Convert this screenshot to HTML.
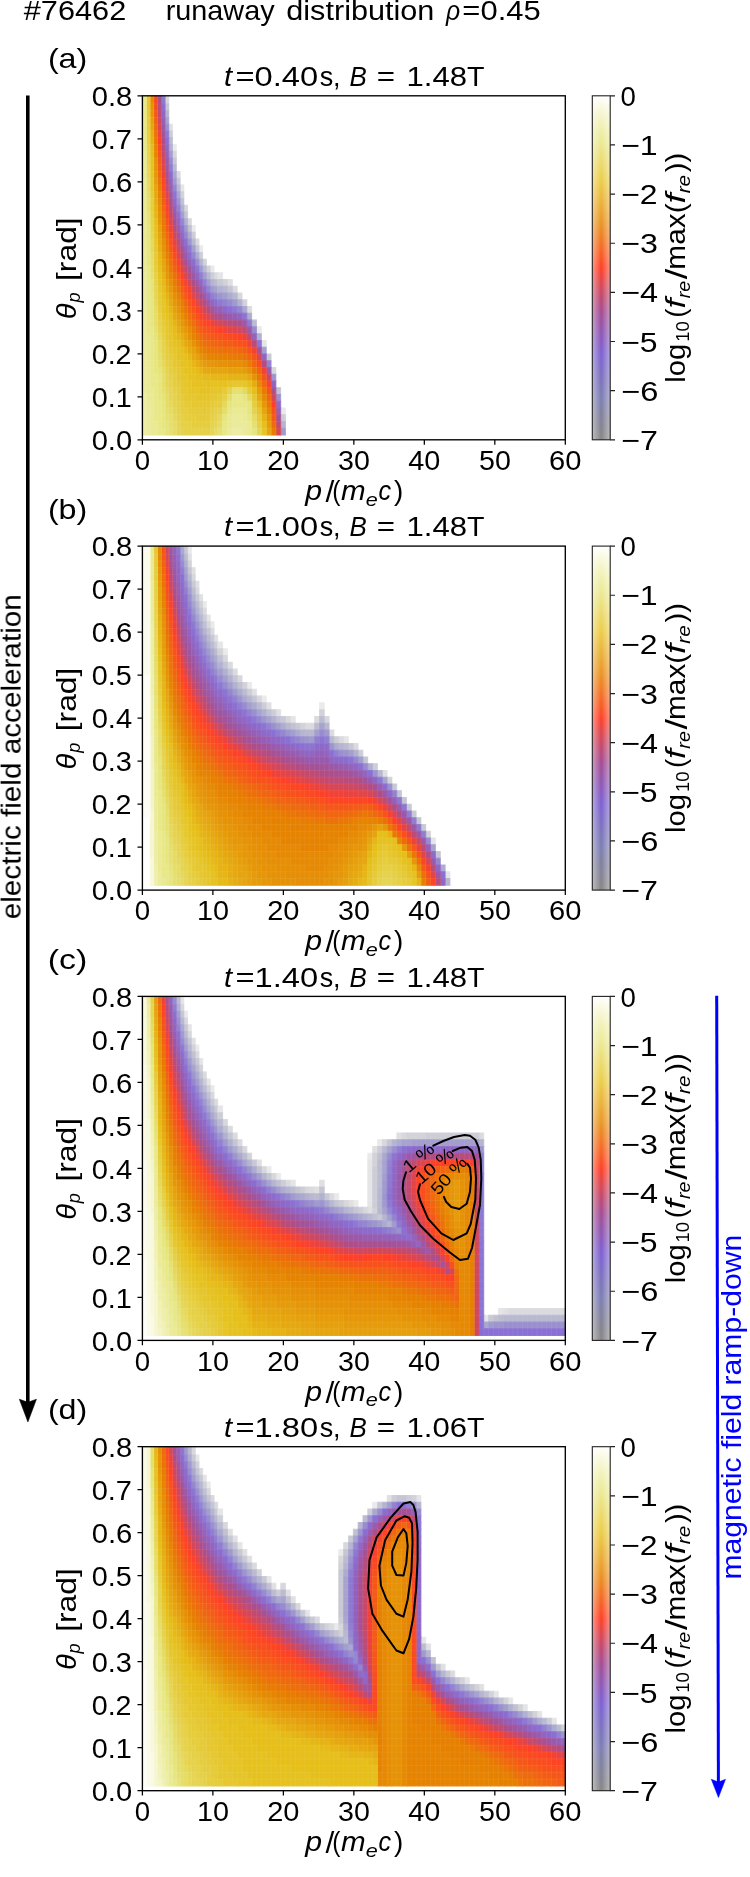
<!DOCTYPE html>
<html><head><meta charset="utf-8"><title>#76462 runaway distribution</title>
<style>html,body{margin:0;padding:0;background:#fff}svg{display:block}text{font-family:"Liberation Sans",sans-serif;font-kerning:none;white-space:pre}</style></head>
<body>
<svg width="750" height="1877" viewBox="0 0 750 1877">
<defs><linearGradient id="cbv" x1="0" y1="0" x2="0" y2="1"><stop offset="0.0000" stop-color="#ffffff"/><stop offset="0.0179" stop-color="#fcfced"/><stop offset="0.0357" stop-color="#f8f8dd"/><stop offset="0.0536" stop-color="#f5f5cd"/><stop offset="0.0714" stop-color="#f2f2bf"/><stop offset="0.0893" stop-color="#f0f0b1"/><stop offset="0.1071" stop-color="#ededa5"/><stop offset="0.1250" stop-color="#ebeb99"/><stop offset="0.1429" stop-color="#ebe78e"/><stop offset="0.1607" stop-color="#ebe282"/><stop offset="0.1786" stop-color="#ebde76"/><stop offset="0.1964" stop-color="#ebd96b"/><stop offset="0.2143" stop-color="#ebd55f"/><stop offset="0.2321" stop-color="#ebd053"/><stop offset="0.2500" stop-color="#ebcc48"/><stop offset="0.2679" stop-color="#ebc443"/><stop offset="0.2857" stop-color="#ebbc3e"/><stop offset="0.3036" stop-color="#eab439"/><stop offset="0.3214" stop-color="#eaac34"/><stop offset="0.3393" stop-color="#eaa32e"/><stop offset="0.3571" stop-color="#ea9b29"/><stop offset="0.3750" stop-color="#ea9224"/><stop offset="0.3929" stop-color="#ec8723"/><stop offset="0.4107" stop-color="#ef7c23"/><stop offset="0.4286" stop-color="#f27123"/><stop offset="0.4464" stop-color="#f56524"/><stop offset="0.4643" stop-color="#f85924"/><stop offset="0.4821" stop-color="#fb4d25"/><stop offset="0.5000" stop-color="#ff4026"/><stop offset="0.5179" stop-color="#f14136"/><stop offset="0.5357" stop-color="#e34346"/><stop offset="0.5536" stop-color="#d64556"/><stop offset="0.5714" stop-color="#c94665"/><stop offset="0.5893" stop-color="#bc4873"/><stop offset="0.6071" stop-color="#b14a82"/><stop offset="0.6250" stop-color="#a54b8f"/><stop offset="0.6429" stop-color="#9e4e9a"/><stop offset="0.6607" stop-color="#9751a4"/><stop offset="0.6786" stop-color="#9154ad"/><stop offset="0.6964" stop-color="#8b57b7"/><stop offset="0.7143" stop-color="#865ac0"/><stop offset="0.7321" stop-color="#815dc8"/><stop offset="0.7500" stop-color="#7d61d0"/><stop offset="0.7679" stop-color="#7c65cb"/><stop offset="0.7857" stop-color="#7c69c6"/><stop offset="0.8036" stop-color="#7c6dc2"/><stop offset="0.8214" stop-color="#7c71bd"/><stop offset="0.8393" stop-color="#7c75ba"/><stop offset="0.8571" stop-color="#7c79b6"/><stop offset="0.8750" stop-color="#7d7db3"/><stop offset="0.8929" stop-color="#7e7eab"/><stop offset="0.9107" stop-color="#7f7fa3"/><stop offset="0.9286" stop-color="#80809c"/><stop offset="0.9464" stop-color="#828296"/><stop offset="0.9643" stop-color="#838390"/><stop offset="0.9821" stop-color="#85858b"/><stop offset="1.0000" stop-color="#878787"/></linearGradient>
<linearGradient id="cbh" x1="0" y1="0" x2="1" y2="0"><stop offset="0" stop-color="#fff" stop-opacity=".45"/><stop offset=".5" stop-color="#fff" stop-opacity="0"/><stop offset="1" stop-color="#fff" stop-opacity=".45"/></linearGradient>
<clipPath id="clip0"><rect x="142.40" y="95.80" width="422.90" height="344.00"/></clipPath>
<clipPath id="clip1"><rect x="142.40" y="546.10" width="422.90" height="344.00"/></clipPath>
<clipPath id="clip2"><rect x="142.40" y="996.40" width="422.90" height="344.00"/></clipPath>
<clipPath id="clip3"><rect x="142.40" y="1446.70" width="422.90" height="344.00"/></clipPath>
</defs>
<rect width="750" height="1877" fill="#fff"/><g style="will-change:transform">
<text x="23.77" y="20.00" font-size="27.51" textLength="102.48" lengthAdjust="spacingAndGlyphs">#76462</text>
<text x="165.69" y="20.00" font-size="27.51" textLength="108.87" lengthAdjust="spacingAndGlyphs">runaway</text>
<text x="286.31" y="20.00" font-size="27.51" textLength="148.07" lengthAdjust="spacingAndGlyphs">distribution</text>
<text x="445.90" y="20.00" font-size="27.51" textLength="14.16" lengthAdjust="spacingAndGlyphs" font-style="italic">ρ</text>
<text x="462.39" y="20.00" font-size="27.51" textLength="78.31" lengthAdjust="spacingAndGlyphs">=0.45</text>
<g clip-path="url(#clip0)"><g stroke-width=".16" transform="matrix(3.7673 0 0 -6.7544 142.541 434.984)"><path fill="#eaeaeb" stroke="#eaeaeb" d="M18 24h1v1h-1zM15 27h1v1h-1zM13 30h1v1h-1zM8 42h1v1h-1zM6 50h1v1h-1z"/><path fill="#e5e5e7" stroke="#e5e5e7" d="M10 36h1v1h-1z"/><path fill="#e0e0e3" stroke="#e0e0e3" d="M7 45h1v1h-1z"/><path fill="#dbdbdf" stroke="#dbdbdf" d="M19 23h1v1h-1zM14 28h1v1h-1zM9 38h1v1h-1z"/><path fill="#d7d7dc" stroke="#d7d7dc" d="M12 31h1v1h-1zM11 33h1v1h-1zM8 41h1v1h-1zM6 49h1v1h-1z"/><path fill="#d2d2d9" stroke="#d2d2d9" d="M17 24h1v1h-1zM16 25h1v1h-1zM10 35h1v1h-1z"/><path fill="#cdcdd7" stroke="#cdcdd7" d="M18 23h1v1h-1zM15 26h1v1h-1zM13 29h1v1h-1zM7 44h1v1h-1z"/><path fill="#c9c9d5" stroke="#c9c9d5" d="M9 37h1v1h-1zM8 40h1v1h-1z"/><path fill="#c5c5d3" stroke="#c5c5d3" d="M14 27h1v1h-1zM11 32h1v1h-1zM6 48h1v1h-1z"/><path fill="#c1c1d2" stroke="#c1c1d2" d="M12 30h1v1h-1zM10 34h1v1h-1z"/><path fill="#bcbcd1" stroke="#bcbcd1" d="M19 22h1v1h-1zM7 43h1v1h-1z"/><path fill="#b8b8d1" stroke="#b8b8d1" d="M17 23h1v1h-1zM16 24h1v1h-1zM13 28h1v1h-1zM9 36h1v1h-1zM8 39h1v1h-1z"/><path fill="#b5b5d1" stroke="#b5b5d1" d="M18 22h1v1h-1zM15 25h1v1h-1zM6 47h1v1h-1z"/><path fill="#b1b1d1" stroke="#b1b1d1" d="M11 31h1v1h-1zM10 33h1v1h-1zM7 42h1v1h-1z"/><path fill="#adacd0" stroke="#adacd0" d="M14 26h1v1h-1zM12 29h1v1h-1z"/><path fill="#aaa8cf" stroke="#aaa8cf" d="M9 35h1v1h-1zM8 38h1v1h-1z"/><path fill="#a6a3cf" stroke="#a6a3cf" d="M19 21h1v1h-1zM6 46h1v1h-1z"/><path fill="#a39ece" stroke="#a39ece" d="M17 22h1v1h-1zM16 23h1v1h-1zM13 27h1v1h-1zM10 32h1v1h-1zM7 41h1v1h-1z"/><path fill="#a09ace" stroke="#a09ace" d="M18 21h1v1h-1zM15 24h1v1h-1zM11 30h1v1h-1zM8 37h1v1h-1z"/><path fill="#9d95ce" stroke="#9d95ce" d="M12 28h1v1h-1zM9 34h1v1h-1z"/><path fill="#9a90ce" stroke="#9a90ce" d="M14 25h1v1h-1zM6 45h1v1h-1z"/><path fill="#988ccf" stroke="#988ccf" d="M7 40h1v1h-1zM5 50h1v1h-1z"/><path fill="#9587cf" stroke="#9587cf" d="M19 20h1v1h-1zM13 26h1v1h-1zM11 29h1v1h-1zM10 31h1v1h-1zM8 36h1v1h-1z"/><path fill="#9282d0" stroke="#9282d0" d="M17 21h1v1h-1zM16 22h1v1h-1zM9 33h1v1h-1z"/><path fill="#907ed1" stroke="#907ed1" d="M18 20h1v1h-1zM15 23h1v1h-1zM7 39h1v1h-1z"/><path fill="#8e79d2" stroke="#8e79d2" d="M12 27h1v1h-1zM6 44h1v1h-1zM5 49h1v1h-1z"/><path fill="#8c74d3" stroke="#8c74d3" d="M14 24h1v1h-1zM10 30h1v1h-1zM8 35h1v1h-1z"/><path fill="#8a70d5" stroke="#8a70d5" d="M11 28h1v1h-1zM9 32h1v1h-1z"/><path fill="#8b6dd1" stroke="#8b6dd1" d="M19 19h1v1h-1zM13 25h1v1h-1zM7 38h1v1h-1zM6 43h1v1h-1zM5 48h1v1h-1z"/><path fill="#8c6bcd" stroke="#8c6bcd" d="M16 21h1v1h-1zM12 26h1v1h-1zM8 34h1v1h-1z"/><path fill="#8d68c9" stroke="#8d68c9" d="M17 20h1v1h-1zM15 22h1v1h-1zM10 29h1v1h-1z"/><path fill="#8f66c4" stroke="#8f66c4" d="M18 19h1v1h-1zM14 23h1v1h-1zM9 31h1v1h-1zM7 37h1v1h-1zM6 42h1v1h-1zM5 47h1v1h-1z"/><path fill="#9164c0" stroke="#9164c0" d="M11 27h1v1h-1z"/><path fill="#9361bb" stroke="#9361bb" d="M13 24h1v1h-1zM8 33h1v1h-1zM6 41h1v1h-1z"/><path fill="#955fb6" stroke="#955fb6" d="M12 25h1v1h-1zM7 36h1v1h-1zM5 46h1v1h-1z"/><path fill="#975db2" stroke="#975db2" d="M19 18h1v1h-1zM10 28h1v1h-1zM9 30h1v1h-1z"/><path fill="#995aad" stroke="#995aad" d="M17 19h1v1h-1zM16 20h1v1h-1zM15 21h1v1h-1zM11 26h1v1h-1zM6 40h1v1h-1zM5 45h1v1h-1z"/><path fill="#9c58a7" stroke="#9c58a7" d="M14 22h1v1h-1zM13 23h1v1h-1zM8 32h1v1h-1zM7 35h1v1h-1z"/><path fill="#9e56a2" stroke="#9e56a2" d="M18 18h1v1h-1zM6 39h1v1h-1z"/><path fill="#a1549d" stroke="#a1549d" d="M12 24h1v1h-1zM10 27h1v1h-1zM9 29h1v1h-1zM5 44h1v1h-1zM4 50h1v1h-1z"/><path fill="#a45297" stroke="#a45297" d="M8 31h1v1h-1z"/><path fill="#a75092" stroke="#a75092" d="M11 25h1v1h-1zM7 34h1v1h-1zM6 38h1v1h-1z"/><path fill="#ad4e8b" stroke="#ad4e8b" d="M16 19h1v1h-1zM15 20h1v1h-1zM14 21h1v1h-1zM13 22h1v1h-1zM5 43h1v1h-1zM4 49h1v1h-1z"/><path fill="#b24d84" stroke="#b24d84" d="M19 17h1v1h-1zM17 18h1v1h-1zM12 23h1v1h-1zM10 26h1v1h-1zM9 28h1v1h-1zM6 37h1v1h-1z"/><path fill="#b84c7d" stroke="#b84c7d" d="M8 30h1v1h-1zM7 33h1v1h-1zM5 42h1v1h-1zM4 48h1v1h-1z"/><path fill="#bd4b76" stroke="#bd4b76" d="M18 17h1v1h-1zM11 24h1v1h-1z"/><path fill="#c34a6e" stroke="#c34a6e" d="M15 19h1v1h-1zM14 20h1v1h-1zM9 27h1v1h-1zM6 36h1v1h-1zM5 41h1v1h-1zM4 47h1v1h-1z"/><path fill="#c94867" stroke="#c94867" d="M16 18h1v1h-1zM13 21h1v1h-1zM10 25h1v1h-1zM8 29h1v1h-1zM7 32h1v1h-1z"/><path fill="#d0475f" stroke="#d0475f" d="M12 22h1v1h-1zM4 46h1v1h-1z"/><path fill="#d64657" stroke="#d64657" d="M17 17h1v1h-1zM11 23h1v1h-1zM6 35h1v1h-1zM5 40h1v1h-1z"/><path fill="#dc454f" stroke="#dc454f" d="M19 16h1v1h-1zM9 26h1v1h-1zM7 31h1v1h-1z"/><path fill="#e34447" stroke="#e34447" d="M15 18h1v1h-1zM14 19h1v1h-1zM13 20h1v1h-1zM10 24h1v1h-1zM8 28h1v1h-1zM5 39h1v1h-1zM4 45h1v1h-1z"/><path fill="#ea433f" stroke="#ea433f" d="M18 16h1v1h-1zM16 17h1v1h-1zM6 34h1v1h-1z"/><path fill="#f14237" stroke="#f14237" d="M12 21h1v1h-1zM7 30h1v1h-1zM5 38h1v1h-1zM4 44h1v1h-1z"/><path fill="#f8412f" stroke="#f8412f" d="M11 22h1v1h-1zM9 25h1v1h-1zM8 27h1v1h-1zM6 33h1v1h-1z"/><path fill="#ff4026" stroke="#ff4026" d="M17 16h1v1h-1zM15 17h1v1h-1zM14 18h1v1h-1zM10 23h1v1h-1zM4 43h1v1h-1zM3 50h1v1h-1z"/><path fill="#fd4523" stroke="#fd4523" d="M19 15h1v1h-1zM16 16h1v1h-1zM13 19h1v1h-1zM12 20h1v1h-1zM7 29h1v1h-1zM6 32h1v1h-1zM5 37h1v1h-1z"/><path fill="#fb4921" stroke="#fb4921" d="M18 15h1v1h-1zM11 21h1v1h-1zM9 24h1v1h-1zM8 26h1v1h-1zM5 36h1v1h-1zM4 42h1v1h-1zM3 49h1v1h-1z"/><path fill="#fa4e1e" stroke="#fa4e1e" d="M17 15h1v1h-1zM15 16h1v1h-1zM14 17h1v1h-1zM10 22h1v1h-1zM7 28h1v1h-1zM3 48h1v1h-1z"/><path fill="#f8521b" stroke="#f8521b" d="M19 14h1v1h-1zM16 15h1v1h-1zM13 18h1v1h-1zM12 19h1v1h-1zM6 31h1v1h-1zM5 35h1v1h-1zM4 41h1v1h-1z"/><path fill="#f65718" stroke="#f65718" d="M18 14h1v1h-1zM11 20h1v1h-1zM9 23h1v1h-1zM8 25h1v1h-1zM7 27h1v1h-1zM3 47h1v1h-1z"/><path fill="#f45b16" stroke="#f45b16" d="M17 14h1v1h-1zM15 15h1v1h-1zM14 16h1v1h-1zM10 21h1v1h-1zM6 30h1v1h-1zM5 34h1v1h-1zM4 40h1v1h-1z"/><path fill="#f26013" stroke="#f26013" d="M16 14h1v1h-1zM13 17h1v1h-1zM12 18h1v1h-1zM8 24h1v1h-1zM4 39h1v1h-1zM3 46h1v1h-1z"/><path fill="#f16510" stroke="#f16510" d="M18 13h1v1h-1zM19 13h1v1h-1zM11 19h1v1h-1zM9 22h1v1h-1zM7 26h1v1h-1zM6 29h1v1h-1zM5 33h1v1h-1z"/><path fill="#ef690e" stroke="#ef690e" d="M17 13h1v1h-1zM15 14h1v1h-1zM14 15h1v1h-1zM10 20h1v1h-1zM4 38h1v1h-1zM3 45h1v1h-1z"/><path fill="#ed6e0b" stroke="#ed6e0b" d="M16 13h1v1h-1zM13 16h1v1h-1zM12 17h1v1h-1zM8 23h1v1h-1zM7 25h1v1h-1zM6 28h1v1h-1zM5 32h1v1h-1z"/><path fill="#eb7208" stroke="#eb7208" d="M19 12h1v1h-1zM11 18h1v1h-1zM9 21h1v1h-1zM4 37h1v1h-1zM3 44h1v1h-1z"/><path fill="#ea7705" stroke="#ea7705" d="M17 12h1v1h-1zM18 12h1v1h-1zM15 13h1v1h-1zM14 14h1v1h-1zM7 24h1v1h-1zM6 27h1v1h-1zM5 31h1v1h-1zM3 43h1v1h-1z"/><path fill="#e87b03" stroke="#e87b03" d="M16 12h1v1h-1zM13 15h1v1h-1zM12 16h1v1h-1zM10 19h1v1h-1zM8 22h1v1h-1zM5 30h1v1h-1zM4 36h1v1h-1z"/><path fill="#e68000" stroke="#e68000" d="M19 11h1v1h-1zM11 17h1v1h-1zM9 20h1v1h-1zM6 26h1v1h-1zM3 42h1v1h-1z"/><path fill="#e68402" stroke="#e68402" d="M17 11h1v1h-1zM18 11h1v1h-1zM15 12h1v1h-1zM14 13h1v1h-1zM13 14h1v1h-1zM10 18h1v1h-1zM8 21h1v1h-1zM7 23h1v1h-1zM5 29h1v1h-1zM4 35h1v1h-1zM3 41h1v1h-1zM2 50h1v1h-1z"/><path fill="#e68904" stroke="#e68904" d="M16 11h1v1h-1zM12 15h1v1h-1zM11 16h1v1h-1zM9 19h1v1h-1zM6 25h1v1h-1zM4 34h1v1h-1zM2 49h1v1h-1z"/><path fill="#e68e06" stroke="#e68e06" d="M10 17h1v1h-1zM8 20h1v1h-1zM7 22h1v1h-1zM5 28h1v1h-1zM4 33h1v1h-1zM3 40h1v1h-1z"/><path fill="#e69207" stroke="#e69207" d="M19 10h1v1h-1zM15 11h1v1h-1zM14 12h1v1h-1zM13 13h1v1h-1zM12 14h1v1h-1zM9 18h1v1h-1zM6 24h1v1h-1zM5 27h1v1h-1zM4 32h1v1h-1zM3 39h1v1h-1zM2 48h1v1h-1z"/><path fill="#e69609" stroke="#e69609" d="M17 10h1v1h-1zM18 10h1v1h-1zM11 15h1v1h-1zM10 16h1v1h-1zM8 19h1v1h-1zM7 21h1v1h-1zM6 23h1v1h-1zM4 31h1v1h-1zM3 38h1v1h-1zM2 47h1v1h-1z"/><path fill="#e69b0b" stroke="#e69b0b" d="M16 10h1v1h-1zM9 17h1v1h-1zM5 26h1v1h-1zM3 37h1v1h-1z"/><path fill="#e6a00d" stroke="#e6a00d" d="M14 11h1v1h-1zM13 12h1v1h-1zM12 13h1v1h-1zM11 14h1v1h-1zM10 15h1v1h-1zM8 18h1v1h-1zM7 20h1v1h-1zM6 22h1v1h-1zM4 30h1v1h-1zM2 46h1v1h-1z"/><path fill="#e6a40f" stroke="#e6a40f" d="M18 9h1v1h-1zM19 9h1v1h-1zM15 10h1v1h-1zM9 16h1v1h-1zM5 25h1v1h-1zM4 29h1v1h-1zM3 36h1v1h-1zM2 45h1v1h-1z"/><path fill="#e6a811" stroke="#e6a811" d="M16 9h1v1h-1zM17 9h1v1h-1zM13 11h1v1h-1zM12 12h1v1h-1zM11 13h1v1h-1zM8 17h1v1h-1zM7 19h1v1h-1zM6 21h1v1h-1zM5 24h1v1h-1zM4 28h1v1h-1zM3 35h1v1h-1z"/><path fill="#e6ad13" stroke="#e6ad13" d="M14 10h1v1h-1zM10 14h1v1h-1zM9 15h1v1h-1zM4 27h1v1h-1zM3 34h1v1h-1zM2 44h1v1h-1z"/><path fill="#e6b214" stroke="#e6b214" d="M15 9h1v1h-1zM8 16h1v1h-1zM7 18h1v1h-1zM6 20h1v1h-1zM5 23h1v1h-1zM3 33h1v1h-1zM2 43h1v1h-1z"/><path fill="#e6b616" stroke="#e6b616" d="M18 8h1v1h-1zM19 8h1v1h-1zM13 10h1v1h-1zM12 11h1v1h-1zM11 12h1v1h-1zM10 13h1v1h-1zM9 14h1v1h-1zM4 26h1v1h-1zM3 32h1v1h-1z"/><path fill="#e6ba18" stroke="#e6ba18" d="M16 8h1v1h-1zM17 8h1v1h-1zM14 9h1v1h-1zM8 15h1v1h-1zM7 17h1v1h-1zM6 19h1v1h-1zM5 22h1v1h-1zM4 25h1v1h-1zM2 42h1v1h-1z"/><path fill="#e6bf1a" stroke="#e6bf1a" d="M17 7h1v1h-1zM14 8h1v1h-1zM15 8h1v1h-1zM13 9h1v1h-1zM12 10h1v1h-1zM11 11h1v1h-1zM10 12h1v1h-1zM9 13h1v1h-1zM8 14h1v1h-1zM7 16h1v1h-1zM6 18h1v1h-1zM5 21h1v1h-1zM4 24h1v1h-1zM3 31h1v1h-1zM2 41h1v1h-1z"/><path fill="#e6c221" stroke="#e6c221" d="M15 6h1v1h-1zM16 6h1v1h-1zM17 6h1v1h-1zM13 7h1v1h-1zM14 7h1v1h-1zM15 7h1v1h-1zM16 7h1v1h-1zM18 7h1v1h-1zM19 7h1v1h-1zM12 8h1v1h-1zM13 8h1v1h-1zM11 9h1v1h-1zM12 9h1v1h-1zM10 10h1v1h-1zM11 10h1v1h-1zM9 11h1v1h-1zM10 11h1v1h-1zM9 12h1v1h-1zM8 13h1v1h-1zM7 15h1v1h-1zM6 17h1v1h-1zM5 20h1v1h-1zM4 23h1v1h-1zM3 29h1v1h-1zM3 30h1v1h-1zM2 39h1v1h-1zM2 40h1v1h-1z"/><path fill="#e6c529" stroke="#e6c529" d="M14 5h1v1h-1zM15 5h1v1h-1zM16 5h1v1h-1zM17 5h1v1h-1zM12 6h1v1h-1zM13 6h1v1h-1zM14 6h1v1h-1zM18 6h1v1h-1zM19 6h1v1h-1zM11 7h1v1h-1zM12 7h1v1h-1zM10 8h1v1h-1zM11 8h1v1h-1zM10 9h1v1h-1zM9 10h1v1h-1zM8 12h1v1h-1zM7 13h1v1h-1zM7 14h1v1h-1zM6 16h1v1h-1zM5 18h1v1h-1zM5 19h1v1h-1zM4 22h1v1h-1zM3 28h1v1h-1zM2 38h1v1h-1zM1 50h1v1h-1z"/><path fill="#e6c730" stroke="#e6c730" d="M16 3h1v1h-1zM13 4h1v1h-1zM14 4h1v1h-1zM15 4h1v1h-1zM16 4h1v1h-1zM17 4h1v1h-1zM11 5h1v1h-1zM12 5h1v1h-1zM13 5h1v1h-1zM18 5h1v1h-1zM19 5h1v1h-1zM10 6h1v1h-1zM11 6h1v1h-1zM10 7h1v1h-1zM9 8h1v1h-1zM9 9h1v1h-1zM8 10h1v1h-1zM8 11h1v1h-1zM7 12h1v1h-1zM6 14h1v1h-1zM6 15h1v1h-1zM5 17h1v1h-1zM4 21h1v1h-1zM3 27h1v1h-1zM2 36h1v1h-1zM2 37h1v1h-1zM1 48h1v1h-1zM1 49h1v1h-1z"/><path fill="#e6ca37" stroke="#e6ca37" d="M14 2h1v1h-1zM15 2h1v1h-1zM16 2h1v1h-1zM17 2h1v1h-1zM12 3h1v1h-1zM13 3h1v1h-1zM14 3h1v1h-1zM15 3h1v1h-1zM17 3h1v1h-1zM11 4h1v1h-1zM12 4h1v1h-1zM18 4h1v1h-1zM10 5h1v1h-1zM9 7h1v1h-1zM8 9h1v1h-1zM7 11h1v1h-1zM6 13h1v1h-1zM5 16h1v1h-1zM4 19h1v1h-1zM4 20h1v1h-1zM3 25h1v1h-1zM3 26h1v1h-1zM2 35h1v1h-1zM1 47h1v1h-1z"/><path fill="#e6cd3e" stroke="#e6cd3e" d="M13 1h1v1h-1zM14 1h1v1h-1zM15 1h1v1h-1zM16 1h1v1h-1zM17 1h1v1h-1zM11 2h1v1h-1zM12 2h1v1h-1zM13 2h1v1h-1zM10 3h1v1h-1zM11 3h1v1h-1zM18 3h1v1h-1zM10 4h1v1h-1zM19 4h1v1h-1zM9 5h1v1h-1zM9 6h1v1h-1zM8 7h1v1h-1zM8 8h1v1h-1zM7 9h1v1h-1zM7 10h1v1h-1zM6 11h1v1h-1zM6 12h1v1h-1zM5 15h1v1h-1zM4 18h1v1h-1zM3 24h1v1h-1zM2 33h1v1h-1zM2 34h1v1h-1zM1 45h1v1h-1zM1 46h1v1h-1z"/><path fill="#e6d046" stroke="#e6d046" d="M11 0h1v1h-1zM12 0h1v1h-1zM13 0h1v1h-1zM14 0h1v1h-1zM15 0h1v1h-1zM16 0h1v1h-1zM17 0h1v1h-1zM10 1h1v1h-1zM11 1h1v1h-1zM12 1h1v1h-1zM10 2h1v1h-1zM18 2h1v1h-1zM9 3h1v1h-1zM19 3h1v1h-1zM9 4h1v1h-1zM8 6h1v1h-1zM7 8h1v1h-1zM6 10h1v1h-1zM5 14h1v1h-1zM4 17h1v1h-1zM3 23h1v1h-1zM2 32h1v1h-1zM1 43h1v1h-1zM1 44h1v1h-1z"/><path fill="#e6d24d" stroke="#e6d24d" d="M10 0h1v1h-1zM18 1h1v1h-1zM9 2h1v1h-1zM19 2h1v1h-1zM8 4h1v1h-1zM8 5h1v1h-1zM7 7h1v1h-1zM6 9h1v1h-1zM5 12h1v1h-1zM5 13h1v1h-1zM4 16h1v1h-1zM3 22h1v1h-1zM2 30h1v1h-1zM2 31h1v1h-1zM1 42h1v1h-1z"/><path fill="#e6d554" stroke="#e6d554" d="M9 0h1v1h-1zM18 0h1v1h-1zM9 1h1v1h-1zM19 1h1v1h-1zM8 3h1v1h-1zM7 5h1v1h-1zM7 6h1v1h-1zM6 7h1v1h-1zM6 8h1v1h-1zM5 11h1v1h-1zM4 15h1v1h-1zM3 20h1v1h-1zM3 21h1v1h-1zM2 29h1v1h-1zM1 40h1v1h-1zM1 41h1v1h-1z"/><path fill="#e6d85c" stroke="#e6d85c" d="M8 2h1v1h-1zM7 4h1v1h-1zM6 6h1v1h-1zM5 10h1v1h-1zM4 14h1v1h-1zM3 19h1v1h-1zM2 27h1v1h-1zM2 28h1v1h-1zM1 38h1v1h-1zM1 39h1v1h-1z"/><path fill="#e6db63" stroke="#e6db63" d="M8 0h1v1h-1zM19 0h1v1h-1zM8 1h1v1h-1zM7 3h1v1h-1zM6 4h1v1h-1zM6 5h1v1h-1zM5 9h1v1h-1zM4 12h1v1h-1zM4 13h1v1h-1zM3 18h1v1h-1zM2 26h1v1h-1zM1 36h1v1h-1zM1 37h1v1h-1z"/><path fill="#e6de6a" stroke="#e6de6a" d="M7 1h1v1h-1zM7 2h1v1h-1zM6 3h1v1h-1zM5 7h1v1h-1zM5 8h1v1h-1zM4 11h1v1h-1zM3 16h1v1h-1zM3 17h1v1h-1zM2 24h1v1h-1zM2 25h1v1h-1zM1 35h1v1h-1z"/><path fill="#e6e071" stroke="#e6e071" d="M7 0h1v1h-1zM6 2h1v1h-1zM5 6h1v1h-1zM4 10h1v1h-1zM3 15h1v1h-1zM2 23h1v1h-1zM1 33h1v1h-1zM1 34h1v1h-1z"/><path fill="#e6e379" stroke="#e6e379" d="M6 0h1v1h-1zM6 1h1v1h-1zM5 5h1v1h-1zM4 9h1v1h-1zM3 14h1v1h-1zM2 21h1v1h-1zM2 22h1v1h-1zM1 31h1v1h-1zM1 32h1v1h-1z"/><path fill="#e6e680" stroke="#e6e680" d="M5 1h1v1h-1zM5 2h1v1h-1zM5 3h1v1h-1zM5 4h1v1h-1zM4 5h1v1h-1zM4 6h1v1h-1zM4 7h1v1h-1zM4 8h1v1h-1zM3 9h1v1h-1zM3 10h1v1h-1zM3 11h1v1h-1zM3 12h1v1h-1zM3 13h1v1h-1zM2 16h1v1h-1zM2 17h1v1h-1zM2 18h1v1h-1zM2 19h1v1h-1zM2 20h1v1h-1zM1 25h1v1h-1zM1 26h1v1h-1zM1 27h1v1h-1zM1 28h1v1h-1zM1 29h1v1h-1zM1 30h1v1h-1z"/><path fill="#e8e889" stroke="#e8e889" d="M4 0h1v1h-1zM5 0h1v1h-1zM4 1h1v1h-1zM3 2h1v1h-1zM4 2h1v1h-1zM3 3h1v1h-1zM4 3h1v1h-1zM3 4h1v1h-1zM4 4h1v1h-1zM3 5h1v1h-1zM3 6h1v1h-1zM2 7h1v1h-1zM3 7h1v1h-1zM2 8h1v1h-1zM3 8h1v1h-1zM2 9h1v1h-1zM2 10h1v1h-1zM2 11h1v1h-1zM2 12h1v1h-1zM2 13h1v1h-1zM2 14h1v1h-1zM1 15h1v1h-1zM2 15h1v1h-1zM1 16h1v1h-1zM1 17h1v1h-1zM1 18h1v1h-1zM1 19h1v1h-1zM1 20h1v1h-1zM1 21h1v1h-1zM1 22h1v1h-1zM1 23h1v1h-1zM1 24h1v1h-1zM0 42h1v1h-1zM0 43h1v1h-1zM0 44h1v1h-1zM0 45h1v1h-1zM0 46h1v1h-1zM0 47h1v1h-1zM0 48h1v1h-1zM0 49h1v1h-1zM0 50h1v1h-1z"/><path fill="#eaea92" stroke="#eaea92" d="M2 0h1v1h-1zM3 0h1v1h-1zM2 1h1v1h-1zM3 1h1v1h-1zM2 2h1v1h-1zM2 3h1v1h-1zM2 4h1v1h-1zM1 5h1v1h-1zM2 5h1v1h-1zM1 6h1v1h-1zM2 6h1v1h-1zM1 7h1v1h-1zM1 8h1v1h-1zM1 9h1v1h-1zM1 10h1v1h-1zM1 11h1v1h-1zM1 12h1v1h-1zM1 13h1v1h-1zM1 14h1v1h-1zM0 24h1v1h-1zM0 25h1v1h-1zM0 26h1v1h-1zM0 27h1v1h-1zM0 28h1v1h-1zM0 29h1v1h-1zM0 30h1v1h-1zM0 31h1v1h-1zM0 32h1v1h-1zM0 33h1v1h-1zM0 34h1v1h-1zM0 35h1v1h-1zM0 36h1v1h-1zM0 37h1v1h-1zM0 38h1v1h-1zM0 39h1v1h-1zM0 40h1v1h-1zM0 41h1v1h-1z"/><path fill="#ebeb9b" stroke="#ebeb9b" d="M1 0h1v1h-1zM1 1h1v1h-1zM1 2h1v1h-1zM1 3h1v1h-1zM1 4h1v1h-1zM0 6h1v1h-1zM0 7h1v1h-1zM0 8h1v1h-1zM0 9h1v1h-1zM0 10h1v1h-1zM0 11h1v1h-1zM0 12h1v1h-1zM0 13h1v1h-1zM0 14h1v1h-1zM0 15h1v1h-1zM0 16h1v1h-1zM0 17h1v1h-1zM0 18h1v1h-1zM0 19h1v1h-1zM0 20h1v1h-1zM0 21h1v1h-1zM0 22h1v1h-1zM0 23h1v1h-1z"/><path fill="#ededa4" stroke="#ededa4" d="M0 0h1v1h-1zM0 1h1v1h-1zM0 2h1v1h-1zM0 3h1v1h-1zM0 4h1v1h-1zM0 5h1v1h-1z"/></g><g stroke-width=".16" transform="matrix(4.8352 0 0 -6.7544 217.888 434.984)"><path fill="#eaeaeb" stroke="#eaeaeb" d="M13 3h1v1h-1zM8 15h1v1h-1z"/><path fill="#e5e5e7" stroke="#e5e5e7" d="M9 13h1v1h-1zM0 23h1v1h-1z"/><path fill="#e0e0e3" stroke="#e0e0e3" d="M2 22h1v1h-1z"/><path fill="#dbdbdf" stroke="#dbdbdf" d="M6 18h1v1h-1zM3 21h1v1h-1z"/><path fill="#d7d7dc" stroke="#d7d7dc" d="M11 9h1v1h-1zM4 20h1v1h-1z"/><path fill="#d2d2d9" stroke="#d2d2d9" d="M5 19h1v1h-1zM1 22h1v1h-1z"/><path fill="#cdcdd7" stroke="#cdcdd7" d="M13 2h1v1h-1z"/><path fill="#c9c9d5" stroke="#c9c9d5" d="M10 11h1v1h-1zM0 22h1v1h-1z"/><path fill="#c5c5d3" stroke="#c5c5d3" d="M2 21h1v1h-1z"/><path fill="#c1c1d2" stroke="#c1c1d2" d="M12 6h1v1h-1z"/><path fill="#bcbcd1" stroke="#bcbcd1" d="M7 16h1v1h-1z"/><path fill="#b8b8d1" stroke="#b8b8d1" d="M3 20h1v1h-1zM1 21h1v1h-1z"/><path fill="#b5b5d1" stroke="#b5b5d1" d="M13 1h1v1h-1z"/><path fill="#b1b1d1" stroke="#b1b1d1" d="M8 14h1v1h-1zM4 19h1v1h-1zM0 21h1v1h-1z"/><path fill="#adacd0" stroke="#adacd0" d="M6 17h1v1h-1zM2 20h1v1h-1z"/><path fill="#aaa8cf" stroke="#aaa8cf" d="M5 18h1v1h-1z"/><path fill="#a39ece" stroke="#a39ece" d="M9 12h1v1h-1zM1 20h1v1h-1z"/><path fill="#a09ace" stroke="#a09ace" d="M13 0h1v1h-1zM3 19h1v1h-1z"/><path fill="#9d95ce" stroke="#9d95ce" d="M11 8h1v1h-1zM0 20h1v1h-1z"/><path fill="#9a90ce" stroke="#9a90ce" d="M12 5h1v1h-1z"/><path fill="#988ccf" stroke="#988ccf" d="M7 15h1v1h-1zM2 19h1v1h-1z"/><path fill="#9587cf" stroke="#9587cf" d="M4 18h1v1h-1z"/><path fill="#9282d0" stroke="#9282d0" d="M10 10h1v1h-1zM1 19h1v1h-1z"/><path fill="#8e79d2" stroke="#8e79d2" d="M6 16h1v1h-1zM3 18h1v1h-1zM0 19h1v1h-1z"/><path fill="#8c74d3" stroke="#8c74d3" d="M8 13h1v1h-1zM5 17h1v1h-1z"/><path fill="#8a70d5" stroke="#8a70d5" d="M2 18h1v1h-1z"/><path fill="#8c6bcd" stroke="#8c6bcd" d="M12 4h1v1h-1z"/><path fill="#8d68c9" stroke="#8d68c9" d="M1 18h1v1h-1z"/><path fill="#8f66c4" stroke="#8f66c4" d="M9 11h1v1h-1z"/><path fill="#9164c0" stroke="#9164c0" d="M11 7h1v1h-1zM7 14h1v1h-1zM4 17h1v1h-1z"/><path fill="#9361bb" stroke="#9361bb" d="M0 18h1v1h-1z"/><path fill="#955fb6" stroke="#955fb6" d="M12 3h1v1h-1zM3 17h1v1h-1z"/><path fill="#995aad" stroke="#995aad" d="M10 9h1v1h-1zM6 15h1v1h-1zM5 16h1v1h-1zM2 17h1v1h-1z"/><path fill="#9e56a2" stroke="#9e56a2" d="M1 17h1v1h-1z"/><path fill="#a1549d" stroke="#a1549d" d="M8 12h1v1h-1z"/><path fill="#a45297" stroke="#a45297" d="M12 2h1v1h-1z"/><path fill="#a75092" stroke="#a75092" d="M11 6h1v1h-1zM4 16h1v1h-1zM0 17h1v1h-1z"/><path fill="#b24d84" stroke="#b24d84" d="M9 10h1v1h-1zM7 13h1v1h-1zM3 16h1v1h-1z"/><path fill="#b84c7d" stroke="#b84c7d" d="M2 16h1v1h-1z"/><path fill="#bd4b76" stroke="#bd4b76" d="M12 1h1v1h-1zM6 14h1v1h-1zM5 15h1v1h-1z"/><path fill="#c34a6e" stroke="#c34a6e" d="M10 8h1v1h-1zM1 16h1v1h-1z"/><path fill="#d0475f" stroke="#d0475f" d="M11 5h1v1h-1zM4 15h1v1h-1zM0 16h1v1h-1z"/><path fill="#d64657" stroke="#d64657" d="M8 11h1v1h-1z"/><path fill="#dc454f" stroke="#dc454f" d="M12 0h1v1h-1zM3 15h1v1h-1z"/><path fill="#e34447" stroke="#e34447" d="M2 15h1v1h-1z"/><path fill="#ea433f" stroke="#ea433f" d="M5 14h1v1h-1z"/><path fill="#f14237" stroke="#f14237" d="M9 9h1v1h-1zM7 12h1v1h-1zM6 13h1v1h-1zM1 15h1v1h-1z"/><path fill="#f8412f" stroke="#f8412f" d="M10 7h1v1h-1z"/><path fill="#ff4026" stroke="#ff4026" d="M11 4h1v1h-1zM4 14h1v1h-1zM0 15h1v1h-1z"/><path fill="#fd4523" stroke="#fd4523" d="M3 14h1v1h-1z"/><path fill="#fb4921" stroke="#fb4921" d="M8 10h1v1h-1zM2 14h1v1h-1z"/><path fill="#fa4e1e" stroke="#fa4e1e" d="M11 3h1v1h-1zM5 13h1v1h-1zM1 14h1v1h-1z"/><path fill="#f8521b" stroke="#f8521b" d="M10 6h1v1h-1zM9 8h1v1h-1zM7 11h1v1h-1zM6 12h1v1h-1zM4 13h1v1h-1zM0 14h1v1h-1z"/><path fill="#f65718" stroke="#f65718" d="M3 13h1v1h-1z"/><path fill="#f45b16" stroke="#f45b16" d="M11 2h1v1h-1zM1 13h1v1h-1zM2 13h1v1h-1z"/><path fill="#f26013" stroke="#f26013" d="M8 9h1v1h-1zM5 12h1v1h-1zM0 13h1v1h-1z"/><path fill="#f16510" stroke="#f16510" d="M10 5h1v1h-1zM9 7h1v1h-1zM7 10h1v1h-1zM6 11h1v1h-1zM4 12h1v1h-1z"/><path fill="#ef690e" stroke="#ef690e" d="M11 1h1v1h-1zM3 12h1v1h-1z"/><path fill="#ed6e0b" stroke="#ed6e0b" d="M1 12h1v1h-1zM2 12h1v1h-1z"/><path fill="#eb7208" stroke="#eb7208" d="M5 11h1v1h-1zM0 12h1v1h-1z"/><path fill="#ea7705" stroke="#ea7705" d="M10 4h1v1h-1zM8 8h1v1h-1zM4 11h1v1h-1z"/><path fill="#e87b03" stroke="#e87b03" d="M11 0h1v1h-1zM9 6h1v1h-1zM7 9h1v1h-1zM6 10h1v1h-1zM2 11h1v1h-1zM3 11h1v1h-1z"/><path fill="#e68000" stroke="#e68000" d="M0 11h1v1h-1zM1 11h1v1h-1z"/><path fill="#e68402" stroke="#e68402" d="M10 3h1v1h-1z"/><path fill="#e68904" stroke="#e68904" d="M9 5h1v1h-1zM8 7h1v1h-1zM5 10h1v1h-1z"/><path fill="#e68e06" stroke="#e68e06" d="M2 10h1v1h-1zM3 10h1v1h-1zM4 10h1v1h-1z"/><path fill="#e69207" stroke="#e69207" d="M10 2h1v1h-1zM7 8h1v1h-1zM6 9h1v1h-1zM0 10h1v1h-1zM1 10h1v1h-1z"/><path fill="#e69609" stroke="#e69609" d="M9 4h1v1h-1z"/><path fill="#e69b0b" stroke="#e69b0b" d="M10 1h1v1h-1zM8 6h1v1h-1zM5 9h1v1h-1z"/><path fill="#e6a00d" stroke="#e6a00d" d="M2 9h1v1h-1zM3 9h1v1h-1zM4 9h1v1h-1z"/><path fill="#e6a40f" stroke="#e6a40f" d="M10 0h1v1h-1zM9 3h1v1h-1zM0 9h1v1h-1zM1 9h1v1h-1z"/><path fill="#e6a811" stroke="#e6a811" d="M8 5h1v1h-1zM6 8h1v1h-1z"/><path fill="#e6ad13" stroke="#e6ad13" d="M7 7h1v1h-1z"/><path fill="#e6b214" stroke="#e6b214" d="M9 2h1v1h-1zM2 8h1v1h-1zM3 8h1v1h-1zM4 8h1v1h-1zM5 8h1v1h-1z"/><path fill="#e6b616" stroke="#e6b616" d="M0 8h1v1h-1zM1 8h1v1h-1z"/><path fill="#e6ba18" stroke="#e6ba18" d="M8 4h1v1h-1z"/><path fill="#e6bf1a" stroke="#e6bf1a" d="M9 1h1v1h-1zM7 6h1v1h-1zM6 7h1v1h-1z"/><path fill="#e6c221" stroke="#e6c221" d="M0 7h1v1h-1zM1 7h1v1h-1z"/><path fill="#e6c529" stroke="#e6c529" d="M9 0h1v1h-1zM8 3h1v1h-1zM0 6h1v1h-1zM2 7h1v1h-1zM5 7h1v1h-1z"/><path fill="#e6c730" stroke="#e6c730" d="M7 5h1v1h-1zM3 7h1v1h-1zM4 7h1v1h-1z"/><path fill="#e6ca37" stroke="#e6ca37" d="M8 2h1v1h-1zM0 5h1v1h-1zM1 6h1v1h-1zM6 6h1v1h-1z"/><path fill="#e6cd3e" stroke="#e6cd3e" d="M0 4h1v1h-1zM7 4h1v1h-1z"/><path fill="#e6d046" stroke="#e6d046" d="M8 1h1v1h-1zM1 5h1v1h-1z"/><path fill="#e6d24d" stroke="#e6d24d" d="M0 3h1v1h-1zM7 3h1v1h-1zM2 6h1v1h-1z"/><path fill="#e6d554" stroke="#e6d554" d="M8 0h1v1h-1z"/><path fill="#e6d85c" stroke="#e6d85c" d="M0 2h1v1h-1zM1 4h1v1h-1zM6 5h1v1h-1zM5 6h1v1h-1z"/><path fill="#e6db63" stroke="#e6db63" d="M0 1h1v1h-1zM7 2h1v1h-1z"/><path fill="#e6de6a" stroke="#e6de6a" d="M1 3h1v1h-1zM2 5h1v1h-1z"/><path fill="#e6e071" stroke="#e6e071" d="M0 0h1v1h-1zM7 1h1v1h-1zM3 6h1v1h-1zM4 6h1v1h-1z"/><path fill="#e6e680" stroke="#e6e680" d="M7 0h1v1h-1zM1 2h1v1h-1zM6 3h1v1h-1zM2 4h1v1h-1zM6 4h1v1h-1zM5 5h1v1h-1z"/><path fill="#e8e889" stroke="#e8e889" d="M1 0h1v1h-1zM1 1h1v1h-1zM6 2h1v1h-1zM2 3h1v1h-1zM3 4h1v1h-1zM4 4h1v1h-1zM5 4h1v1h-1zM3 5h1v1h-1zM4 5h1v1h-1z"/><path fill="#eaea92" stroke="#eaea92" d="M6 0h1v1h-1zM2 1h1v1h-1zM6 1h1v1h-1zM2 2h1v1h-1zM5 2h1v1h-1zM3 3h1v1h-1zM4 3h1v1h-1zM5 3h1v1h-1z"/><path fill="#ebeb9b" stroke="#ebeb9b" d="M2 0h1v1h-1zM5 0h1v1h-1zM3 1h1v1h-1zM4 1h1v1h-1zM5 1h1v1h-1zM3 2h1v1h-1zM4 2h1v1h-1z"/><path fill="#ededa4" stroke="#ededa4" d="M3 0h1v1h-1zM4 0h1v1h-1z"/></g><path d="M146.31 95.8V439.8M150.08 95.8V439.8M153.84 95.8V439.8M157.61 95.8V439.8M161.38 95.8V439.8M165.14 95.8V439.8M168.91 95.8V439.8M172.68 95.8V439.8M176.45 95.8V439.8M180.21 95.8V439.8M183.98 95.8V439.8M187.75 95.8V439.8M191.52 95.8V439.8M195.28 95.8V439.8M199.05 95.8V439.8M202.82 95.8V439.8M206.59 95.8V439.8M210.35 95.8V439.8M214.12 95.8V439.8M217.89 95.8V439.8M222.72 95.8V439.8M227.56 95.8V439.8M232.39 95.8V439.8M237.23 95.8V439.8M242.06 95.8V439.8M246.90 95.8V439.8M251.73 95.8V439.8M256.57 95.8V439.8M261.40 95.8V439.8M266.24 95.8V439.8M271.07 95.8V439.8M275.91 95.8V439.8M280.74 95.8V439.8M285.58 95.8V439.8M290.41 95.8V439.8M295.25 95.8V439.8M300.09 95.8V439.8M304.92 95.8V439.8M309.76 95.8V439.8M314.59 95.8V439.8M319.43 95.8V439.8M324.26 95.8V439.8M329.10 95.8V439.8M333.93 95.8V439.8M338.77 95.8V439.8M343.60 95.8V439.8M348.44 95.8V439.8M353.27 95.8V439.8M358.11 95.8V439.8M362.94 95.8V439.8M367.78 95.8V439.8M372.61 95.8V439.8M377.45 95.8V439.8M382.28 95.8V439.8M387.12 95.8V439.8M391.95 95.8V439.8M396.79 95.8V439.8M401.62 95.8V439.8M406.46 95.8V439.8M411.29 95.8V439.8M416.13 95.8V439.8M420.96 95.8V439.8M425.80 95.8V439.8M430.63 95.8V439.8M435.47 95.8V439.8M440.30 95.8V439.8M445.14 95.8V439.8M449.98 95.8V439.8M454.81 95.8V439.8M459.65 95.8V439.8M464.48 95.8V439.8M469.32 95.8V439.8M474.15 95.8V439.8M478.99 95.8V439.8M483.82 95.8V439.8M488.66 95.8V439.8M493.49 95.8V439.8M498.33 95.8V439.8M503.16 95.8V439.8M508.00 95.8V439.8M512.83 95.8V439.8M517.67 95.8V439.8M522.50 95.8V439.8M527.34 95.8V439.8M532.17 95.8V439.8M537.01 95.8V439.8M541.84 95.8V439.8M546.68 95.8V439.8M551.51 95.8V439.8M556.35 95.8V439.8M561.18 95.8V439.8M142.4 434.98H565.3M142.4 428.23H565.3M142.4 421.48H565.3M142.4 414.72H565.3M142.4 407.97H565.3M142.4 401.21H565.3M142.4 394.46H565.3M142.4 387.70H565.3M142.4 380.95H565.3M142.4 374.19H565.3M142.4 367.44H565.3M142.4 360.69H565.3M142.4 353.93H565.3M142.4 347.18H565.3M142.4 340.42H565.3M142.4 333.67H565.3M142.4 326.91H565.3M142.4 320.16H565.3M142.4 313.40H565.3M142.4 306.65H565.3M142.4 299.90H565.3M142.4 293.14H565.3M142.4 286.39H565.3M142.4 279.63H565.3M142.4 272.88H565.3M142.4 266.12H565.3M142.4 259.37H565.3M142.4 252.61H565.3M142.4 245.86H565.3M142.4 239.11H565.3M142.4 232.35H565.3M142.4 225.60H565.3M142.4 218.84H565.3M142.4 212.09H565.3M142.4 205.33H565.3M142.4 198.58H565.3M142.4 191.82H565.3M142.4 185.07H565.3M142.4 178.32H565.3M142.4 171.56H565.3M142.4 164.81H565.3M142.4 158.05H565.3M142.4 151.30H565.3M142.4 144.54H565.3M142.4 137.79H565.3M142.4 131.03H565.3M142.4 124.28H565.3M142.4 117.53H565.3M142.4 110.77H565.3M142.4 104.02H565.3M142.4 97.26H565.3" stroke="#fff" stroke-opacity=".07" stroke-width=".9" fill="none"/></g>
<rect x="142.40" y="95.80" width="422.90" height="344.00" fill="none" stroke="#000" stroke-width="1.35"/>
<path d="M142.40 439.80v4.9M212.88 439.80v4.9M283.37 439.80v4.9M353.85 439.80v4.9M424.33 439.80v4.9M494.82 439.80v4.9M565.30 439.80v4.9M142.40 439.80h-4.9M142.40 396.80h-4.9M142.40 353.80h-4.9M142.40 310.80h-4.9M142.40 267.80h-4.9M142.40 224.80h-4.9M142.40 181.80h-4.9M142.40 138.80h-4.9M142.40 95.80h-4.9" stroke="#000" stroke-width="1.25" fill="none"/>
<text x="134.71" y="470.10" font-size="27.51" textLength="15.36" lengthAdjust="spacingAndGlyphs">0</text>
<text x="196.90" y="470.10" font-size="27.51" textLength="32.04" lengthAdjust="spacingAndGlyphs">10</text>
<text x="267.16" y="470.10" font-size="27.51" textLength="32.27" lengthAdjust="spacingAndGlyphs">20</text>
<text x="338.09" y="470.10" font-size="27.51" textLength="31.81" lengthAdjust="spacingAndGlyphs">30</text>
<text x="408.28" y="470.10" font-size="27.51" textLength="32.11" lengthAdjust="spacingAndGlyphs">40</text>
<text x="479.02" y="470.10" font-size="27.51" textLength="31.84" lengthAdjust="spacingAndGlyphs">50</text>
<text x="548.98" y="470.10" font-size="27.51" textLength="32.39" lengthAdjust="spacingAndGlyphs">60</text>
<text x="91.67" y="449.90" font-size="27.51" textLength="40.47" lengthAdjust="spacingAndGlyphs">0.0</text>
<text x="91.68" y="406.90" font-size="27.51" textLength="40.05" lengthAdjust="spacingAndGlyphs">0.1</text>
<text x="91.69" y="363.90" font-size="27.51" textLength="39.88" lengthAdjust="spacingAndGlyphs">0.2</text>
<text x="91.68" y="320.90" font-size="27.51" textLength="40.24" lengthAdjust="spacingAndGlyphs">0.3</text>
<text x="91.67" y="277.90" font-size="27.51" textLength="40.46" lengthAdjust="spacingAndGlyphs">0.4</text>
<text x="91.69" y="234.90" font-size="27.51" textLength="39.98" lengthAdjust="spacingAndGlyphs">0.5</text>
<text x="91.67" y="191.90" font-size="27.51" textLength="40.72" lengthAdjust="spacingAndGlyphs">0.6</text>
<text x="91.68" y="148.90" font-size="27.51" textLength="40.29" lengthAdjust="spacingAndGlyphs">0.7</text>
<text x="91.67" y="105.90" font-size="27.51" textLength="40.56" lengthAdjust="spacingAndGlyphs">0.8</text>
<text x="305.35" y="500.00" font-size="27.51" textLength="16.82" lengthAdjust="spacingAndGlyphs" font-style="italic">p</text>
<text x="325.40" y="502.00" font-size="30.26" textLength="8.80" lengthAdjust="spacingAndGlyphs">/</text>
<text x="332.28" y="500.00" font-size="27.51" textLength="8.16" lengthAdjust="spacingAndGlyphs">(</text>
<text x="341.11" y="500.00" font-size="27.51" textLength="24.67" lengthAdjust="spacingAndGlyphs" font-style="italic">m</text>
<text x="365.77" y="505.60" font-size="19.26" textLength="12.03" lengthAdjust="spacingAndGlyphs" font-style="italic">e</text>
<text x="378.48" y="500.00" font-size="27.51" textLength="12.61" lengthAdjust="spacingAndGlyphs" font-style="italic">c</text>
<text x="394.04" y="500.00" font-size="27.51" textLength="9.29" lengthAdjust="spacingAndGlyphs">)</text>
<text x="224.07" y="86.00" font-size="27.51" textLength="8.11" lengthAdjust="spacingAndGlyphs" font-style="italic">t</text>
<text x="235.40" y="86.00" font-size="27.51" textLength="82.67" lengthAdjust="spacingAndGlyphs">=0.40</text>
<text x="319.65" y="86.00" font-size="27.51" textLength="20.97" lengthAdjust="spacingAndGlyphs">s,</text>
<text x="349.40" y="86.00" font-size="27.51" textLength="17.28" lengthAdjust="spacingAndGlyphs" font-style="italic">B</text>
<text x="376.67" y="86.00" font-size="27.51" textLength="18.27" lengthAdjust="spacingAndGlyphs">=</text>
<text x="406.53" y="86.00" font-size="27.51" textLength="60.52" lengthAdjust="spacingAndGlyphs">1.48</text>
<text x="466.96" y="86.00" font-size="27.51" textLength="17.50" lengthAdjust="spacingAndGlyphs">T</text>
<text x="47.90" y="68.30" font-size="27.20" textLength="39.40" lengthAdjust="spacingAndGlyphs">(a)</text>
<g transform="translate(75.80 317.70) rotate(-90)"><text x="-1.44" y="0.00" font-size="27.51" textLength="15.79" lengthAdjust="spacingAndGlyphs" font-style="italic">θ</text></g>
<g transform="translate(80.00 303.00) rotate(-90)"><text x="0.45" y="0.00" font-size="19.26" textLength="10.13" lengthAdjust="spacingAndGlyphs" font-style="italic">p</text></g>
<g transform="translate(75.80 278.70) rotate(-90)"><text x="-2.27" y="0.00" font-size="27.51" textLength="63.63" lengthAdjust="spacingAndGlyphs">[rad]</text></g>
<rect x="592.30" y="95.80" width="17.90" height="344.00" fill="url(#cbv)"/>
<rect x="592.30" y="95.80" width="17.90" height="344.00" fill="url(#cbh)" stroke="#222" stroke-width="1.1"/>
<text x="620.55" y="105.90" font-size="27.51" textLength="15.36" lengthAdjust="spacingAndGlyphs">0</text>
<text x="621.09" y="155.04" font-size="27.51" textLength="36.58" lengthAdjust="spacingAndGlyphs">−1</text>
<text x="621.10" y="204.19" font-size="27.51" textLength="36.40" lengthAdjust="spacingAndGlyphs">−2</text>
<text x="621.09" y="253.33" font-size="27.51" textLength="36.75" lengthAdjust="spacingAndGlyphs">−3</text>
<text x="621.08" y="302.47" font-size="27.51" textLength="36.92" lengthAdjust="spacingAndGlyphs">−4</text>
<text x="621.10" y="351.61" font-size="27.51" textLength="36.48" lengthAdjust="spacingAndGlyphs">−5</text>
<text x="621.07" y="400.76" font-size="27.51" textLength="37.24" lengthAdjust="spacingAndGlyphs">−6</text>
<text x="621.08" y="449.90" font-size="27.51" textLength="36.82" lengthAdjust="spacingAndGlyphs">−7</text>
<path d="M610.20 95.80h4.8M610.20 144.94h4.8M610.20 194.09h4.8M610.20 243.23h4.8M610.20 292.37h4.8M610.20 341.51h4.8M610.20 390.66h4.8M610.20 439.80h4.8" stroke="#222" stroke-width="1.2" fill="none"/>
<g transform="translate(684.80 380.70) rotate(-90)"><text x="-1.97" y="0.00" font-size="27.51" textLength="38.95" lengthAdjust="spacingAndGlyphs">log</text></g>
<g transform="translate(689.30 340.40) rotate(-90)"><text x="-1.41" y="0.00" font-size="19.26" textLength="20.53" lengthAdjust="spacingAndGlyphs">10</text></g>
<g transform="translate(684.80 316.00) rotate(-90)"><text x="-1.73" y="0.00" font-size="27.51" textLength="9.29" lengthAdjust="spacingAndGlyphs">(</text></g>
<g transform="translate(684.80 307.40) rotate(-90)"><text x="-1.20" y="0.00" font-size="27.51" textLength="9.92" lengthAdjust="spacingAndGlyphs" font-style="italic">f</text></g>
<g transform="translate(689.60 298.00) rotate(-90)"><text x="-0.33" y="0.00" font-size="19.26" textLength="17.45" lengthAdjust="spacingAndGlyphs" font-style="italic">re</text></g>
<g transform="translate(686.80 279.20) rotate(-90)"><text x="0.00" y="0.00" font-size="30.26" textLength="10.40" lengthAdjust="spacingAndGlyphs">/</text></g>
<g transform="translate(684.80 267.70) rotate(-90)"><text x="-1.98" y="0.00" font-size="27.51" textLength="66.25" lengthAdjust="spacingAndGlyphs">max(</text></g>
<g transform="translate(684.80 202.40) rotate(-90)"><text x="-1.23" y="0.00" font-size="27.51" textLength="10.17" lengthAdjust="spacingAndGlyphs" font-style="italic">f</text></g>
<g transform="translate(689.60 193.00) rotate(-90)"><text x="-0.35" y="0.00" font-size="19.26" textLength="18.52" lengthAdjust="spacingAndGlyphs" font-style="italic">re</text></g>
<g transform="translate(684.80 172.00) rotate(-90)"><text x="-0.17" y="0.00" font-size="27.51" textLength="19.37" lengthAdjust="spacingAndGlyphs">))</text></g>
<g clip-path="url(#clip1)"><g stroke-width=".16" transform="matrix(3.7673 0 0 -6.7544 142.541 885.284)"><path fill="#eaeaeb" stroke="#eaeaeb" d="M18 38h1v1h-1zM16 41h1v1h-1zM12 49h1v1h-1z"/><path fill="#e5e5e7" stroke="#e5e5e7" d="M17 39h1v1h-1z"/><path fill="#e0e0e3" stroke="#e0e0e3" d="M19 36h1v1h-1zM15 42h1v1h-1zM14 44h1v1h-1zM13 46h1v1h-1zM12 48h1v1h-1z"/><path fill="#dbdbdf" stroke="#dbdbdf" d="M18 37h1v1h-1zM16 40h1v1h-1z"/><path fill="#d7d7dc" stroke="#d7d7dc" d="M17 38h1v1h-1zM14 43h1v1h-1zM13 45h1v1h-1zM11 50h1v1h-1z"/><path fill="#d2d2d9" stroke="#d2d2d9" d="M15 41h1v1h-1zM12 47h1v1h-1z"/><path fill="#cdcdd7" stroke="#cdcdd7" d="M19 35h1v1h-1zM16 39h1v1h-1z"/><path fill="#c9c9d5" stroke="#c9c9d5" d="M18 36h1v1h-1zM14 42h1v1h-1zM13 44h1v1h-1zM11 49h1v1h-1z"/><path fill="#c5c5d3" stroke="#c5c5d3" d="M17 37h1v1h-1zM15 40h1v1h-1zM12 46h1v1h-1z"/><path fill="#c1c1d2" stroke="#c1c1d2" d="M16 38h1v1h-1z"/><path fill="#bcbcd1" stroke="#bcbcd1" d="M19 34h1v1h-1zM18 35h1v1h-1zM14 41h1v1h-1zM13 43h1v1h-1zM11 48h1v1h-1z"/><path fill="#b8b8d1" stroke="#b8b8d1" d="M17 36h1v1h-1zM15 39h1v1h-1zM12 45h1v1h-1z"/><path fill="#b5b5d1" stroke="#b5b5d1" d="M16 37h1v1h-1z"/><path fill="#b1b1d1" stroke="#b1b1d1" d="M14 40h1v1h-1zM13 42h1v1h-1zM11 47h1v1h-1zM10 50h1v1h-1z"/><path fill="#adacd0" stroke="#adacd0" d="M19 33h1v1h-1zM18 34h1v1h-1zM17 35h1v1h-1zM15 38h1v1h-1zM12 44h1v1h-1z"/><path fill="#aaa8cf" stroke="#aaa8cf" d="M10 49h1v1h-1z"/><path fill="#a6a3cf" stroke="#a6a3cf" d="M16 36h1v1h-1zM14 39h1v1h-1zM13 41h1v1h-1zM11 46h1v1h-1z"/><path fill="#a39ece" stroke="#a39ece" d="M19 32h1v1h-1zM18 33h1v1h-1zM15 37h1v1h-1zM12 43h1v1h-1z"/><path fill="#a09ace" stroke="#a09ace" d="M17 34h1v1h-1zM11 45h1v1h-1zM10 48h1v1h-1z"/><path fill="#9d95ce" stroke="#9d95ce" d="M16 35h1v1h-1zM14 38h1v1h-1zM13 40h1v1h-1z"/><path fill="#9a90ce" stroke="#9a90ce" d="M15 36h1v1h-1zM12 42h1v1h-1z"/><path fill="#988ccf" stroke="#988ccf" d="M19 31h1v1h-1zM18 32h1v1h-1zM17 33h1v1h-1zM11 44h1v1h-1zM10 47h1v1h-1z"/><path fill="#9587cf" stroke="#9587cf" d="M16 34h1v1h-1zM14 37h1v1h-1zM13 39h1v1h-1zM12 41h1v1h-1zM9 50h1v1h-1z"/><path fill="#9282d0" stroke="#9282d0" d="M15 35h1v1h-1z"/><path fill="#907ed1" stroke="#907ed1" d="M18 31h1v1h-1zM17 32h1v1h-1zM11 43h1v1h-1zM10 46h1v1h-1z"/><path fill="#8e79d2" stroke="#8e79d2" d="M19 30h1v1h-1zM16 33h1v1h-1zM14 36h1v1h-1zM13 38h1v1h-1zM12 40h1v1h-1zM9 49h1v1h-1z"/><path fill="#8c74d3" stroke="#8c74d3" d="M15 34h1v1h-1z"/><path fill="#8a70d5" stroke="#8a70d5" d="M13 37h1v1h-1zM11 42h1v1h-1zM10 45h1v1h-1zM9 48h1v1h-1z"/><path fill="#8b6dd1" stroke="#8b6dd1" d="M19 29h1v1h-1zM18 30h1v1h-1zM17 31h1v1h-1zM16 32h1v1h-1zM14 35h1v1h-1zM12 39h1v1h-1zM10 44h1v1h-1z"/><path fill="#8c6bcd" stroke="#8c6bcd" d="M15 33h1v1h-1zM11 41h1v1h-1zM9 47h1v1h-1z"/><path fill="#8d68c9" stroke="#8d68c9" d="M13 36h1v1h-1zM12 38h1v1h-1zM10 43h1v1h-1zM8 50h1v1h-1z"/><path fill="#8f66c4" stroke="#8f66c4" d="M19 28h1v1h-1zM18 29h1v1h-1zM17 30h1v1h-1zM16 31h1v1h-1zM14 34h1v1h-1zM11 40h1v1h-1zM9 46h1v1h-1z"/><path fill="#9164c0" stroke="#9164c0" d="M15 32h1v1h-1zM13 35h1v1h-1zM12 37h1v1h-1zM11 39h1v1h-1zM10 42h1v1h-1zM9 45h1v1h-1zM8 49h1v1h-1z"/><path fill="#9361bb" stroke="#9361bb" d="M14 33h1v1h-1zM10 41h1v1h-1zM8 48h1v1h-1z"/><path fill="#955fb6" stroke="#955fb6" d="M19 27h1v1h-1zM18 28h1v1h-1zM17 29h1v1h-1zM16 30h1v1h-1zM13 34h1v1h-1zM12 36h1v1h-1zM11 38h1v1h-1zM9 44h1v1h-1z"/><path fill="#975db2" stroke="#975db2" d="M15 31h1v1h-1zM14 32h1v1h-1zM10 40h1v1h-1zM9 43h1v1h-1zM8 47h1v1h-1z"/><path fill="#995aad" stroke="#995aad" d="M12 35h1v1h-1zM11 37h1v1h-1zM8 46h1v1h-1zM7 50h1v1h-1z"/><path fill="#9c58a7" stroke="#9c58a7" d="M19 26h1v1h-1zM18 27h1v1h-1zM17 28h1v1h-1zM16 29h1v1h-1zM15 30h1v1h-1zM13 33h1v1h-1zM10 39h1v1h-1zM9 42h1v1h-1z"/><path fill="#9e56a2" stroke="#9e56a2" d="M14 31h1v1h-1zM12 34h1v1h-1zM11 36h1v1h-1zM10 38h1v1h-1zM9 41h1v1h-1zM8 45h1v1h-1zM7 49h1v1h-1z"/><path fill="#a1549d" stroke="#a1549d" d="M17 27h1v1h-1zM16 28h1v1h-1zM13 32h1v1h-1zM8 44h1v1h-1zM7 48h1v1h-1z"/><path fill="#a45297" stroke="#a45297" d="M19 25h1v1h-1zM18 26h1v1h-1zM15 29h1v1h-1zM14 30h1v1h-1zM12 33h1v1h-1zM11 35h1v1h-1zM10 37h1v1h-1zM9 40h1v1h-1z"/><path fill="#a75092" stroke="#a75092" d="M13 31h1v1h-1zM8 43h1v1h-1zM7 47h1v1h-1z"/><path fill="#ad4e8b" stroke="#ad4e8b" d="M12 32h1v1h-1zM11 34h1v1h-1zM10 36h1v1h-1zM9 39h1v1h-1z"/><path fill="#b24d84" stroke="#b24d84" d="M18 25h1v1h-1zM17 26h1v1h-1zM16 27h1v1h-1zM15 28h1v1h-1zM14 29h1v1h-1zM8 42h1v1h-1zM7 46h1v1h-1z"/><path fill="#b84c7d" stroke="#b84c7d" d="M19 24h1v1h-1zM13 30h1v1h-1zM11 33h1v1h-1zM9 38h1v1h-1z"/><path fill="#bd4b76" stroke="#bd4b76" d="M12 31h1v1h-1zM10 35h1v1h-1zM8 41h1v1h-1zM7 45h1v1h-1zM6 50h1v1h-1z"/><path fill="#c34a6e" stroke="#c34a6e" d="M17 25h1v1h-1zM16 26h1v1h-1zM15 27h1v1h-1zM14 28h1v1h-1zM9 37h1v1h-1z"/><path fill="#c94867" stroke="#c94867" d="M18 24h1v1h-1zM13 29h1v1h-1zM11 32h1v1h-1zM10 34h1v1h-1zM8 40h1v1h-1zM7 44h1v1h-1zM6 49h1v1h-1z"/><path fill="#d0475f" stroke="#d0475f" d="M12 30h1v1h-1z"/><path fill="#d64657" stroke="#d64657" d="M19 23h1v1h-1zM15 26h1v1h-1zM14 27h1v1h-1zM9 36h1v1h-1zM7 43h1v1h-1zM6 48h1v1h-1z"/><path fill="#dc454f" stroke="#dc454f" d="M17 24h1v1h-1zM16 25h1v1h-1zM13 28h1v1h-1zM11 31h1v1h-1zM10 33h1v1h-1zM8 39h1v1h-1z"/><path fill="#e34447" stroke="#e34447" d="M18 23h1v1h-1zM12 29h1v1h-1zM9 35h1v1h-1zM6 47h1v1h-1z"/><path fill="#ea433f" stroke="#ea433f" d="M10 32h1v1h-1zM8 38h1v1h-1zM7 42h1v1h-1z"/><path fill="#f14237" stroke="#f14237" d="M19 22h1v1h-1zM16 24h1v1h-1zM15 25h1v1h-1zM14 26h1v1h-1zM13 27h1v1h-1zM11 30h1v1h-1zM9 34h1v1h-1z"/><path fill="#f8412f" stroke="#f8412f" d="M17 23h1v1h-1zM12 28h1v1h-1zM8 37h1v1h-1zM7 41h1v1h-1zM6 46h1v1h-1z"/><path fill="#ff4026" stroke="#ff4026" d="M18 22h1v1h-1zM15 24h1v1h-1zM14 25h1v1h-1zM11 29h1v1h-1zM10 31h1v1h-1zM6 45h1v1h-1z"/><path fill="#fd4523" stroke="#fd4523" d="M19 21h1v1h-1zM17 22h1v1h-1zM16 23h1v1h-1zM13 26h1v1h-1zM12 27h1v1h-1zM10 30h1v1h-1zM9 33h1v1h-1zM8 36h1v1h-1zM7 40h1v1h-1z"/><path fill="#fb4921" stroke="#fb4921" d="M18 21h1v1h-1zM15 23h1v1h-1zM14 24h1v1h-1zM13 25h1v1h-1zM11 28h1v1h-1zM9 32h1v1h-1zM8 35h1v1h-1zM7 39h1v1h-1zM6 44h1v1h-1zM5 50h1v1h-1z"/><path fill="#fa4e1e" stroke="#fa4e1e" d="M19 20h1v1h-1zM17 21h1v1h-1zM16 22h1v1h-1zM12 26h1v1h-1zM10 29h1v1h-1zM7 38h1v1h-1zM6 43h1v1h-1z"/><path fill="#f8521b" stroke="#f8521b" d="M18 20h1v1h-1zM15 22h1v1h-1zM14 23h1v1h-1zM13 24h1v1h-1zM11 27h1v1h-1zM9 31h1v1h-1zM8 34h1v1h-1zM6 42h1v1h-1zM5 49h1v1h-1z"/><path fill="#f65718" stroke="#f65718" d="M19 19h1v1h-1zM16 21h1v1h-1zM12 25h1v1h-1zM10 28h1v1h-1zM9 30h1v1h-1zM8 33h1v1h-1zM7 37h1v1h-1zM5 48h1v1h-1z"/><path fill="#f45b16" stroke="#f45b16" d="M18 19h1v1h-1zM17 20h1v1h-1zM15 21h1v1h-1zM14 22h1v1h-1zM13 23h1v1h-1zM11 26h1v1h-1zM8 32h1v1h-1zM7 36h1v1h-1zM6 41h1v1h-1z"/><path fill="#f26013" stroke="#f26013" d="M19 18h1v1h-1zM16 20h1v1h-1zM12 24h1v1h-1zM11 25h1v1h-1zM10 27h1v1h-1zM9 29h1v1h-1zM7 35h1v1h-1zM6 40h1v1h-1zM5 47h1v1h-1z"/><path fill="#f16510" stroke="#f16510" d="M17 19h1v1h-1zM15 20h1v1h-1zM14 21h1v1h-1zM13 22h1v1h-1zM10 26h1v1h-1zM9 28h1v1h-1zM8 31h1v1h-1zM7 34h1v1h-1zM6 39h1v1h-1zM5 46h1v1h-1z"/><path fill="#ef690e" stroke="#ef690e" d="M18 18h1v1h-1zM16 19h1v1h-1zM12 23h1v1h-1zM11 24h1v1h-1zM8 30h1v1h-1z"/><path fill="#ed6e0b" stroke="#ed6e0b" d="M19 17h1v1h-1zM17 18h1v1h-1zM15 19h1v1h-1zM14 20h1v1h-1zM13 21h1v1h-1zM12 22h1v1h-1zM10 25h1v1h-1zM9 27h1v1h-1zM7 33h1v1h-1zM6 38h1v1h-1zM5 45h1v1h-1z"/><path fill="#eb7208" stroke="#eb7208" d="M18 17h1v1h-1zM16 18h1v1h-1zM11 23h1v1h-1zM9 26h1v1h-1zM8 29h1v1h-1zM7 32h1v1h-1zM6 37h1v1h-1zM5 44h1v1h-1z"/><path fill="#ea7705" stroke="#ea7705" d="M19 16h1v1h-1zM17 17h1v1h-1zM15 18h1v1h-1zM14 19h1v1h-1zM13 20h1v1h-1zM12 21h1v1h-1zM10 24h1v1h-1zM8 28h1v1h-1zM7 31h1v1h-1zM6 36h1v1h-1z"/><path fill="#e87b03" stroke="#e87b03" d="M18 16h1v1h-1zM16 17h1v1h-1zM11 22h1v1h-1zM10 23h1v1h-1zM9 25h1v1h-1zM8 27h1v1h-1zM6 35h1v1h-1zM5 43h1v1h-1z"/><path fill="#e68000" stroke="#e68000" d="M18 15h1v1h-1zM19 15h1v1h-1zM17 16h1v1h-1zM15 17h1v1h-1zM14 18h1v1h-1zM13 19h1v1h-1zM12 20h1v1h-1zM9 24h1v1h-1zM7 30h1v1h-1zM5 42h1v1h-1z"/><path fill="#e68402" stroke="#e68402" d="M19 14h1v1h-1zM17 15h1v1h-1zM15 16h1v1h-1zM16 16h1v1h-1zM14 17h1v1h-1zM13 18h1v1h-1zM11 21h1v1h-1zM10 22h1v1h-1zM8 26h1v1h-1zM7 29h1v1h-1zM6 34h1v1h-1zM5 41h1v1h-1zM4 50h1v1h-1z"/><path fill="#e68904" stroke="#e68904" d="M19 13h1v1h-1zM17 14h1v1h-1zM18 14h1v1h-1zM16 15h1v1h-1zM14 16h1v1h-1zM12 19h1v1h-1zM11 20h1v1h-1zM9 23h1v1h-1zM8 25h1v1h-1zM7 28h1v1h-1zM6 33h1v1h-1zM5 40h1v1h-1zM4 48h1v1h-1zM4 49h1v1h-1z"/><path fill="#e68e06" stroke="#e68e06" d="M19 12h1v1h-1zM17 13h1v1h-1zM18 13h1v1h-1zM16 14h1v1h-1zM15 15h1v1h-1zM13 17h1v1h-1zM12 18h1v1h-1zM11 19h1v1h-1zM10 21h1v1h-1zM6 32h1v1h-1zM5 39h1v1h-1zM4 47h1v1h-1z"/><path fill="#e69207" stroke="#e69207" d="M19 11h1v1h-1zM17 12h1v1h-1zM18 12h1v1h-1zM16 13h1v1h-1zM15 14h1v1h-1zM14 15h1v1h-1zM13 16h1v1h-1zM12 17h1v1h-1zM10 20h1v1h-1zM9 22h1v1h-1zM8 24h1v1h-1zM7 27h1v1h-1zM6 31h1v1h-1zM5 38h1v1h-1zM4 46h1v1h-1z"/><path fill="#e69609" stroke="#e69609" d="M19 10h1v1h-1zM17 11h1v1h-1zM18 11h1v1h-1zM16 12h1v1h-1zM15 13h1v1h-1zM14 14h1v1h-1zM13 15h1v1h-1zM11 18h1v1h-1zM9 21h1v1h-1zM8 23h1v1h-1zM7 26h1v1h-1zM6 30h1v1h-1zM5 37h1v1h-1zM4 45h1v1h-1z"/><path fill="#e69b0b" stroke="#e69b0b" d="M19 9h1v1h-1zM18 10h1v1h-1zM16 11h1v1h-1zM15 12h1v1h-1zM14 13h1v1h-1zM12 16h1v1h-1zM11 17h1v1h-1zM10 19h1v1h-1zM6 29h1v1h-1zM5 35h1v1h-1zM5 36h1v1h-1zM4 44h1v1h-1z"/><path fill="#e6a00d" stroke="#e6a00d" d="M19 8h1v1h-1zM18 9h1v1h-1zM17 10h1v1h-1zM13 14h1v1h-1zM12 15h1v1h-1zM10 18h1v1h-1zM9 20h1v1h-1zM8 22h1v1h-1zM7 25h1v1h-1zM5 34h1v1h-1zM4 42h1v1h-1zM4 43h1v1h-1z"/><path fill="#e6a40f" stroke="#e6a40f" d="M19 7h1v1h-1zM18 8h1v1h-1zM17 9h1v1h-1zM16 10h1v1h-1zM15 11h1v1h-1zM14 12h1v1h-1zM13 13h1v1h-1zM12 14h1v1h-1zM11 16h1v1h-1zM8 21h1v1h-1zM7 24h1v1h-1zM6 28h1v1h-1zM5 33h1v1h-1zM4 41h1v1h-1z"/><path fill="#e6a811" stroke="#e6a811" d="M19 6h1v1h-1zM18 7h1v1h-1zM17 8h1v1h-1zM16 9h1v1h-1zM15 10h1v1h-1zM14 11h1v1h-1zM13 12h1v1h-1zM11 15h1v1h-1zM10 17h1v1h-1zM9 19h1v1h-1zM7 23h1v1h-1zM6 27h1v1h-1zM5 32h1v1h-1zM4 40h1v1h-1z"/><path fill="#e6ad13" stroke="#e6ad13" d="M19 5h1v1h-1zM18 6h1v1h-1zM17 7h1v1h-1zM16 8h1v1h-1zM15 9h1v1h-1zM14 10h1v1h-1zM12 13h1v1h-1zM10 16h1v1h-1zM9 18h1v1h-1zM8 20h1v1h-1zM6 26h1v1h-1zM5 31h1v1h-1zM4 39h1v1h-1z"/><path fill="#e6b214" stroke="#e6b214" d="M19 4h1v1h-1zM18 5h1v1h-1zM17 6h1v1h-1zM16 7h1v1h-1zM15 8h1v1h-1zM14 9h1v1h-1zM13 11h1v1h-1zM12 12h1v1h-1zM11 14h1v1h-1zM8 19h1v1h-1zM7 22h1v1h-1zM6 25h1v1h-1zM5 30h1v1h-1zM4 37h1v1h-1zM4 38h1v1h-1z"/><path fill="#e6b616" stroke="#e6b616" d="M19 3h1v1h-1zM18 4h1v1h-1zM17 5h1v1h-1zM16 6h1v1h-1zM15 7h1v1h-1zM13 10h1v1h-1zM11 13h1v1h-1zM10 15h1v1h-1zM9 17h1v1h-1zM7 21h1v1h-1zM6 24h1v1h-1zM5 28h1v1h-1zM5 29h1v1h-1zM4 36h1v1h-1z"/><path fill="#e6ba18" stroke="#e6ba18" d="M19 2h1v1h-1zM18 3h1v1h-1zM17 4h1v1h-1zM16 5h1v1h-1zM14 8h1v1h-1zM13 9h1v1h-1zM12 11h1v1h-1zM11 12h1v1h-1zM9 16h1v1h-1zM8 18h1v1h-1zM6 23h1v1h-1zM5 27h1v1h-1zM4 35h1v1h-1z"/><path fill="#e6bf1a" stroke="#e6bf1a" d="M19 1h1v1h-1zM18 2h1v1h-1zM17 3h1v1h-1zM16 4h1v1h-1zM15 5h1v1h-1zM15 6h1v1h-1zM14 7h1v1h-1zM13 8h1v1h-1zM12 10h1v1h-1zM11 11h1v1h-1zM10 13h1v1h-1zM10 14h1v1h-1zM9 15h1v1h-1zM8 17h1v1h-1zM7 20h1v1h-1zM6 22h1v1h-1zM5 26h1v1h-1zM4 34h1v1h-1z"/><path fill="#e6c221" stroke="#e6c221" d="M18 0h1v1h-1zM19 0h1v1h-1zM18 1h1v1h-1zM17 2h1v1h-1zM16 3h1v1h-1zM15 4h1v1h-1zM14 5h1v1h-1zM14 6h1v1h-1zM13 7h1v1h-1zM12 8h1v1h-1zM12 9h1v1h-1zM11 10h1v1h-1zM10 12h1v1h-1zM9 14h1v1h-1zM8 16h1v1h-1zM7 18h1v1h-1zM7 19h1v1h-1zM6 21h1v1h-1zM5 25h1v1h-1zM4 33h1v1h-1z"/><path fill="#e6c529" stroke="#e6c529" d="M17 0h1v1h-1zM16 1h1v1h-1zM17 1h1v1h-1zM16 2h1v1h-1zM15 3h1v1h-1zM14 4h1v1h-1zM13 5h1v1h-1zM13 6h1v1h-1zM12 7h1v1h-1zM11 9h1v1h-1zM10 11h1v1h-1zM9 13h1v1h-1zM8 14h1v1h-1zM8 15h1v1h-1zM7 17h1v1h-1zM6 20h1v1h-1zM5 24h1v1h-1zM4 31h1v1h-1zM4 32h1v1h-1z"/><path fill="#e6c730" stroke="#e6c730" d="M16 0h1v1h-1zM15 1h1v1h-1zM14 2h1v1h-1zM15 2h1v1h-1zM14 3h1v1h-1zM13 4h1v1h-1zM12 5h1v1h-1zM12 6h1v1h-1zM11 7h1v1h-1zM11 8h1v1h-1zM10 9h1v1h-1zM10 10h1v1h-1zM9 11h1v1h-1zM9 12h1v1h-1zM8 13h1v1h-1zM7 16h1v1h-1zM6 19h1v1h-1zM5 23h1v1h-1zM4 30h1v1h-1zM3 49h1v1h-1zM3 50h1v1h-1z"/><path fill="#e6ca37" stroke="#e6ca37" d="M15 0h1v1h-1zM14 1h1v1h-1zM13 2h1v1h-1zM13 3h1v1h-1zM12 4h1v1h-1zM11 6h1v1h-1zM10 8h1v1h-1zM9 10h1v1h-1zM8 11h1v1h-1zM8 12h1v1h-1zM7 14h1v1h-1zM7 15h1v1h-1zM6 18h1v1h-1zM5 22h1v1h-1zM4 29h1v1h-1zM3 47h1v1h-1zM3 48h1v1h-1z"/><path fill="#e6cd3e" stroke="#e6cd3e" d="M14 0h1v1h-1zM13 1h1v1h-1zM12 3h1v1h-1zM11 4h1v1h-1zM11 5h1v1h-1zM10 6h1v1h-1zM10 7h1v1h-1zM9 8h1v1h-1zM9 9h1v1h-1zM8 10h1v1h-1zM7 13h1v1h-1zM6 17h1v1h-1zM5 21h1v1h-1zM4 28h1v1h-1zM3 45h1v1h-1zM3 46h1v1h-1z"/><path fill="#e6d046" stroke="#e6d046" d="M13 0h1v1h-1zM12 1h1v1h-1zM12 2h1v1h-1zM11 3h1v1h-1zM10 5h1v1h-1zM9 7h1v1h-1zM8 9h1v1h-1zM7 11h1v1h-1zM7 12h1v1h-1zM6 15h1v1h-1zM6 16h1v1h-1zM5 20h1v1h-1zM4 26h1v1h-1zM4 27h1v1h-1zM3 42h1v1h-1zM3 43h1v1h-1zM3 44h1v1h-1z"/><path fill="#e6d24d" stroke="#e6d24d" d="M12 0h1v1h-1zM11 2h1v1h-1zM10 4h1v1h-1zM9 6h1v1h-1zM8 7h1v1h-1zM8 8h1v1h-1zM7 10h1v1h-1zM6 14h1v1h-1zM5 19h1v1h-1zM4 25h1v1h-1zM3 40h1v1h-1zM3 41h1v1h-1z"/><path fill="#e6d554" stroke="#e6d554" d="M11 0h1v1h-1zM11 1h1v1h-1zM10 2h1v1h-1zM10 3h1v1h-1zM9 4h1v1h-1zM9 5h1v1h-1zM8 6h1v1h-1zM7 9h1v1h-1zM6 13h1v1h-1zM5 17h1v1h-1zM5 18h1v1h-1zM4 24h1v1h-1zM3 38h1v1h-1zM3 39h1v1h-1z"/><path fill="#e6d85c" stroke="#e6d85c" d="M10 1h1v1h-1zM9 3h1v1h-1zM8 5h1v1h-1zM7 7h1v1h-1zM7 8h1v1h-1zM6 12h1v1h-1zM5 16h1v1h-1zM4 23h1v1h-1zM3 35h1v1h-1zM3 36h1v1h-1zM3 37h1v1h-1z"/><path fill="#e6db63" stroke="#e6db63" d="M10 0h1v1h-1zM9 1h1v1h-1zM9 2h1v1h-1zM8 3h1v1h-1zM8 4h1v1h-1zM7 6h1v1h-1zM6 11h1v1h-1zM5 15h1v1h-1zM4 21h1v1h-1zM4 22h1v1h-1zM3 33h1v1h-1zM3 34h1v1h-1z"/><path fill="#e6de6a" stroke="#e6de6a" d="M9 0h1v1h-1zM8 2h1v1h-1zM7 5h1v1h-1zM6 10h1v1h-1zM5 14h1v1h-1zM4 20h1v1h-1zM3 31h1v1h-1zM3 32h1v1h-1z"/><path fill="#e6e071" stroke="#e6e071" d="M8 0h1v1h-1zM8 1h1v1h-1zM7 3h1v1h-1zM7 4h1v1h-1zM6 8h1v1h-1zM6 9h1v1h-1zM5 13h1v1h-1zM4 19h1v1h-1zM3 28h1v1h-1zM3 29h1v1h-1zM3 30h1v1h-1z"/><path fill="#e6e379" stroke="#e6e379" d="M7 2h1v1h-1zM6 7h1v1h-1zM5 12h1v1h-1zM4 17h1v1h-1zM4 18h1v1h-1zM3 26h1v1h-1zM3 27h1v1h-1z"/><path fill="#e6e680" stroke="#e6e680" d="M7 0h1v1h-1zM7 1h1v1h-1zM6 3h1v1h-1zM6 4h1v1h-1zM6 5h1v1h-1zM6 6h1v1h-1zM5 8h1v1h-1zM5 9h1v1h-1zM5 10h1v1h-1zM5 11h1v1h-1zM4 14h1v1h-1zM4 15h1v1h-1zM4 16h1v1h-1zM3 23h1v1h-1zM3 24h1v1h-1zM3 25h1v1h-1z"/><path fill="#e8e889" stroke="#e8e889" d="M6 0h1v1h-1zM5 1h1v1h-1zM6 1h1v1h-1zM5 2h1v1h-1zM6 2h1v1h-1zM5 3h1v1h-1zM5 4h1v1h-1zM5 5h1v1h-1zM5 6h1v1h-1zM5 7h1v1h-1zM4 8h1v1h-1zM4 9h1v1h-1zM4 10h1v1h-1zM4 11h1v1h-1zM4 12h1v1h-1zM4 13h1v1h-1zM3 18h1v1h-1zM3 19h1v1h-1zM3 20h1v1h-1zM3 21h1v1h-1zM3 22h1v1h-1z"/><path fill="#eaea92" stroke="#eaea92" d="M5 0h1v1h-1zM4 2h1v1h-1zM4 3h1v1h-1zM4 4h1v1h-1zM4 5h1v1h-1zM4 6h1v1h-1zM4 7h1v1h-1zM3 13h1v1h-1zM3 14h1v1h-1zM3 15h1v1h-1zM3 16h1v1h-1zM3 17h1v1h-1zM2 45h1v1h-1zM2 46h1v1h-1zM2 47h1v1h-1zM2 48h1v1h-1zM2 49h1v1h-1zM2 50h1v1h-1z"/><path fill="#ebeb9b" stroke="#ebeb9b" d="M4 0h1v1h-1zM4 1h1v1h-1zM3 8h1v1h-1zM3 9h1v1h-1zM3 10h1v1h-1zM3 11h1v1h-1zM3 12h1v1h-1zM2 39h1v1h-1zM2 40h1v1h-1zM2 41h1v1h-1zM2 42h1v1h-1zM2 43h1v1h-1zM2 44h1v1h-1z"/><path fill="#ededa4" stroke="#ededa4" d="M3 3h1v1h-1zM3 4h1v1h-1zM3 5h1v1h-1zM3 6h1v1h-1zM3 7h1v1h-1zM2 34h1v1h-1zM2 35h1v1h-1zM2 36h1v1h-1zM2 37h1v1h-1zM2 38h1v1h-1z"/><path fill="#efefad" stroke="#efefad" d="M3 0h1v1h-1zM3 1h1v1h-1zM3 2h1v1h-1zM2 28h1v1h-1zM2 29h1v1h-1zM2 30h1v1h-1zM2 31h1v1h-1zM2 32h1v1h-1zM2 33h1v1h-1z"/><path fill="#f1f1b6" stroke="#f1f1b6" d="M2 22h1v1h-1zM2 23h1v1h-1zM2 24h1v1h-1zM2 25h1v1h-1zM2 26h1v1h-1zM2 27h1v1h-1z"/><path fill="#f2f2c0" stroke="#f2f2c0" d="M2 17h1v1h-1zM2 18h1v1h-1zM2 19h1v1h-1zM2 20h1v1h-1zM2 21h1v1h-1z"/><path fill="#f4f4c9" stroke="#f4f4c9" d="M2 11h1v1h-1zM2 12h1v1h-1zM2 13h1v1h-1zM2 14h1v1h-1zM2 15h1v1h-1zM2 16h1v1h-1z"/><path fill="#f6f6d2" stroke="#f6f6d2" d="M2 4h1v1h-1zM2 5h1v1h-1zM2 6h1v1h-1zM2 7h1v1h-1zM2 8h1v1h-1zM2 9h1v1h-1zM2 10h1v1h-1z"/><path fill="#f8f8db" stroke="#f8f8db" d="M2 0h1v1h-1zM2 1h1v1h-1zM2 2h1v1h-1zM2 3h1v1h-1z"/><path fill="#fbfbed" stroke="#fbfbed" d="M0 31h1v1h-1zM1 31h1v1h-1zM0 32h1v1h-1zM1 32h1v1h-1zM0 33h1v1h-1zM1 33h1v1h-1zM0 34h1v1h-1zM1 34h1v1h-1zM0 35h1v1h-1zM1 35h1v1h-1zM0 36h1v1h-1zM1 36h1v1h-1zM0 37h1v1h-1zM1 37h1v1h-1zM0 38h1v1h-1zM1 38h1v1h-1zM0 39h1v1h-1zM1 39h1v1h-1zM0 40h1v1h-1zM1 40h1v1h-1zM0 41h1v1h-1zM1 41h1v1h-1zM0 42h1v1h-1zM1 42h1v1h-1zM0 43h1v1h-1zM1 43h1v1h-1zM0 44h1v1h-1zM1 44h1v1h-1zM0 45h1v1h-1zM1 45h1v1h-1zM0 46h1v1h-1zM1 46h1v1h-1zM0 47h1v1h-1zM1 47h1v1h-1zM0 48h1v1h-1zM1 48h1v1h-1zM0 49h1v1h-1zM1 49h1v1h-1zM0 50h1v1h-1zM1 50h1v1h-1z"/><path fill="#fdfdf6" stroke="#fdfdf6" d="M0 10h1v1h-1zM1 10h1v1h-1zM0 11h1v1h-1zM1 11h1v1h-1zM0 12h1v1h-1zM1 12h1v1h-1zM0 13h1v1h-1zM1 13h1v1h-1zM0 14h1v1h-1zM1 14h1v1h-1zM0 15h1v1h-1zM1 15h1v1h-1zM0 16h1v1h-1zM1 16h1v1h-1zM0 17h1v1h-1zM1 17h1v1h-1zM0 18h1v1h-1zM1 18h1v1h-1zM0 19h1v1h-1zM1 19h1v1h-1zM0 20h1v1h-1zM1 20h1v1h-1zM0 21h1v1h-1zM1 21h1v1h-1zM0 22h1v1h-1zM1 22h1v1h-1zM0 23h1v1h-1zM1 23h1v1h-1zM0 24h1v1h-1zM1 24h1v1h-1zM0 25h1v1h-1zM1 25h1v1h-1zM0 26h1v1h-1zM1 26h1v1h-1zM0 27h1v1h-1zM1 27h1v1h-1zM0 28h1v1h-1zM1 28h1v1h-1zM0 29h1v1h-1zM1 29h1v1h-1zM0 30h1v1h-1zM1 30h1v1h-1z"/></g><g stroke-width=".16" transform="matrix(4.8352 0 0 -6.7544 217.888 885.284)"><path fill="#eaeaeb" stroke="#eaeaeb" d="M21 26h1v1h-1zM9 27h1v1h-1zM6 29h1v1h-1zM1 34h1v1h-1z"/><path fill="#e5e5e7" stroke="#e5e5e7" d="M47 1h1v1h-1zM44 6h1v1h-1zM26 21h1v1h-1zM15 24h1v1h-1zM0 35h1v1h-1z"/><path fill="#e0e0e3" stroke="#e0e0e3" d="M34 16h1v1h-1zM12 25h1v1h-1zM10 26h1v1h-1zM7 28h1v1h-1z"/><path fill="#dbdbdf" stroke="#dbdbdf" d="M28 20h1v1h-1zM25 21h1v1h-1zM23 22h1v1h-1zM18 23h1v1h-1zM19 23h1v1h-1zM20 24h1v1h-1zM3 31h1v1h-1zM2 32h1v1h-1z"/><path fill="#d7d7dc" stroke="#d7d7dc" d="M14 24h1v1h-1zM22 24h1v1h-1zM8 27h1v1h-1zM4 30h1v1h-1zM1 33h1v1h-1z"/><path fill="#d2d2d9" stroke="#d2d2d9" d="M43 7h1v1h-1zM35 15h1v1h-1zM17 23h1v1h-1zM21 25h1v1h-1zM5 29h1v1h-1zM0 34h1v1h-1z"/><path fill="#cdcdd7" stroke="#cdcdd7" d="M32 17h1v1h-1zM29 19h1v1h-1zM24 21h1v1h-1zM11 25h1v1h-1zM9 26h1v1h-1zM6 28h1v1h-1z"/><path fill="#c9c9d5" stroke="#c9c9d5" d="M42 8h1v1h-1zM40 10h1v1h-1zM39 11h1v1h-1zM36 14h1v1h-1zM27 20h1v1h-1zM16 23h1v1h-1zM13 24h1v1h-1z"/><path fill="#c5c5d3" stroke="#c5c5d3" d="M45 4h1v1h-1zM41 9h1v1h-1zM38 12h1v1h-1zM37 13h1v1h-1zM30 18h1v1h-1zM7 27h1v1h-1zM3 30h1v1h-1zM2 31h1v1h-1zM1 32h1v1h-1z"/><path fill="#c1c1d2" stroke="#c1c1d2" d="M15 23h1v1h-1zM12 24h1v1h-1zM10 25h1v1h-1zM4 29h1v1h-1zM0 33h1v1h-1z"/><path fill="#bcbcd1" stroke="#bcbcd1" d="M26 20h1v1h-1zM20 23h1v1h-1zM21 24h1v1h-1zM8 26h1v1h-1zM5 28h1v1h-1z"/><path fill="#b8b8d1" stroke="#b8b8d1" d="M33 16h1v1h-1zM23 21h1v1h-1zM18 22h1v1h-1zM19 22h1v1h-1zM14 23h1v1h-1zM22 23h1v1h-1z"/><path fill="#b5b5d1" stroke="#b5b5d1" d="M47 0h1v1h-1zM25 20h1v1h-1zM17 22h1v1h-1zM6 27h1v1h-1z"/><path fill="#b1b1d1" stroke="#b1b1d1" d="M31 17h1v1h-1zM28 19h1v1h-1zM11 24h1v1h-1zM9 25h1v1h-1zM3 29h1v1h-1zM2 30h1v1h-1zM1 31h1v1h-1zM0 32h1v1h-1z"/><path fill="#adacd0" stroke="#adacd0" d="M46 2h1v1h-1zM24 20h1v1h-1zM16 22h1v1h-1zM13 23h1v1h-1zM7 26h1v1h-1zM4 28h1v1h-1z"/><path fill="#aaa8cf" stroke="#aaa8cf" d="M5 27h1v1h-1z"/><path fill="#a6a3cf" stroke="#a6a3cf" d="M44 5h1v1h-1zM34 15h1v1h-1zM21 23h1v1h-1zM10 24h1v1h-1zM8 25h1v1h-1z"/><path fill="#a39ece" stroke="#a39ece" d="M29 18h1v1h-1zM27 19h1v1h-1zM15 22h1v1h-1zM20 22h1v1h-1zM12 23h1v1h-1zM6 26h1v1h-1zM2 29h1v1h-1zM1 30h1v1h-1zM0 31h1v1h-1z"/><path fill="#a09ace" stroke="#a09ace" d="M19 21h1v1h-1zM22 22h1v1h-1zM3 28h1v1h-1z"/><path fill="#9d95ce" stroke="#9d95ce" d="M32 16h1v1h-1zM26 19h1v1h-1zM23 20h1v1h-1zM18 21h1v1h-1zM14 22h1v1h-1zM9 24h1v1h-1zM4 27h1v1h-1z"/><path fill="#9a90ce" stroke="#9a90ce" d="M35 14h1v1h-1zM25 19h1v1h-1zM17 21h1v1h-1zM11 23h1v1h-1zM7 25h1v1h-1z"/><path fill="#988ccf" stroke="#988ccf" d="M43 6h1v1h-1zM30 17h1v1h-1zM21 22h1v1h-1zM5 26h1v1h-1zM1 29h1v1h-1zM0 30h1v1h-1z"/><path fill="#9587cf" stroke="#9587cf" d="M45 3h1v1h-1zM28 18h1v1h-1zM16 21h1v1h-1zM13 22h1v1h-1zM8 24h1v1h-1zM2 28h1v1h-1z"/><path fill="#9282d0" stroke="#9282d0" d="M36 13h1v1h-1zM24 19h1v1h-1zM10 23h1v1h-1zM6 25h1v1h-1zM3 27h1v1h-1z"/><path fill="#907ed1" stroke="#907ed1" d="M42 7h1v1h-1zM40 9h1v1h-1zM39 10h1v1h-1zM15 21h1v1h-1zM20 21h1v1h-1zM22 21h1v1h-1zM12 22h1v1h-1zM4 26h1v1h-1z"/><path fill="#8e79d2" stroke="#8e79d2" d="M41 8h1v1h-1zM38 11h1v1h-1zM37 12h1v1h-1zM33 15h1v1h-1zM7 24h1v1h-1zM0 29h1v1h-1z"/><path fill="#8c74d3" stroke="#8c74d3" d="M27 18h1v1h-1zM18 20h1v1h-1zM19 20h1v1h-1zM21 21h1v1h-1zM9 23h1v1h-1zM5 25h1v1h-1zM2 27h1v1h-1zM1 28h1v1h-1z"/><path fill="#8a70d5" stroke="#8a70d5" d="M46 1h1v1h-1zM31 16h1v1h-1zM29 17h1v1h-1zM23 19h1v1h-1zM17 20h1v1h-1zM14 21h1v1h-1zM11 22h1v1h-1zM3 26h1v1h-1z"/><path fill="#8b6dd1" stroke="#8b6dd1" d="M26 18h1v1h-1zM13 21h1v1h-1zM8 23h1v1h-1zM6 24h1v1h-1z"/><path fill="#8c6bcd" stroke="#8c6bcd" d="M44 4h1v1h-1zM34 14h1v1h-1zM25 18h1v1h-1zM16 20h1v1h-1zM20 20h1v1h-1zM22 20h1v1h-1zM10 22h1v1h-1zM4 25h1v1h-1zM1 27h1v1h-1zM0 28h1v1h-1z"/><path fill="#8d68c9" stroke="#8d68c9" d="M24 18h1v1h-1zM15 20h1v1h-1zM21 20h1v1h-1zM12 21h1v1h-1zM9 22h1v1h-1zM7 23h1v1h-1zM5 24h1v1h-1zM2 26h1v1h-1z"/><path fill="#8f66c4" stroke="#8f66c4" d="M46 0h1v1h-1zM45 2h1v1h-1zM35 13h1v1h-1zM32 15h1v1h-1zM30 16h1v1h-1zM28 17h1v1h-1zM18 19h1v1h-1zM19 19h1v1h-1zM11 21h1v1h-1zM3 25h1v1h-1z"/><path fill="#9164c0" stroke="#9164c0" d="M27 17h1v1h-1zM23 18h1v1h-1zM17 19h1v1h-1zM22 19h1v1h-1zM14 20h1v1h-1zM8 22h1v1h-1zM6 23h1v1h-1zM4 24h1v1h-1zM1 26h1v1h-1zM0 27h1v1h-1z"/><path fill="#9361bb" stroke="#9361bb" d="M43 5h1v1h-1zM36 12h1v1h-1zM20 19h1v1h-1zM21 19h1v1h-1zM13 20h1v1h-1zM10 21h1v1h-1zM2 25h1v1h-1z"/><path fill="#955fb6" stroke="#955fb6" d="M33 14h1v1h-1zM26 17h1v1h-1zM16 19h1v1h-1zM7 22h1v1h-1zM5 23h1v1h-1zM3 24h1v1h-1z"/><path fill="#975db2" stroke="#975db2" d="M37 11h1v1h-1zM29 16h1v1h-1zM25 17h1v1h-1zM15 19h1v1h-1zM12 20h1v1h-1zM9 21h1v1h-1zM0 26h1v1h-1z"/><path fill="#995aad" stroke="#995aad" d="M44 3h1v1h-1zM42 6h1v1h-1zM39 9h1v1h-1zM38 10h1v1h-1zM31 15h1v1h-1zM24 17h1v1h-1zM18 18h1v1h-1zM19 18h1v1h-1zM20 18h1v1h-1zM21 18h1v1h-1zM22 18h1v1h-1zM14 19h1v1h-1zM11 20h1v1h-1zM8 21h1v1h-1zM6 22h1v1h-1zM4 23h1v1h-1zM1 25h1v1h-1z"/><path fill="#9c58a7" stroke="#9c58a7" d="M41 7h1v1h-1zM40 8h1v1h-1zM34 13h1v1h-1zM28 16h1v1h-1zM23 17h1v1h-1zM2 24h1v1h-1z"/><path fill="#9e56a2" stroke="#9e56a2" d="M45 1h1v1h-1zM17 18h1v1h-1zM13 19h1v1h-1zM10 20h1v1h-1zM7 21h1v1h-1zM5 22h1v1h-1zM3 23h1v1h-1zM0 25h1v1h-1z"/><path fill="#a1549d" stroke="#a1549d" d="M30 15h1v1h-1zM27 16h1v1h-1zM21 17h1v1h-1zM22 17h1v1h-1zM16 18h1v1h-1zM12 19h1v1h-1zM9 20h1v1h-1zM1 24h1v1h-1z"/><path fill="#a45297" stroke="#a45297" d="M35 12h1v1h-1zM32 14h1v1h-1zM26 16h1v1h-1zM19 17h1v1h-1zM20 17h1v1h-1zM15 18h1v1h-1zM6 21h1v1h-1zM4 22h1v1h-1zM2 23h1v1h-1z"/><path fill="#a75092" stroke="#a75092" d="M24 16h1v1h-1zM25 16h1v1h-1zM18 17h1v1h-1zM14 18h1v1h-1zM11 19h1v1h-1zM8 20h1v1h-1zM0 24h1v1h-1z"/><path fill="#ad4e8b" stroke="#ad4e8b" d="M43 4h1v1h-1zM36 11h1v1h-1zM33 13h1v1h-1zM29 15h1v1h-1zM22 16h1v1h-1zM23 16h1v1h-1zM17 17h1v1h-1zM13 18h1v1h-1zM10 19h1v1h-1zM7 20h1v1h-1zM5 21h1v1h-1zM3 22h1v1h-1z"/><path fill="#b24d84" stroke="#b24d84" d="M37 10h1v1h-1zM31 14h1v1h-1zM28 15h1v1h-1zM21 16h1v1h-1zM16 17h1v1h-1zM1 23h1v1h-1z"/><path fill="#b84c7d" stroke="#b84c7d" d="M45 0h1v1h-1zM44 2h1v1h-1zM38 9h1v1h-1zM26 15h1v1h-1zM27 15h1v1h-1zM20 16h1v1h-1zM15 17h1v1h-1zM12 18h1v1h-1zM9 19h1v1h-1zM6 20h1v1h-1zM4 21h1v1h-1zM2 22h1v1h-1z"/><path fill="#bd4b76" stroke="#bd4b76" d="M42 5h1v1h-1zM40 7h1v1h-1zM39 8h1v1h-1zM34 12h1v1h-1zM30 14h1v1h-1zM23 15h1v1h-1zM24 15h1v1h-1zM25 15h1v1h-1zM19 16h1v1h-1zM14 17h1v1h-1zM11 18h1v1h-1zM8 19h1v1h-1z"/><path fill="#c34a6e" stroke="#c34a6e" d="M41 6h1v1h-1zM32 13h1v1h-1zM29 14h1v1h-1zM22 15h1v1h-1zM18 16h1v1h-1zM10 18h1v1h-1zM5 20h1v1h-1zM3 21h1v1h-1zM0 23h1v1h-1z"/><path fill="#c94867" stroke="#c94867" d="M35 11h1v1h-1zM28 14h1v1h-1zM21 15h1v1h-1zM17 16h1v1h-1zM13 17h1v1h-1zM7 19h1v1h-1zM1 22h1v1h-1z"/><path fill="#d0475f" stroke="#d0475f" d="M43 3h1v1h-1zM26 14h1v1h-1zM27 14h1v1h-1zM20 15h1v1h-1zM16 16h1v1h-1zM12 17h1v1h-1zM9 18h1v1h-1z"/><path fill="#d64657" stroke="#d64657" d="M36 10h1v1h-1zM33 12h1v1h-1zM31 13h1v1h-1zM23 14h1v1h-1zM24 14h1v1h-1zM25 14h1v1h-1zM19 15h1v1h-1zM15 16h1v1h-1zM11 17h1v1h-1zM6 19h1v1h-1zM4 20h1v1h-1zM2 21h1v1h-1z"/><path fill="#dc454f" stroke="#dc454f" d="M37 9h1v1h-1zM22 14h1v1h-1zM18 15h1v1h-1zM14 16h1v1h-1zM8 18h1v1h-1zM0 22h1v1h-1z"/><path fill="#e34447" stroke="#e34447" d="M44 1h1v1h-1zM42 4h1v1h-1zM38 8h1v1h-1zM29 13h1v1h-1zM30 13h1v1h-1zM21 14h1v1h-1zM17 15h1v1h-1zM13 16h1v1h-1zM10 17h1v1h-1zM5 19h1v1h-1zM3 20h1v1h-1z"/><path fill="#ea433f" stroke="#ea433f" d="M41 5h1v1h-1zM40 6h1v1h-1zM39 7h1v1h-1zM34 11h1v1h-1zM26 13h1v1h-1zM27 13h1v1h-1zM28 13h1v1h-1zM20 14h1v1h-1zM16 15h1v1h-1zM12 16h1v1h-1zM9 17h1v1h-1zM7 18h1v1h-1zM1 21h1v1h-1z"/><path fill="#f14237" stroke="#f14237" d="M32 12h1v1h-1zM23 13h1v1h-1zM24 13h1v1h-1zM25 13h1v1h-1zM19 14h1v1h-1zM15 15h1v1h-1zM11 16h1v1h-1zM2 20h1v1h-1z"/><path fill="#f8412f" stroke="#f8412f" d="M43 2h1v1h-1zM35 10h1v1h-1zM22 13h1v1h-1zM18 14h1v1h-1zM14 15h1v1h-1zM8 17h1v1h-1zM6 18h1v1h-1zM4 19h1v1h-1zM0 21h1v1h-1z"/><path fill="#ff4026" stroke="#ff4026" d="M36 9h1v1h-1zM31 12h1v1h-1zM21 13h1v1h-1zM17 14h1v1h-1zM13 15h1v1h-1zM10 16h1v1h-1zM3 19h1v1h-1zM1 20h1v1h-1z"/><path fill="#fd4523" stroke="#fd4523" d="M44 0h1v1h-1zM42 3h1v1h-1zM37 8h1v1h-1zM33 11h1v1h-1zM23 12h1v1h-1zM24 12h1v1h-1zM25 12h1v1h-1zM26 12h1v1h-1zM27 12h1v1h-1zM28 12h1v1h-1zM29 12h1v1h-1zM30 12h1v1h-1zM20 13h1v1h-1zM15 14h1v1h-1zM16 14h1v1h-1zM12 15h1v1h-1zM9 16h1v1h-1zM7 17h1v1h-1zM5 18h1v1h-1z"/><path fill="#fb4921" stroke="#fb4921" d="M22 12h1v1h-1zM18 13h1v1h-1zM19 13h1v1h-1zM14 14h1v1h-1zM11 15h1v1h-1zM8 16h1v1h-1zM6 17h1v1h-1zM4 18h1v1h-1zM2 19h1v1h-1zM0 20h1v1h-1z"/><path fill="#fa4e1e" stroke="#fa4e1e" d="M43 1h1v1h-1zM38 7h1v1h-1zM21 12h1v1h-1zM16 13h1v1h-1zM17 13h1v1h-1zM12 14h1v1h-1zM13 14h1v1h-1zM10 15h1v1h-1zM7 16h1v1h-1zM5 17h1v1h-1zM3 18h1v1h-1zM1 19h1v1h-1z"/><path fill="#f8521b" stroke="#f8521b" d="M41 4h1v1h-1zM39 6h1v1h-1zM34 10h1v1h-1zM32 11h1v1h-1zM19 12h1v1h-1zM20 12h1v1h-1zM14 13h1v1h-1zM15 13h1v1h-1zM11 14h1v1h-1zM8 15h1v1h-1zM9 15h1v1h-1zM6 16h1v1h-1zM4 17h1v1h-1zM2 18h1v1h-1zM0 19h1v1h-1z"/><path fill="#f65718" stroke="#f65718" d="M40 5h1v1h-1zM22 11h1v1h-1zM23 11h1v1h-1zM24 11h1v1h-1zM25 11h1v1h-1zM26 11h1v1h-1zM27 11h1v1h-1zM18 12h1v1h-1zM13 13h1v1h-1zM10 14h1v1h-1zM7 15h1v1h-1zM5 16h1v1h-1zM3 17h1v1h-1zM1 18h1v1h-1z"/><path fill="#f45b16" stroke="#f45b16" d="M43 0h1v1h-1zM42 2h1v1h-1zM35 9h1v1h-1zM21 11h1v1h-1zM28 11h1v1h-1zM29 11h1v1h-1zM31 11h1v1h-1zM16 12h1v1h-1zM17 12h1v1h-1zM12 13h1v1h-1zM9 14h1v1h-1zM6 15h1v1h-1zM4 16h1v1h-1zM2 17h1v1h-1zM0 18h1v1h-1z"/><path fill="#f26013" stroke="#f26013" d="M36 8h1v1h-1zM33 10h1v1h-1zM19 11h1v1h-1zM20 11h1v1h-1zM30 11h1v1h-1zM14 12h1v1h-1zM15 12h1v1h-1zM11 13h1v1h-1zM8 14h1v1h-1zM5 15h1v1h-1zM3 16h1v1h-1zM1 17h1v1h-1z"/><path fill="#f16510" stroke="#f16510" d="M37 7h1v1h-1zM22 10h1v1h-1zM23 10h1v1h-1zM24 10h1v1h-1zM25 10h1v1h-1zM17 11h1v1h-1zM18 11h1v1h-1zM12 12h1v1h-1zM13 12h1v1h-1zM9 13h1v1h-1zM10 13h1v1h-1zM7 14h1v1h-1zM4 15h1v1h-1zM2 16h1v1h-1zM0 17h1v1h-1z"/><path fill="#ef690e" stroke="#ef690e" d="M38 6h1v1h-1zM20 10h1v1h-1zM21 10h1v1h-1zM26 10h1v1h-1zM27 10h1v1h-1zM32 10h1v1h-1zM15 11h1v1h-1zM16 11h1v1h-1zM11 12h1v1h-1zM8 13h1v1h-1zM6 14h1v1h-1zM1 16h1v1h-1z"/><path fill="#ed6e0b" stroke="#ed6e0b" d="M42 1h1v1h-1zM41 3h1v1h-1zM34 9h1v1h-1zM18 10h1v1h-1zM19 10h1v1h-1zM28 10h1v1h-1zM13 11h1v1h-1zM14 11h1v1h-1zM10 12h1v1h-1zM7 13h1v1h-1zM5 14h1v1h-1zM3 15h1v1h-1z"/><path fill="#eb7208" stroke="#eb7208" d="M39 5h1v1h-1zM22 9h1v1h-1zM23 9h1v1h-1zM24 9h1v1h-1zM16 10h1v1h-1zM17 10h1v1h-1zM29 10h1v1h-1zM31 10h1v1h-1zM12 11h1v1h-1zM9 12h1v1h-1zM6 13h1v1h-1zM4 14h1v1h-1zM2 15h1v1h-1zM0 16h1v1h-1z"/><path fill="#ea7705" stroke="#ea7705" d="M40 4h1v1h-1zM35 8h1v1h-1zM20 9h1v1h-1zM21 9h1v1h-1zM25 9h1v1h-1zM26 9h1v1h-1zM14 10h1v1h-1zM15 10h1v1h-1zM30 10h1v1h-1zM11 11h1v1h-1zM8 12h1v1h-1zM5 13h1v1h-1zM3 14h1v1h-1zM1 15h1v1h-1z"/><path fill="#e87b03" stroke="#e87b03" d="M36 7h1v1h-1zM17 9h1v1h-1zM18 9h1v1h-1zM19 9h1v1h-1zM27 9h1v1h-1zM33 9h1v1h-1zM13 10h1v1h-1zM9 11h1v1h-1zM10 11h1v1h-1zM6 12h1v1h-1zM7 12h1v1h-1zM4 13h1v1h-1zM2 14h1v1h-1zM0 15h1v1h-1z"/><path fill="#e68000" stroke="#e68000" d="M42 0h1v1h-1zM21 7h1v1h-1zM15 8h1v1h-1zM16 8h1v1h-1zM17 8h1v1h-1zM18 8h1v1h-1zM19 8h1v1h-1zM20 8h1v1h-1zM21 8h1v1h-1zM22 8h1v1h-1zM23 8h1v1h-1zM24 8h1v1h-1zM25 8h1v1h-1zM11 9h1v1h-1zM12 9h1v1h-1zM13 9h1v1h-1zM14 9h1v1h-1zM15 9h1v1h-1zM16 9h1v1h-1zM28 9h1v1h-1zM9 10h1v1h-1zM10 10h1v1h-1zM11 10h1v1h-1zM12 10h1v1h-1zM6 11h1v1h-1zM7 11h1v1h-1zM8 11h1v1h-1zM4 12h1v1h-1zM5 12h1v1h-1zM2 13h1v1h-1zM3 13h1v1h-1zM0 14h1v1h-1zM1 14h1v1h-1z"/><path fill="#e68402" stroke="#e68402" d="M17 5h1v1h-1zM18 5h1v1h-1zM19 5h1v1h-1zM20 5h1v1h-1zM21 5h1v1h-1zM22 5h1v1h-1zM13 6h1v1h-1zM14 6h1v1h-1zM15 6h1v1h-1zM16 6h1v1h-1zM17 6h1v1h-1zM18 6h1v1h-1zM19 6h1v1h-1zM20 6h1v1h-1zM21 6h1v1h-1zM22 6h1v1h-1zM23 6h1v1h-1zM24 6h1v1h-1zM37 6h1v1h-1zM11 7h1v1h-1zM12 7h1v1h-1zM13 7h1v1h-1zM14 7h1v1h-1zM15 7h1v1h-1zM16 7h1v1h-1zM17 7h1v1h-1zM18 7h1v1h-1zM19 7h1v1h-1zM20 7h1v1h-1zM22 7h1v1h-1zM23 7h1v1h-1zM24 7h1v1h-1zM25 7h1v1h-1zM26 7h1v1h-1zM9 8h1v1h-1zM10 8h1v1h-1zM11 8h1v1h-1zM12 8h1v1h-1zM13 8h1v1h-1zM14 8h1v1h-1zM26 8h1v1h-1zM27 8h1v1h-1zM28 8h1v1h-1zM7 9h1v1h-1zM8 9h1v1h-1zM9 9h1v1h-1zM10 9h1v1h-1zM29 9h1v1h-1zM30 9h1v1h-1zM31 9h1v1h-1zM32 9h1v1h-1zM5 10h1v1h-1zM6 10h1v1h-1zM7 10h1v1h-1zM8 10h1v1h-1zM4 11h1v1h-1zM5 11h1v1h-1zM2 12h1v1h-1zM3 12h1v1h-1zM0 13h1v1h-1zM1 13h1v1h-1z"/><path fill="#e68904" stroke="#e68904" d="M18 2h1v1h-1zM19 2h1v1h-1zM20 2h1v1h-1zM21 2h1v1h-1zM41 2h1v1h-1zM15 3h1v1h-1zM16 3h1v1h-1zM17 3h1v1h-1zM18 3h1v1h-1zM19 3h1v1h-1zM20 3h1v1h-1zM21 3h1v1h-1zM22 3h1v1h-1zM12 4h1v1h-1zM13 4h1v1h-1zM14 4h1v1h-1zM15 4h1v1h-1zM16 4h1v1h-1zM17 4h1v1h-1zM18 4h1v1h-1zM19 4h1v1h-1zM20 4h1v1h-1zM21 4h1v1h-1zM22 4h1v1h-1zM23 4h1v1h-1zM10 5h1v1h-1zM11 5h1v1h-1zM12 5h1v1h-1zM13 5h1v1h-1zM14 5h1v1h-1zM15 5h1v1h-1zM16 5h1v1h-1zM23 5h1v1h-1zM24 5h1v1h-1zM9 6h1v1h-1zM10 6h1v1h-1zM11 6h1v1h-1zM12 6h1v1h-1zM25 6h1v1h-1zM26 6h1v1h-1zM7 7h1v1h-1zM8 7h1v1h-1zM9 7h1v1h-1zM10 7h1v1h-1zM27 7h1v1h-1zM28 7h1v1h-1zM6 8h1v1h-1zM7 8h1v1h-1zM8 8h1v1h-1zM29 8h1v1h-1zM30 8h1v1h-1zM5 9h1v1h-1zM6 9h1v1h-1zM3 10h1v1h-1zM4 10h1v1h-1zM2 11h1v1h-1zM3 11h1v1h-1zM0 12h1v1h-1zM1 12h1v1h-1z"/><path fill="#e68e06" stroke="#e68e06" d="M16 0h1v1h-1zM17 0h1v1h-1zM18 0h1v1h-1zM19 0h1v1h-1zM20 0h1v1h-1zM21 0h1v1h-1zM14 1h1v1h-1zM15 1h1v1h-1zM16 1h1v1h-1zM17 1h1v1h-1zM18 1h1v1h-1zM19 1h1v1h-1zM20 1h1v1h-1zM21 1h1v1h-1zM22 1h1v1h-1zM12 2h1v1h-1zM13 2h1v1h-1zM14 2h1v1h-1zM15 2h1v1h-1zM16 2h1v1h-1zM17 2h1v1h-1zM22 2h1v1h-1zM23 2h1v1h-1zM10 3h1v1h-1zM11 3h1v1h-1zM12 3h1v1h-1zM13 3h1v1h-1zM14 3h1v1h-1zM23 3h1v1h-1zM24 3h1v1h-1zM9 4h1v1h-1zM10 4h1v1h-1zM11 4h1v1h-1zM24 4h1v1h-1zM25 4h1v1h-1zM8 5h1v1h-1zM9 5h1v1h-1zM25 5h1v1h-1zM26 5h1v1h-1zM7 6h1v1h-1zM8 6h1v1h-1zM27 6h1v1h-1zM28 6h1v1h-1zM5 7h1v1h-1zM6 7h1v1h-1zM29 7h1v1h-1zM4 8h1v1h-1zM5 8h1v1h-1zM31 8h1v1h-1zM3 9h1v1h-1zM4 9h1v1h-1zM2 10h1v1h-1zM0 11h1v1h-1zM1 11h1v1h-1z"/><path fill="#e69207" stroke="#e69207" d="M11 0h1v1h-1zM12 0h1v1h-1zM13 0h1v1h-1zM14 0h1v1h-1zM15 0h1v1h-1zM22 0h1v1h-1zM23 0h1v1h-1zM10 1h1v1h-1zM11 1h1v1h-1zM12 1h1v1h-1zM13 1h1v1h-1zM23 1h1v1h-1zM9 2h1v1h-1zM10 2h1v1h-1zM11 2h1v1h-1zM24 2h1v1h-1zM8 3h1v1h-1zM9 3h1v1h-1zM25 3h1v1h-1zM7 4h1v1h-1zM8 4h1v1h-1zM26 4h1v1h-1zM6 5h1v1h-1zM7 5h1v1h-1zM27 5h1v1h-1zM5 6h1v1h-1zM6 6h1v1h-1zM29 6h1v1h-1zM4 7h1v1h-1zM30 7h1v1h-1zM3 8h1v1h-1zM1 9h1v1h-1zM2 9h1v1h-1zM0 10h1v1h-1zM1 10h1v1h-1z"/><path fill="#e69609" stroke="#e69609" d="M9 0h1v1h-1zM10 0h1v1h-1zM24 0h1v1h-1zM8 1h1v1h-1zM9 1h1v1h-1zM24 1h1v1h-1zM25 1h1v1h-1zM7 2h1v1h-1zM8 2h1v1h-1zM25 2h1v1h-1zM6 3h1v1h-1zM7 3h1v1h-1zM26 3h1v1h-1zM40 3h1v1h-1zM5 4h1v1h-1zM6 4h1v1h-1zM27 4h1v1h-1zM5 5h1v1h-1zM28 5h1v1h-1zM29 5h1v1h-1zM38 5h1v1h-1zM3 6h1v1h-1zM4 6h1v1h-1zM30 6h1v1h-1zM2 7h1v1h-1zM3 7h1v1h-1zM1 8h1v1h-1zM2 8h1v1h-1zM32 8h1v1h-1zM34 8h1v1h-1zM0 9h1v1h-1z"/><path fill="#e69b0b" stroke="#e69b0b" d="M7 0h1v1h-1zM8 0h1v1h-1zM25 0h1v1h-1zM7 1h1v1h-1zM26 1h1v1h-1zM41 1h1v1h-1zM6 2h1v1h-1zM26 2h1v1h-1zM5 3h1v1h-1zM27 3h1v1h-1zM4 4h1v1h-1zM28 4h1v1h-1zM39 4h1v1h-1zM3 5h1v1h-1zM4 5h1v1h-1zM30 5h1v1h-1zM2 6h1v1h-1zM1 7h1v1h-1zM31 7h1v1h-1zM0 8h1v1h-1z"/><path fill="#e6a00d" stroke="#e6a00d" d="M6 0h1v1h-1zM26 0h1v1h-1zM6 1h1v1h-1zM5 2h1v1h-1zM27 2h1v1h-1zM4 3h1v1h-1zM28 3h1v1h-1zM3 4h1v1h-1zM29 4h1v1h-1zM2 5h1v1h-1zM1 6h1v1h-1zM0 7h1v1h-1zM33 8h1v1h-1z"/><path fill="#e6a40f" stroke="#e6a40f" d="M5 0h1v1h-1zM4 1h1v1h-1zM5 1h1v1h-1zM27 1h1v1h-1zM4 2h1v1h-1zM28 2h1v1h-1zM3 3h1v1h-1zM29 3h1v1h-1zM2 4h1v1h-1zM30 4h1v1h-1zM1 5h1v1h-1zM0 6h1v1h-1zM31 6h1v1h-1zM32 7h1v1h-1z"/><path fill="#e6a811" stroke="#e6a811" d="M4 0h1v1h-1zM27 0h1v1h-1zM3 1h1v1h-1zM28 1h1v1h-1zM3 2h1v1h-1zM29 2h1v1h-1zM2 3h1v1h-1zM30 3h1v1h-1zM1 4h1v1h-1zM0 5h1v1h-1z"/><path fill="#e6ad13" stroke="#e6ad13" d="M3 0h1v1h-1zM28 0h1v1h-1zM2 1h1v1h-1zM29 1h1v1h-1zM2 2h1v1h-1zM1 3h1v1h-1zM0 4h1v1h-1zM31 5h1v1h-1z"/><path fill="#e6b214" stroke="#e6b214" d="M2 0h1v1h-1zM41 0h1v1h-1zM0 2h1v1h-1zM1 2h1v1h-1zM30 2h1v1h-1zM0 3h1v1h-1zM35 7h1v1h-1z"/><path fill="#e6b616" stroke="#e6b616" d="M29 0h1v1h-1zM0 1h1v1h-1zM1 1h1v1h-1zM30 1h1v1h-1zM40 2h1v1h-1zM31 4h1v1h-1zM32 6h1v1h-1z"/><path fill="#e6ba18" stroke="#e6ba18" d="M0 0h1v1h-1zM1 0h1v1h-1zM30 0h1v1h-1z"/><path fill="#e6bf1a" stroke="#e6bf1a" d="M31 3h1v1h-1zM39 3h1v1h-1zM38 4h1v1h-1zM32 5h1v1h-1zM37 5h1v1h-1zM36 6h1v1h-1zM33 7h1v1h-1zM34 7h1v1h-1z"/><path fill="#e6c221" stroke="#e6c221" d="M40 1h1v1h-1zM31 2h1v1h-1zM39 2h1v1h-1zM38 3h1v1h-1zM32 4h1v1h-1zM37 4h1v1h-1zM36 5h1v1h-1zM33 6h1v1h-1zM34 6h1v1h-1zM35 6h1v1h-1z"/><path fill="#e6c529" stroke="#e6c529" d="M31 0h1v1h-1zM40 0h1v1h-1zM31 1h1v1h-1zM39 1h1v1h-1zM32 3h1v1h-1zM36 4h1v1h-1zM33 5h1v1h-1zM35 5h1v1h-1z"/><path fill="#e6c730" stroke="#e6c730" d="M32 2h1v1h-1zM38 2h1v1h-1zM37 3h1v1h-1zM33 4h1v1h-1zM35 4h1v1h-1zM34 5h1v1h-1z"/><path fill="#e6ca37" stroke="#e6ca37" d="M39 0h1v1h-1zM32 1h1v1h-1zM38 1h1v1h-1zM37 2h1v1h-1zM33 3h1v1h-1zM35 3h1v1h-1zM36 3h1v1h-1zM34 4h1v1h-1z"/><path fill="#e6cd3e" stroke="#e6cd3e" d="M32 0h1v1h-1zM38 0h1v1h-1zM37 1h1v1h-1zM33 2h1v1h-1zM36 2h1v1h-1zM34 3h1v1h-1z"/><path fill="#e6d046" stroke="#e6d046" d="M37 0h1v1h-1zM33 1h1v1h-1zM36 1h1v1h-1zM34 2h1v1h-1zM35 2h1v1h-1z"/><path fill="#e6d24d" stroke="#e6d24d" d="M33 0h1v1h-1zM36 0h1v1h-1zM34 1h1v1h-1zM35 1h1v1h-1z"/><path fill="#e6d554" stroke="#e6d554" d="M34 0h1v1h-1zM35 0h1v1h-1z"/></g><path d="M146.31 546.1V890.1M150.08 546.1V890.1M153.84 546.1V890.1M157.61 546.1V890.1M161.38 546.1V890.1M165.14 546.1V890.1M168.91 546.1V890.1M172.68 546.1V890.1M176.45 546.1V890.1M180.21 546.1V890.1M183.98 546.1V890.1M187.75 546.1V890.1M191.52 546.1V890.1M195.28 546.1V890.1M199.05 546.1V890.1M202.82 546.1V890.1M206.59 546.1V890.1M210.35 546.1V890.1M214.12 546.1V890.1M217.89 546.1V890.1M222.72 546.1V890.1M227.56 546.1V890.1M232.39 546.1V890.1M237.23 546.1V890.1M242.06 546.1V890.1M246.90 546.1V890.1M251.73 546.1V890.1M256.57 546.1V890.1M261.40 546.1V890.1M266.24 546.1V890.1M271.07 546.1V890.1M275.91 546.1V890.1M280.74 546.1V890.1M285.58 546.1V890.1M290.41 546.1V890.1M295.25 546.1V890.1M300.09 546.1V890.1M304.92 546.1V890.1M309.76 546.1V890.1M314.59 546.1V890.1M319.43 546.1V890.1M324.26 546.1V890.1M329.10 546.1V890.1M333.93 546.1V890.1M338.77 546.1V890.1M343.60 546.1V890.1M348.44 546.1V890.1M353.27 546.1V890.1M358.11 546.1V890.1M362.94 546.1V890.1M367.78 546.1V890.1M372.61 546.1V890.1M377.45 546.1V890.1M382.28 546.1V890.1M387.12 546.1V890.1M391.95 546.1V890.1M396.79 546.1V890.1M401.62 546.1V890.1M406.46 546.1V890.1M411.29 546.1V890.1M416.13 546.1V890.1M420.96 546.1V890.1M425.80 546.1V890.1M430.63 546.1V890.1M435.47 546.1V890.1M440.30 546.1V890.1M445.14 546.1V890.1M449.98 546.1V890.1M454.81 546.1V890.1M459.65 546.1V890.1M464.48 546.1V890.1M469.32 546.1V890.1M474.15 546.1V890.1M478.99 546.1V890.1M483.82 546.1V890.1M488.66 546.1V890.1M493.49 546.1V890.1M498.33 546.1V890.1M503.16 546.1V890.1M508.00 546.1V890.1M512.83 546.1V890.1M517.67 546.1V890.1M522.50 546.1V890.1M527.34 546.1V890.1M532.17 546.1V890.1M537.01 546.1V890.1M541.84 546.1V890.1M546.68 546.1V890.1M551.51 546.1V890.1M556.35 546.1V890.1M561.18 546.1V890.1M142.4 885.28H565.3M142.4 878.53H565.3M142.4 871.78H565.3M142.4 865.02H565.3M142.4 858.27H565.3M142.4 851.51H565.3M142.4 844.76H565.3M142.4 838.00H565.3M142.4 831.25H565.3M142.4 824.49H565.3M142.4 817.74H565.3M142.4 810.99H565.3M142.4 804.23H565.3M142.4 797.48H565.3M142.4 790.72H565.3M142.4 783.97H565.3M142.4 777.21H565.3M142.4 770.46H565.3M142.4 763.70H565.3M142.4 756.95H565.3M142.4 750.20H565.3M142.4 743.44H565.3M142.4 736.69H565.3M142.4 729.93H565.3M142.4 723.18H565.3M142.4 716.42H565.3M142.4 709.67H565.3M142.4 702.91H565.3M142.4 696.16H565.3M142.4 689.41H565.3M142.4 682.65H565.3M142.4 675.90H565.3M142.4 669.14H565.3M142.4 662.39H565.3M142.4 655.63H565.3M142.4 648.88H565.3M142.4 642.12H565.3M142.4 635.37H565.3M142.4 628.62H565.3M142.4 621.86H565.3M142.4 615.11H565.3M142.4 608.35H565.3M142.4 601.60H565.3M142.4 594.84H565.3M142.4 588.09H565.3M142.4 581.33H565.3M142.4 574.58H565.3M142.4 567.83H565.3M142.4 561.07H565.3M142.4 554.32H565.3M142.4 547.56H565.3" stroke="#fff" stroke-opacity=".07" stroke-width=".9" fill="none"/></g>
<rect x="142.40" y="546.10" width="422.90" height="344.00" fill="none" stroke="#000" stroke-width="1.35"/>
<path d="M142.40 890.10v4.9M212.88 890.10v4.9M283.37 890.10v4.9M353.85 890.10v4.9M424.33 890.10v4.9M494.82 890.10v4.9M565.30 890.10v4.9M142.40 890.10h-4.9M142.40 847.10h-4.9M142.40 804.10h-4.9M142.40 761.10h-4.9M142.40 718.10h-4.9M142.40 675.10h-4.9M142.40 632.10h-4.9M142.40 589.10h-4.9M142.40 546.10h-4.9" stroke="#000" stroke-width="1.25" fill="none"/>
<text x="134.71" y="920.40" font-size="27.51" textLength="15.36" lengthAdjust="spacingAndGlyphs">0</text>
<text x="196.90" y="920.40" font-size="27.51" textLength="32.04" lengthAdjust="spacingAndGlyphs">10</text>
<text x="267.16" y="920.40" font-size="27.51" textLength="32.27" lengthAdjust="spacingAndGlyphs">20</text>
<text x="338.09" y="920.40" font-size="27.51" textLength="31.81" lengthAdjust="spacingAndGlyphs">30</text>
<text x="408.28" y="920.40" font-size="27.51" textLength="32.11" lengthAdjust="spacingAndGlyphs">40</text>
<text x="479.02" y="920.40" font-size="27.51" textLength="31.84" lengthAdjust="spacingAndGlyphs">50</text>
<text x="548.98" y="920.40" font-size="27.51" textLength="32.39" lengthAdjust="spacingAndGlyphs">60</text>
<text x="91.67" y="900.20" font-size="27.51" textLength="40.47" lengthAdjust="spacingAndGlyphs">0.0</text>
<text x="91.68" y="857.20" font-size="27.51" textLength="40.05" lengthAdjust="spacingAndGlyphs">0.1</text>
<text x="91.69" y="814.20" font-size="27.51" textLength="39.88" lengthAdjust="spacingAndGlyphs">0.2</text>
<text x="91.68" y="771.20" font-size="27.51" textLength="40.24" lengthAdjust="spacingAndGlyphs">0.3</text>
<text x="91.67" y="728.20" font-size="27.51" textLength="40.46" lengthAdjust="spacingAndGlyphs">0.4</text>
<text x="91.69" y="685.20" font-size="27.51" textLength="39.98" lengthAdjust="spacingAndGlyphs">0.5</text>
<text x="91.67" y="642.20" font-size="27.51" textLength="40.72" lengthAdjust="spacingAndGlyphs">0.6</text>
<text x="91.68" y="599.20" font-size="27.51" textLength="40.29" lengthAdjust="spacingAndGlyphs">0.7</text>
<text x="91.67" y="556.20" font-size="27.51" textLength="40.56" lengthAdjust="spacingAndGlyphs">0.8</text>
<text x="305.35" y="950.30" font-size="27.51" textLength="16.82" lengthAdjust="spacingAndGlyphs" font-style="italic">p</text>
<text x="325.40" y="952.30" font-size="30.26" textLength="8.80" lengthAdjust="spacingAndGlyphs">/</text>
<text x="332.28" y="950.30" font-size="27.51" textLength="8.16" lengthAdjust="spacingAndGlyphs">(</text>
<text x="341.11" y="950.30" font-size="27.51" textLength="24.67" lengthAdjust="spacingAndGlyphs" font-style="italic">m</text>
<text x="365.77" y="955.90" font-size="19.26" textLength="12.03" lengthAdjust="spacingAndGlyphs" font-style="italic">e</text>
<text x="378.48" y="950.30" font-size="27.51" textLength="12.61" lengthAdjust="spacingAndGlyphs" font-style="italic">c</text>
<text x="394.04" y="950.30" font-size="27.51" textLength="9.29" lengthAdjust="spacingAndGlyphs">)</text>
<text x="224.07" y="536.30" font-size="27.51" textLength="8.11" lengthAdjust="spacingAndGlyphs" font-style="italic">t</text>
<text x="235.40" y="536.30" font-size="27.51" textLength="82.67" lengthAdjust="spacingAndGlyphs">=1.00</text>
<text x="319.65" y="536.30" font-size="27.51" textLength="20.97" lengthAdjust="spacingAndGlyphs">s,</text>
<text x="349.40" y="536.30" font-size="27.51" textLength="17.28" lengthAdjust="spacingAndGlyphs" font-style="italic">B</text>
<text x="376.67" y="536.30" font-size="27.51" textLength="18.27" lengthAdjust="spacingAndGlyphs">=</text>
<text x="406.53" y="536.30" font-size="27.51" textLength="60.52" lengthAdjust="spacingAndGlyphs">1.48</text>
<text x="466.96" y="536.30" font-size="27.51" textLength="17.50" lengthAdjust="spacingAndGlyphs">T</text>
<text x="47.90" y="518.60" font-size="27.20" textLength="39.40" lengthAdjust="spacingAndGlyphs">(b)</text>
<g transform="translate(75.80 768.00) rotate(-90)"><text x="-1.44" y="0.00" font-size="27.51" textLength="15.79" lengthAdjust="spacingAndGlyphs" font-style="italic">θ</text></g>
<g transform="translate(80.00 753.30) rotate(-90)"><text x="0.45" y="0.00" font-size="19.26" textLength="10.13" lengthAdjust="spacingAndGlyphs" font-style="italic">p</text></g>
<g transform="translate(75.80 729.00) rotate(-90)"><text x="-2.27" y="0.00" font-size="27.51" textLength="63.63" lengthAdjust="spacingAndGlyphs">[rad]</text></g>
<rect x="592.30" y="546.10" width="17.90" height="344.00" fill="url(#cbv)"/>
<rect x="592.30" y="546.10" width="17.90" height="344.00" fill="url(#cbh)" stroke="#222" stroke-width="1.1"/>
<text x="620.55" y="556.20" font-size="27.51" textLength="15.36" lengthAdjust="spacingAndGlyphs">0</text>
<text x="621.09" y="605.34" font-size="27.51" textLength="36.58" lengthAdjust="spacingAndGlyphs">−1</text>
<text x="621.10" y="654.49" font-size="27.51" textLength="36.40" lengthAdjust="spacingAndGlyphs">−2</text>
<text x="621.09" y="703.63" font-size="27.51" textLength="36.75" lengthAdjust="spacingAndGlyphs">−3</text>
<text x="621.08" y="752.77" font-size="27.51" textLength="36.92" lengthAdjust="spacingAndGlyphs">−4</text>
<text x="621.10" y="801.91" font-size="27.51" textLength="36.48" lengthAdjust="spacingAndGlyphs">−5</text>
<text x="621.07" y="851.06" font-size="27.51" textLength="37.24" lengthAdjust="spacingAndGlyphs">−6</text>
<text x="621.08" y="900.20" font-size="27.51" textLength="36.82" lengthAdjust="spacingAndGlyphs">−7</text>
<path d="M610.20 546.10h4.8M610.20 595.24h4.8M610.20 644.39h4.8M610.20 693.53h4.8M610.20 742.67h4.8M610.20 791.81h4.8M610.20 840.96h4.8M610.20 890.10h4.8" stroke="#222" stroke-width="1.2" fill="none"/>
<g transform="translate(684.80 831.00) rotate(-90)"><text x="-1.97" y="0.00" font-size="27.51" textLength="38.95" lengthAdjust="spacingAndGlyphs">log</text></g>
<g transform="translate(689.30 790.70) rotate(-90)"><text x="-1.41" y="0.00" font-size="19.26" textLength="20.53" lengthAdjust="spacingAndGlyphs">10</text></g>
<g transform="translate(684.80 766.30) rotate(-90)"><text x="-1.73" y="0.00" font-size="27.51" textLength="9.29" lengthAdjust="spacingAndGlyphs">(</text></g>
<g transform="translate(684.80 757.70) rotate(-90)"><text x="-1.20" y="0.00" font-size="27.51" textLength="9.92" lengthAdjust="spacingAndGlyphs" font-style="italic">f</text></g>
<g transform="translate(689.60 748.30) rotate(-90)"><text x="-0.33" y="0.00" font-size="19.26" textLength="17.45" lengthAdjust="spacingAndGlyphs" font-style="italic">re</text></g>
<g transform="translate(686.80 729.50) rotate(-90)"><text x="0.00" y="0.00" font-size="30.26" textLength="10.40" lengthAdjust="spacingAndGlyphs">/</text></g>
<g transform="translate(684.80 718.00) rotate(-90)"><text x="-1.98" y="0.00" font-size="27.51" textLength="66.25" lengthAdjust="spacingAndGlyphs">max(</text></g>
<g transform="translate(684.80 652.70) rotate(-90)"><text x="-1.23" y="0.00" font-size="27.51" textLength="10.17" lengthAdjust="spacingAndGlyphs" font-style="italic">f</text></g>
<g transform="translate(689.60 643.30) rotate(-90)"><text x="-0.35" y="0.00" font-size="19.26" textLength="18.52" lengthAdjust="spacingAndGlyphs" font-style="italic">re</text></g>
<g transform="translate(684.80 622.30) rotate(-90)"><text x="-0.17" y="0.00" font-size="27.51" textLength="19.37" lengthAdjust="spacingAndGlyphs">))</text></g>
<g clip-path="url(#clip2)"><g stroke-width=".16" transform="matrix(3.7673 0 0 -6.7544 142.541 1335.584)"><path fill="#eaeaeb" stroke="#eaeaeb" d="M18 36h1v1h-1zM14 42h1v1h-1zM11 47h1v1h-1z"/><path fill="#e5e5e7" stroke="#e5e5e7" d="M17 37h1v1h-1zM15 40h1v1h-1zM12 45h1v1h-1zM10 49h1v1h-1z"/><path fill="#e0e0e3" stroke="#e0e0e3" d="M13 43h1v1h-1z"/><path fill="#dbdbdf" stroke="#dbdbdf" d="M19 34h1v1h-1zM16 38h1v1h-1zM14 41h1v1h-1z"/><path fill="#d7d7dc" stroke="#d7d7dc" d="M18 35h1v1h-1zM12 44h1v1h-1zM11 46h1v1h-1zM10 48h1v1h-1z"/><path fill="#d2d2d9" stroke="#d2d2d9" d="M17 36h1v1h-1zM15 39h1v1h-1zM13 42h1v1h-1z"/><path fill="#cdcdd7" stroke="#cdcdd7" d="M16 37h1v1h-1z"/><path fill="#c9c9d5" stroke="#c9c9d5" d="M19 33h1v1h-1zM18 34h1v1h-1zM14 40h1v1h-1zM11 45h1v1h-1zM9 50h1v1h-1z"/><path fill="#c5c5d3" stroke="#c5c5d3" d="M15 38h1v1h-1zM12 43h1v1h-1zM10 47h1v1h-1z"/><path fill="#c1c1d2" stroke="#c1c1d2" d="M17 35h1v1h-1zM13 41h1v1h-1z"/><path fill="#bcbcd1" stroke="#bcbcd1" d="M16 36h1v1h-1zM14 39h1v1h-1zM11 44h1v1h-1zM9 49h1v1h-1z"/><path fill="#b8b8d1" stroke="#b8b8d1" d="M19 32h1v1h-1zM18 33h1v1h-1zM12 42h1v1h-1zM10 46h1v1h-1z"/><path fill="#b5b5d1" stroke="#b5b5d1" d="M15 37h1v1h-1zM13 40h1v1h-1z"/><path fill="#b1b1d1" stroke="#b1b1d1" d="M17 34h1v1h-1zM9 48h1v1h-1z"/><path fill="#adacd0" stroke="#adacd0" d="M16 35h1v1h-1zM14 38h1v1h-1zM12 41h1v1h-1zM11 43h1v1h-1z"/><path fill="#aaa8cf" stroke="#aaa8cf" d="M19 31h1v1h-1zM18 32h1v1h-1zM15 36h1v1h-1zM10 45h1v1h-1z"/><path fill="#a6a3cf" stroke="#a6a3cf" d="M17 33h1v1h-1zM13 39h1v1h-1z"/><path fill="#a39ece" stroke="#a39ece" d="M14 37h1v1h-1zM11 42h1v1h-1zM9 47h1v1h-1zM8 50h1v1h-1z"/><path fill="#a09ace" stroke="#a09ace" d="M16 34h1v1h-1zM12 40h1v1h-1zM10 44h1v1h-1z"/><path fill="#9d95ce" stroke="#9d95ce" d="M19 30h1v1h-1zM18 31h1v1h-1zM15 35h1v1h-1zM13 38h1v1h-1z"/><path fill="#9a90ce" stroke="#9a90ce" d="M17 32h1v1h-1zM9 46h1v1h-1z"/><path fill="#988ccf" stroke="#988ccf" d="M16 33h1v1h-1zM14 36h1v1h-1zM12 39h1v1h-1zM11 41h1v1h-1zM10 43h1v1h-1zM8 49h1v1h-1z"/><path fill="#9587cf" stroke="#9587cf" d="M13 37h1v1h-1z"/><path fill="#9282d0" stroke="#9282d0" d="M19 29h1v1h-1zM18 30h1v1h-1zM15 34h1v1h-1zM9 45h1v1h-1z"/><path fill="#907ed1" stroke="#907ed1" d="M17 31h1v1h-1zM14 35h1v1h-1zM11 40h1v1h-1zM8 48h1v1h-1z"/><path fill="#8e79d2" stroke="#8e79d2" d="M16 32h1v1h-1zM12 38h1v1h-1zM10 42h1v1h-1z"/><path fill="#8c74d3" stroke="#8c74d3" d="M15 33h1v1h-1zM13 36h1v1h-1z"/><path fill="#8a70d5" stroke="#8a70d5" d="M19 28h1v1h-1zM18 29h1v1h-1zM14 34h1v1h-1zM11 39h1v1h-1zM9 44h1v1h-1zM8 47h1v1h-1z"/><path fill="#8b6dd1" stroke="#8b6dd1" d="M17 30h1v1h-1zM12 37h1v1h-1zM10 41h1v1h-1z"/><path fill="#8c6bcd" stroke="#8c6bcd" d="M16 31h1v1h-1zM15 32h1v1h-1zM13 35h1v1h-1zM9 43h1v1h-1zM7 50h1v1h-1z"/><path fill="#8d68c9" stroke="#8d68c9" d="M18 28h1v1h-1zM14 33h1v1h-1zM12 36h1v1h-1zM11 38h1v1h-1zM8 46h1v1h-1z"/><path fill="#8f66c4" stroke="#8f66c4" d="M19 27h1v1h-1zM17 29h1v1h-1zM10 40h1v1h-1zM7 49h1v1h-1z"/><path fill="#9164c0" stroke="#9164c0" d="M16 30h1v1h-1zM15 31h1v1h-1zM13 34h1v1h-1zM9 42h1v1h-1zM8 45h1v1h-1z"/><path fill="#9361bb" stroke="#9361bb" d="M14 32h1v1h-1zM12 35h1v1h-1zM11 37h1v1h-1zM10 39h1v1h-1z"/><path fill="#955fb6" stroke="#955fb6" d="M18 27h1v1h-1zM13 33h1v1h-1zM9 41h1v1h-1zM8 44h1v1h-1zM7 48h1v1h-1z"/><path fill="#975db2" stroke="#975db2" d="M19 26h1v1h-1zM17 28h1v1h-1zM16 29h1v1h-1zM15 30h1v1h-1zM11 36h1v1h-1z"/><path fill="#995aad" stroke="#995aad" d="M14 31h1v1h-1zM12 34h1v1h-1zM10 38h1v1h-1zM7 47h1v1h-1z"/><path fill="#9c58a7" stroke="#9c58a7" d="M13 32h1v1h-1zM9 40h1v1h-1zM8 43h1v1h-1z"/><path fill="#9e56a2" stroke="#9e56a2" d="M18 26h1v1h-1zM17 27h1v1h-1zM16 28h1v1h-1zM15 29h1v1h-1zM12 33h1v1h-1zM11 35h1v1h-1zM10 37h1v1h-1zM7 46h1v1h-1z"/><path fill="#a1549d" stroke="#a1549d" d="M19 25h1v1h-1zM14 30h1v1h-1zM9 39h1v1h-1zM8 42h1v1h-1zM6 50h1v1h-1z"/><path fill="#a45297" stroke="#a45297" d="M13 31h1v1h-1zM7 45h1v1h-1z"/><path fill="#a75092" stroke="#a75092" d="M16 27h1v1h-1zM15 28h1v1h-1zM12 32h1v1h-1zM11 34h1v1h-1zM10 36h1v1h-1zM8 41h1v1h-1zM6 49h1v1h-1z"/><path fill="#ad4e8b" stroke="#ad4e8b" d="M18 25h1v1h-1zM17 26h1v1h-1zM14 29h1v1h-1zM9 38h1v1h-1zM7 44h1v1h-1z"/><path fill="#b24d84" stroke="#b24d84" d="M13 30h1v1h-1zM6 48h1v1h-1z"/><path fill="#b84c7d" stroke="#b84c7d" d="M19 24h1v1h-1zM12 31h1v1h-1zM11 33h1v1h-1zM10 35h1v1h-1zM9 37h1v1h-1zM8 40h1v1h-1zM7 43h1v1h-1z"/><path fill="#bd4b76" stroke="#bd4b76" d="M16 26h1v1h-1zM15 27h1v1h-1zM6 47h1v1h-1z"/><path fill="#c34a6e" stroke="#c34a6e" d="M18 24h1v1h-1zM17 25h1v1h-1zM14 28h1v1h-1zM13 29h1v1h-1zM11 32h1v1h-1zM10 34h1v1h-1zM8 39h1v1h-1zM7 42h1v1h-1z"/><path fill="#c94867" stroke="#c94867" d="M9 36h1v1h-1zM6 46h1v1h-1z"/><path fill="#d0475f" stroke="#d0475f" d="M19 23h1v1h-1zM12 30h1v1h-1zM8 38h1v1h-1z"/><path fill="#d64657" stroke="#d64657" d="M16 25h1v1h-1zM15 26h1v1h-1zM11 31h1v1h-1zM10 33h1v1h-1zM9 35h1v1h-1zM7 41h1v1h-1zM6 45h1v1h-1z"/><path fill="#dc454f" stroke="#dc454f" d="M18 23h1v1h-1zM17 24h1v1h-1zM14 27h1v1h-1zM13 28h1v1h-1zM8 37h1v1h-1zM5 50h1v1h-1z"/><path fill="#e34447" stroke="#e34447" d="M12 29h1v1h-1zM10 32h1v1h-1zM9 34h1v1h-1zM7 40h1v1h-1z"/><path fill="#ea433f" stroke="#ea433f" d="M19 22h1v1h-1zM11 30h1v1h-1zM6 44h1v1h-1zM5 49h1v1h-1z"/><path fill="#f14237" stroke="#f14237" d="M16 24h1v1h-1zM15 25h1v1h-1zM14 26h1v1h-1zM8 36h1v1h-1zM7 39h1v1h-1z"/><path fill="#f8412f" stroke="#f8412f" d="M18 22h1v1h-1zM17 23h1v1h-1zM13 27h1v1h-1zM12 28h1v1h-1zM10 31h1v1h-1zM9 33h1v1h-1zM6 43h1v1h-1z"/><path fill="#ff4026" stroke="#ff4026" d="M19 21h1v1h-1zM11 29h1v1h-1zM8 35h1v1h-1zM7 38h1v1h-1zM5 48h1v1h-1z"/><path fill="#fd4523" stroke="#fd4523" d="M17 22h1v1h-1zM16 23h1v1h-1zM15 24h1v1h-1zM14 25h1v1h-1zM13 26h1v1h-1zM12 27h1v1h-1zM10 30h1v1h-1zM9 32h1v1h-1zM6 42h1v1h-1zM5 47h1v1h-1z"/><path fill="#fb4921" stroke="#fb4921" d="M19 20h1v1h-1zM18 21h1v1h-1zM11 28h1v1h-1zM9 31h1v1h-1zM8 34h1v1h-1zM7 37h1v1h-1zM6 41h1v1h-1z"/><path fill="#fa4e1e" stroke="#fa4e1e" d="M17 21h1v1h-1zM16 22h1v1h-1zM15 23h1v1h-1zM14 24h1v1h-1zM13 25h1v1h-1zM12 26h1v1h-1zM10 29h1v1h-1zM8 33h1v1h-1zM7 36h1v1h-1zM5 46h1v1h-1z"/><path fill="#f8521b" stroke="#f8521b" d="M19 19h1v1h-1zM18 20h1v1h-1zM11 27h1v1h-1zM10 28h1v1h-1zM9 30h1v1h-1zM6 40h1v1h-1zM5 45h1v1h-1z"/><path fill="#f65718" stroke="#f65718" d="M17 20h1v1h-1zM16 21h1v1h-1zM15 22h1v1h-1zM14 23h1v1h-1zM13 24h1v1h-1zM12 25h1v1h-1zM11 26h1v1h-1zM8 32h1v1h-1zM7 35h1v1h-1zM6 39h1v1h-1z"/><path fill="#f45b16" stroke="#f45b16" d="M19 18h1v1h-1zM18 19h1v1h-1zM10 27h1v1h-1zM9 29h1v1h-1zM8 31h1v1h-1zM7 34h1v1h-1zM5 44h1v1h-1z"/><path fill="#f26013" stroke="#f26013" d="M17 19h1v1h-1zM16 20h1v1h-1zM15 21h1v1h-1zM14 22h1v1h-1zM13 23h1v1h-1zM12 24h1v1h-1zM11 25h1v1h-1zM9 28h1v1h-1zM6 38h1v1h-1zM5 43h1v1h-1z"/><path fill="#f16510" stroke="#f16510" d="M19 17h1v1h-1zM18 18h1v1h-1zM14 21h1v1h-1zM13 22h1v1h-1zM10 26h1v1h-1zM8 30h1v1h-1zM7 33h1v1h-1zM6 37h1v1h-1zM4 50h1v1h-1z"/><path fill="#ef690e" stroke="#ef690e" d="M17 18h1v1h-1zM16 19h1v1h-1zM15 20h1v1h-1zM12 23h1v1h-1zM11 24h1v1h-1zM9 27h1v1h-1zM8 29h1v1h-1zM7 32h1v1h-1zM5 42h1v1h-1zM4 49h1v1h-1z"/><path fill="#ed6e0b" stroke="#ed6e0b" d="M19 16h1v1h-1zM18 17h1v1h-1zM15 19h1v1h-1zM14 20h1v1h-1zM13 21h1v1h-1zM12 22h1v1h-1zM10 25h1v1h-1zM6 36h1v1h-1zM5 41h1v1h-1z"/><path fill="#eb7208" stroke="#eb7208" d="M17 17h1v1h-1zM16 18h1v1h-1zM11 23h1v1h-1zM10 24h1v1h-1zM9 26h1v1h-1zM8 28h1v1h-1zM7 31h1v1h-1zM6 35h1v1h-1zM4 48h1v1h-1z"/><path fill="#ea7705" stroke="#ea7705" d="M18 16h1v1h-1zM16 17h1v1h-1zM15 18h1v1h-1zM14 19h1v1h-1zM13 20h1v1h-1zM12 21h1v1h-1zM11 22h1v1h-1zM9 25h1v1h-1zM5 40h1v1h-1zM4 47h1v1h-1z"/><path fill="#e87b03" stroke="#e87b03" d="M19 15h1v1h-1zM17 16h1v1h-1zM10 23h1v1h-1zM8 27h1v1h-1zM7 30h1v1h-1zM6 34h1v1h-1zM5 39h1v1h-1z"/><path fill="#e68000" stroke="#e68000" d="M19 14h1v1h-1zM18 15h1v1h-1zM16 16h1v1h-1zM15 17h1v1h-1zM14 18h1v1h-1zM13 19h1v1h-1zM12 20h1v1h-1zM11 21h1v1h-1zM9 24h1v1h-1zM8 26h1v1h-1zM7 29h1v1h-1zM6 33h1v1h-1zM4 46h1v1h-1z"/><path fill="#e68402" stroke="#e68402" d="M18 14h1v1h-1zM17 15h1v1h-1zM13 18h1v1h-1zM10 22h1v1h-1zM9 23h1v1h-1zM8 25h1v1h-1zM7 28h1v1h-1zM6 32h1v1h-1zM5 38h1v1h-1zM4 45h1v1h-1z"/><path fill="#e68904" stroke="#e68904" d="M19 13h1v1h-1zM16 15h1v1h-1zM15 16h1v1h-1zM14 17h1v1h-1zM12 19h1v1h-1zM11 20h1v1h-1zM10 21h1v1h-1zM6 31h1v1h-1zM5 37h1v1h-1zM4 44h1v1h-1z"/><path fill="#e68e06" stroke="#e68e06" d="M18 13h1v1h-1zM17 14h1v1h-1zM15 15h1v1h-1zM14 16h1v1h-1zM13 17h1v1h-1zM12 18h1v1h-1zM11 19h1v1h-1zM9 22h1v1h-1zM8 24h1v1h-1zM7 27h1v1h-1zM6 30h1v1h-1zM5 36h1v1h-1zM4 43h1v1h-1z"/><path fill="#e69207" stroke="#e69207" d="M19 12h1v1h-1zM17 13h1v1h-1zM16 14h1v1h-1zM10 20h1v1h-1zM9 21h1v1h-1zM8 23h1v1h-1zM7 26h1v1h-1zM5 35h1v1h-1zM4 41h1v1h-1zM4 42h1v1h-1z"/><path fill="#e69609" stroke="#e69609" d="M18 12h1v1h-1zM15 14h1v1h-1zM14 15h1v1h-1zM13 16h1v1h-1zM12 17h1v1h-1zM11 18h1v1h-1zM10 19h1v1h-1zM9 20h1v1h-1zM8 22h1v1h-1zM7 25h1v1h-1zM6 29h1v1h-1zM5 34h1v1h-1zM4 40h1v1h-1zM3 50h1v1h-1z"/><path fill="#e69b0b" stroke="#e69b0b" d="M19 11h1v1h-1zM17 12h1v1h-1zM16 13h1v1h-1zM14 14h1v1h-1zM13 15h1v1h-1zM12 16h1v1h-1zM11 17h1v1h-1zM10 18h1v1h-1zM7 24h1v1h-1zM6 28h1v1h-1zM5 33h1v1h-1zM4 39h1v1h-1zM3 49h1v1h-1z"/><path fill="#e6a00d" stroke="#e6a00d" d="M18 11h1v1h-1zM16 12h1v1h-1zM15 13h1v1h-1zM9 19h1v1h-1zM8 21h1v1h-1zM6 27h1v1h-1zM5 32h1v1h-1zM4 38h1v1h-1zM3 48h1v1h-1z"/><path fill="#e6a40f" stroke="#e6a40f" d="M19 10h1v1h-1zM17 11h1v1h-1zM14 13h1v1h-1zM13 14h1v1h-1zM12 15h1v1h-1zM11 16h1v1h-1zM10 17h1v1h-1zM9 18h1v1h-1zM8 20h1v1h-1zM7 23h1v1h-1zM6 26h1v1h-1zM5 31h1v1h-1zM4 37h1v1h-1zM3 47h1v1h-1z"/><path fill="#e6a811" stroke="#e6a811" d="M18 10h1v1h-1zM16 11h1v1h-1zM15 12h1v1h-1zM13 13h1v1h-1zM12 14h1v1h-1zM11 15h1v1h-1zM10 16h1v1h-1zM8 19h1v1h-1zM7 22h1v1h-1zM6 25h1v1h-1zM5 30h1v1h-1zM4 36h1v1h-1zM3 46h1v1h-1z"/><path fill="#e6ad13" stroke="#e6ad13" d="M19 9h1v1h-1zM17 10h1v1h-1zM15 11h1v1h-1zM14 12h1v1h-1zM9 17h1v1h-1zM7 21h1v1h-1zM6 24h1v1h-1zM5 29h1v1h-1zM4 35h1v1h-1zM3 45h1v1h-1z"/><path fill="#e6b214" stroke="#e6b214" d="M18 9h1v1h-1zM16 10h1v1h-1zM14 11h1v1h-1zM13 12h1v1h-1zM12 13h1v1h-1zM11 14h1v1h-1zM10 15h1v1h-1zM9 16h1v1h-1zM8 18h1v1h-1zM7 20h1v1h-1zM6 23h1v1h-1zM5 28h1v1h-1zM4 34h1v1h-1zM3 44h1v1h-1z"/><path fill="#e6b616" stroke="#e6b616" d="M18 8h1v1h-1zM19 8h1v1h-1zM17 9h1v1h-1zM15 10h1v1h-1zM12 12h1v1h-1zM11 13h1v1h-1zM10 14h1v1h-1zM8 17h1v1h-1zM7 19h1v1h-1zM6 22h1v1h-1zM5 27h1v1h-1zM4 32h1v1h-1zM4 33h1v1h-1zM3 43h1v1h-1z"/><path fill="#e6ba18" stroke="#e6ba18" d="M19 7h1v1h-1zM17 8h1v1h-1zM16 9h1v1h-1zM14 10h1v1h-1zM13 11h1v1h-1zM9 15h1v1h-1zM8 16h1v1h-1zM6 21h1v1h-1zM5 26h1v1h-1zM4 31h1v1h-1zM3 42h1v1h-1z"/><path fill="#e6bf1a" stroke="#e6bf1a" d="M19 6h1v1h-1zM17 7h1v1h-1zM18 7h1v1h-1zM16 8h1v1h-1zM14 9h1v1h-1zM15 9h1v1h-1zM13 10h1v1h-1zM12 11h1v1h-1zM11 12h1v1h-1zM10 13h1v1h-1zM9 14h1v1h-1zM7 18h1v1h-1zM5 25h1v1h-1zM4 30h1v1h-1zM3 41h1v1h-1z"/><path fill="#e6c221" stroke="#e6c221" d="M18 5h1v1h-1zM19 5h1v1h-1zM17 6h1v1h-1zM18 6h1v1h-1zM15 7h1v1h-1zM16 7h1v1h-1zM14 8h1v1h-1zM15 8h1v1h-1zM13 9h1v1h-1zM12 10h1v1h-1zM11 11h1v1h-1zM10 12h1v1h-1zM9 13h1v1h-1zM8 15h1v1h-1zM7 17h1v1h-1zM6 20h1v1h-1zM5 24h1v1h-1zM4 29h1v1h-1zM3 40h1v1h-1z"/><path fill="#e6c529" stroke="#e6c529" d="M19 3h1v1h-1zM18 4h1v1h-1zM19 4h1v1h-1zM16 5h1v1h-1zM17 5h1v1h-1zM15 6h1v1h-1zM16 6h1v1h-1zM14 7h1v1h-1zM13 8h1v1h-1zM12 9h1v1h-1zM11 10h1v1h-1zM10 11h1v1h-1zM9 12h1v1h-1zM8 14h1v1h-1zM6 19h1v1h-1zM5 23h1v1h-1zM3 39h1v1h-1z"/><path fill="#e6c730" stroke="#e6c730" d="M19 2h1v1h-1zM17 3h1v1h-1zM18 3h1v1h-1zM16 4h1v1h-1zM17 4h1v1h-1zM15 5h1v1h-1zM14 6h1v1h-1zM13 7h1v1h-1zM12 8h1v1h-1zM11 9h1v1h-1zM10 10h1v1h-1zM9 11h1v1h-1zM8 13h1v1h-1zM7 16h1v1h-1zM5 22h1v1h-1zM4 28h1v1h-1z"/><path fill="#e6ca37" stroke="#e6ca37" d="M19 0h1v1h-1zM18 1h1v1h-1zM19 1h1v1h-1zM17 2h1v1h-1zM18 2h1v1h-1zM16 3h1v1h-1zM15 4h1v1h-1zM14 5h1v1h-1zM13 6h1v1h-1zM12 7h1v1h-1zM11 8h1v1h-1zM10 9h1v1h-1zM7 15h1v1h-1zM6 18h1v1h-1zM4 27h1v1h-1zM3 38h1v1h-1z"/><path fill="#e6cd3e" stroke="#e6cd3e" d="M18 0h1v1h-1zM17 1h1v1h-1zM16 2h1v1h-1zM15 3h1v1h-1zM14 4h1v1h-1zM13 5h1v1h-1zM12 6h1v1h-1zM11 7h1v1h-1zM10 8h1v1h-1zM9 10h1v1h-1zM8 12h1v1h-1zM6 17h1v1h-1zM5 21h1v1h-1zM4 26h1v1h-1zM3 37h1v1h-1z"/><path fill="#e6d046" stroke="#e6d046" d="M16 0h1v1h-1zM17 0h1v1h-1zM15 1h1v1h-1zM16 1h1v1h-1zM14 2h1v1h-1zM15 2h1v1h-1zM13 3h1v1h-1zM14 3h1v1h-1zM13 4h1v1h-1zM12 5h1v1h-1zM11 6h1v1h-1zM10 7h1v1h-1zM9 9h1v1h-1zM8 11h1v1h-1zM7 14h1v1h-1zM5 20h1v1h-1zM4 25h1v1h-1zM3 36h1v1h-1zM2 50h1v1h-1z"/><path fill="#e6d24d" stroke="#e6d24d" d="M15 0h1v1h-1zM14 1h1v1h-1zM13 2h1v1h-1zM12 3h1v1h-1zM12 4h1v1h-1zM11 5h1v1h-1zM10 6h1v1h-1zM9 8h1v1h-1zM7 13h1v1h-1zM6 16h1v1h-1zM5 19h1v1h-1zM4 24h1v1h-1zM3 35h1v1h-1zM2 49h1v1h-1z"/><path fill="#e6d554" stroke="#e6d554" d="M14 0h1v1h-1zM13 1h1v1h-1zM12 2h1v1h-1zM11 4h1v1h-1zM10 5h1v1h-1zM9 7h1v1h-1zM8 10h1v1h-1zM4 23h1v1h-1zM3 34h1v1h-1zM2 47h1v1h-1zM2 48h1v1h-1z"/><path fill="#e6d85c" stroke="#e6d85c" d="M13 0h1v1h-1zM12 1h1v1h-1zM11 3h1v1h-1zM10 4h1v1h-1zM9 6h1v1h-1zM8 9h1v1h-1zM7 12h1v1h-1zM6 15h1v1h-1zM5 18h1v1h-1zM4 22h1v1h-1zM3 33h1v1h-1zM2 46h1v1h-1z"/><path fill="#e6db63" stroke="#e6db63" d="M12 0h1v1h-1zM11 2h1v1h-1zM10 3h1v1h-1zM8 8h1v1h-1zM7 11h1v1h-1zM6 14h1v1h-1zM5 17h1v1h-1zM4 21h1v1h-1zM3 32h1v1h-1zM2 45h1v1h-1z"/><path fill="#e6de6a" stroke="#e6de6a" d="M11 1h1v1h-1zM10 2h1v1h-1zM9 5h1v1h-1zM5 16h1v1h-1zM4 20h1v1h-1zM3 31h1v1h-1zM2 44h1v1h-1z"/><path fill="#e6e071" stroke="#e6e071" d="M11 0h1v1h-1zM10 1h1v1h-1zM9 4h1v1h-1zM8 7h1v1h-1zM7 10h1v1h-1zM6 13h1v1h-1zM4 19h1v1h-1zM3 30h1v1h-1zM2 43h1v1h-1z"/><path fill="#e6e379" stroke="#e6e379" d="M10 0h1v1h-1zM9 3h1v1h-1zM8 6h1v1h-1zM7 9h1v1h-1zM6 12h1v1h-1zM5 15h1v1h-1zM3 29h1v1h-1zM2 41h1v1h-1zM2 42h1v1h-1z"/><path fill="#e6e680" stroke="#e6e680" d="M9 1h1v1h-1zM9 2h1v1h-1zM8 5h1v1h-1zM7 8h1v1h-1zM6 11h1v1h-1zM5 13h1v1h-1zM5 14h1v1h-1zM4 17h1v1h-1zM4 18h1v1h-1zM3 28h1v1h-1zM2 40h1v1h-1z"/><path fill="#e8e889" stroke="#e8e889" d="M9 0h1v1h-1zM8 2h1v1h-1zM8 3h1v1h-1zM8 4h1v1h-1zM7 5h1v1h-1zM7 6h1v1h-1zM7 7h1v1h-1zM6 8h1v1h-1zM6 9h1v1h-1zM6 10h1v1h-1zM5 11h1v1h-1zM5 12h1v1h-1zM4 15h1v1h-1zM4 16h1v1h-1zM3 25h1v1h-1zM3 26h1v1h-1zM3 27h1v1h-1zM2 38h1v1h-1zM2 39h1v1h-1z"/><path fill="#eaea92" stroke="#eaea92" d="M8 0h1v1h-1zM8 1h1v1h-1zM7 3h1v1h-1zM7 4h1v1h-1zM6 6h1v1h-1zM6 7h1v1h-1zM5 9h1v1h-1zM5 10h1v1h-1zM4 12h1v1h-1zM4 13h1v1h-1zM4 14h1v1h-1zM3 22h1v1h-1zM3 23h1v1h-1zM3 24h1v1h-1zM2 36h1v1h-1zM2 37h1v1h-1z"/><path fill="#ebeb9b" stroke="#ebeb9b" d="M7 0h1v1h-1zM7 1h1v1h-1zM7 2h1v1h-1zM6 4h1v1h-1zM6 5h1v1h-1zM5 7h1v1h-1zM5 8h1v1h-1zM4 10h1v1h-1zM4 11h1v1h-1zM3 19h1v1h-1zM3 20h1v1h-1zM3 21h1v1h-1zM2 34h1v1h-1zM2 35h1v1h-1zM1 49h1v1h-1zM1 50h1v1h-1z"/><path fill="#ededa4" stroke="#ededa4" d="M6 1h1v1h-1zM6 2h1v1h-1zM6 3h1v1h-1zM5 4h1v1h-1zM5 5h1v1h-1zM5 6h1v1h-1zM4 8h1v1h-1zM4 9h1v1h-1zM3 17h1v1h-1zM3 18h1v1h-1zM2 32h1v1h-1zM2 33h1v1h-1zM1 47h1v1h-1zM1 48h1v1h-1z"/><path fill="#efefad" stroke="#efefad" d="M6 0h1v1h-1zM5 2h1v1h-1zM5 3h1v1h-1zM4 5h1v1h-1zM4 6h1v1h-1zM4 7h1v1h-1zM3 14h1v1h-1zM3 15h1v1h-1zM3 16h1v1h-1zM2 30h1v1h-1zM2 31h1v1h-1zM1 44h1v1h-1zM1 45h1v1h-1zM1 46h1v1h-1z"/><path fill="#f1f1b6" stroke="#f1f1b6" d="M5 0h1v1h-1zM5 1h1v1h-1zM4 3h1v1h-1zM4 4h1v1h-1zM3 11h1v1h-1zM3 12h1v1h-1zM3 13h1v1h-1zM2 28h1v1h-1zM2 29h1v1h-1zM1 42h1v1h-1zM1 43h1v1h-1z"/><path fill="#f2f2c0" stroke="#f2f2c0" d="M4 1h1v1h-1zM4 2h1v1h-1zM3 8h1v1h-1zM3 9h1v1h-1zM3 10h1v1h-1zM2 26h1v1h-1zM2 27h1v1h-1zM1 40h1v1h-1zM1 41h1v1h-1z"/><path fill="#f4f4c9" stroke="#f4f4c9" d="M4 0h1v1h-1zM3 6h1v1h-1zM3 7h1v1h-1zM2 24h1v1h-1zM2 25h1v1h-1zM1 38h1v1h-1zM1 39h1v1h-1z"/><path fill="#f6f6d2" stroke="#f6f6d2" d="M3 0h1v1h-1zM3 1h1v1h-1zM3 2h1v1h-1zM3 3h1v1h-1zM3 4h1v1h-1zM3 5h1v1h-1zM2 18h1v1h-1zM2 19h1v1h-1zM2 20h1v1h-1zM2 21h1v1h-1zM2 22h1v1h-1zM2 23h1v1h-1zM1 32h1v1h-1zM1 33h1v1h-1zM1 34h1v1h-1zM1 35h1v1h-1zM1 36h1v1h-1zM1 37h1v1h-1z"/><path fill="#f8f8db" stroke="#f8f8db" d="M2 3h1v1h-1zM2 4h1v1h-1zM2 5h1v1h-1zM2 6h1v1h-1zM2 7h1v1h-1zM2 8h1v1h-1zM2 9h1v1h-1zM2 10h1v1h-1zM2 11h1v1h-1zM2 12h1v1h-1zM2 13h1v1h-1zM2 14h1v1h-1zM2 15h1v1h-1zM2 16h1v1h-1zM2 17h1v1h-1zM1 19h1v1h-1zM1 20h1v1h-1zM1 21h1v1h-1zM1 22h1v1h-1zM1 23h1v1h-1zM1 24h1v1h-1zM1 25h1v1h-1zM1 26h1v1h-1zM1 27h1v1h-1zM1 28h1v1h-1zM1 29h1v1h-1zM1 30h1v1h-1zM1 31h1v1h-1zM0 40h1v1h-1zM0 41h1v1h-1zM0 42h1v1h-1zM0 43h1v1h-1zM0 44h1v1h-1zM0 45h1v1h-1zM0 46h1v1h-1zM0 47h1v1h-1zM0 48h1v1h-1zM0 49h1v1h-1zM0 50h1v1h-1z"/><path fill="#fafae4" stroke="#fafae4" d="M2 0h1v1h-1zM2 1h1v1h-1zM2 2h1v1h-1zM1 6h1v1h-1zM1 7h1v1h-1zM1 8h1v1h-1zM1 9h1v1h-1zM1 10h1v1h-1zM1 11h1v1h-1zM1 12h1v1h-1zM1 13h1v1h-1zM1 14h1v1h-1zM1 15h1v1h-1zM1 16h1v1h-1zM1 17h1v1h-1zM1 18h1v1h-1zM0 26h1v1h-1zM0 27h1v1h-1zM0 28h1v1h-1zM0 29h1v1h-1zM0 30h1v1h-1zM0 31h1v1h-1zM0 32h1v1h-1zM0 33h1v1h-1zM0 34h1v1h-1zM0 35h1v1h-1zM0 36h1v1h-1zM0 37h1v1h-1zM0 38h1v1h-1zM0 39h1v1h-1z"/><path fill="#fbfbed" stroke="#fbfbed" d="M1 0h1v1h-1zM1 1h1v1h-1zM1 2h1v1h-1zM1 3h1v1h-1zM1 4h1v1h-1zM1 5h1v1h-1zM0 11h1v1h-1zM0 12h1v1h-1zM0 13h1v1h-1zM0 14h1v1h-1zM0 15h1v1h-1zM0 16h1v1h-1zM0 17h1v1h-1zM0 18h1v1h-1zM0 19h1v1h-1zM0 20h1v1h-1zM0 21h1v1h-1zM0 22h1v1h-1zM0 23h1v1h-1zM0 24h1v1h-1zM0 25h1v1h-1z"/><path fill="#fdfdf6" stroke="#fdfdf6" d="M0 0h1v1h-1zM0 1h1v1h-1zM0 2h1v1h-1zM0 3h1v1h-1zM0 4h1v1h-1zM0 5h1v1h-1zM0 6h1v1h-1zM0 7h1v1h-1zM0 8h1v1h-1zM0 9h1v1h-1zM0 10h1v1h-1z"/></g><g stroke-width=".16" transform="matrix(4.8352 0 0 -6.7544 217.888 1335.584)"><path fill="#eaeaeb" stroke="#eaeaeb" d="M28 19h1v1h-1zM24 20h1v1h-1zM12 23h1v1h-1zM10 24h1v1h-1zM31 26h1v1h-1zM33 28h1v1h-1z"/><path fill="#e5e5e7" stroke="#e5e5e7" d="M55 2h1v1h-1zM58 3h1v1h-1zM31 19h1v1h-1zM31 20h1v1h-1zM31 21h1v1h-1zM15 22h1v1h-1zM31 22h1v1h-1zM31 23h1v1h-1zM31 24h1v1h-1zM31 25h1v1h-1zM0 33h1v1h-1z"/><path fill="#e0e0e3" stroke="#e0e0e3" d="M59 3h1v1h-1zM31 18h1v1h-1zM27 19h1v1h-1zM20 21h1v1h-1zM21 22h1v1h-1zM8 25h1v1h-1zM32 27h1v1h-1zM37 29h1v1h-1z"/><path fill="#dbdbdf" stroke="#dbdbdf" d="M60 3h1v1h-1zM61 3h1v1h-1zM62 3h1v1h-1zM63 3h1v1h-1zM64 3h1v1h-1zM65 3h1v1h-1zM66 3h1v1h-1zM67 3h1v1h-1zM68 3h1v1h-1zM69 3h1v1h-1zM70 3h1v1h-1zM71 3h1v1h-1zM23 20h1v1h-1zM19 21h1v1h-1zM14 22h1v1h-1zM4 28h1v1h-1zM3 29h1v1h-1zM54 29h1v1h-1zM2 30h1v1h-1z"/><path fill="#d7d7dc" stroke="#d7d7dc" d="M30 18h1v1h-1zM26 19h1v1h-1zM18 21h1v1h-1zM11 23h1v1h-1zM9 24h1v1h-1zM5 27h1v1h-1zM34 28h1v1h-1zM38 29h1v1h-1zM1 31h1v1h-1z"/><path fill="#d2d2d9" stroke="#d2d2d9" d="M32 18h1v1h-1zM32 25h1v1h-1zM6 26h1v1h-1zM32 26h1v1h-1zM39 29h1v1h-1zM40 29h1v1h-1zM41 29h1v1h-1zM42 29h1v1h-1z"/><path fill="#cdcdd7" stroke="#cdcdd7" d="M29 18h1v1h-1zM25 19h1v1h-1zM32 19h1v1h-1zM32 20h1v1h-1zM17 21h1v1h-1zM32 21h1v1h-1zM13 22h1v1h-1zM32 22h1v1h-1zM32 23h1v1h-1zM32 24h1v1h-1zM33 27h1v1h-1zM43 29h1v1h-1zM44 29h1v1h-1zM45 29h1v1h-1zM46 29h1v1h-1zM47 29h1v1h-1zM48 29h1v1h-1zM49 29h1v1h-1zM50 29h1v1h-1zM51 29h1v1h-1zM52 29h1v1h-1zM53 29h1v1h-1zM0 32h1v1h-1z"/><path fill="#c9c9d5" stroke="#c9c9d5" d="M56 2h1v1h-1zM33 17h1v1h-1zM22 20h1v1h-1zM7 25h1v1h-1z"/><path fill="#c5c5d3" stroke="#c5c5d3" d="M28 18h1v1h-1zM24 19h1v1h-1zM16 21h1v1h-1zM21 21h1v1h-1zM10 23h1v1h-1zM3 28h1v1h-1zM35 28h1v1h-1zM2 29h1v1h-1z"/><path fill="#c1c1d2" stroke="#c1c1d2" d="M57 2h1v1h-1zM32 17h1v1h-1zM12 22h1v1h-1zM8 24h1v1h-1zM33 26h1v1h-1zM4 27h1v1h-1zM1 30h1v1h-1z"/><path fill="#bcbcd1" stroke="#bcbcd1" d="M58 2h1v1h-1zM27 18h1v1h-1zM20 20h1v1h-1zM15 21h1v1h-1zM33 22h1v1h-1zM33 23h1v1h-1zM33 24h1v1h-1zM33 25h1v1h-1zM5 26h1v1h-1zM0 31h1v1h-1z"/><path fill="#b8b8d1" stroke="#b8b8d1" d="M59 2h1v1h-1zM60 2h1v1h-1zM61 2h1v1h-1zM62 2h1v1h-1zM63 2h1v1h-1zM64 2h1v1h-1zM65 2h1v1h-1zM66 2h1v1h-1zM67 2h1v1h-1zM68 2h1v1h-1zM69 2h1v1h-1zM70 2h1v1h-1zM71 2h1v1h-1zM31 17h1v1h-1zM33 18h1v1h-1zM23 19h1v1h-1zM33 19h1v1h-1zM19 20h1v1h-1zM33 20h1v1h-1zM33 21h1v1h-1zM34 27h1v1h-1z"/><path fill="#b5b5d1" stroke="#b5b5d1" d="M35 16h1v1h-1zM34 17h1v1h-1zM26 18h1v1h-1zM14 21h1v1h-1zM11 22h1v1h-1zM9 23h1v1h-1zM6 25h1v1h-1zM36 28h1v1h-1zM54 28h1v1h-1z"/><path fill="#b1b1d1" stroke="#b1b1d1" d="M30 17h1v1h-1zM18 20h1v1h-1zM21 20h1v1h-1zM2 28h1v1h-1zM1 29h1v1h-1z"/><path fill="#adacd0" stroke="#adacd0" d="M34 16h1v1h-1zM13 21h1v1h-1zM7 24h1v1h-1zM3 27h1v1h-1zM37 28h1v1h-1zM0 30h1v1h-1z"/><path fill="#aaa8cf" stroke="#aaa8cf" d="M55 1h1v1h-1zM29 17h1v1h-1zM25 18h1v1h-1zM22 19h1v1h-1zM17 20h1v1h-1zM4 26h1v1h-1zM34 26h1v1h-1z"/><path fill="#a6a3cf" stroke="#a6a3cf" d="M34 18h1v1h-1zM16 20h1v1h-1zM10 22h1v1h-1zM34 24h1v1h-1zM5 25h1v1h-1zM34 25h1v1h-1zM35 27h1v1h-1zM38 28h1v1h-1zM39 28h1v1h-1z"/><path fill="#a39ece" stroke="#a39ece" d="M33 16h1v1h-1zM28 17h1v1h-1zM35 17h1v1h-1zM24 18h1v1h-1zM12 21h1v1h-1zM8 23h1v1h-1zM34 23h1v1h-1zM40 28h1v1h-1zM41 28h1v1h-1zM42 28h1v1h-1zM43 28h1v1h-1zM44 28h1v1h-1zM45 28h1v1h-1zM46 28h1v1h-1zM47 28h1v1h-1zM48 28h1v1h-1zM49 28h1v1h-1zM50 28h1v1h-1zM51 28h1v1h-1zM52 28h1v1h-1zM53 28h1v1h-1z"/><path fill="#a09ace" stroke="#a09ace" d="M56 1h1v1h-1zM36 16h1v1h-1zM20 19h1v1h-1zM34 19h1v1h-1zM15 20h1v1h-1zM34 21h1v1h-1zM34 22h1v1h-1zM2 27h1v1h-1zM1 28h1v1h-1z"/><path fill="#9d95ce" stroke="#9d95ce" d="M57 1h1v1h-1zM58 1h1v1h-1zM32 16h1v1h-1zM27 17h1v1h-1zM23 18h1v1h-1zM21 19h1v1h-1zM34 20h1v1h-1zM6 24h1v1h-1zM3 26h1v1h-1zM54 27h1v1h-1zM0 29h1v1h-1z"/><path fill="#9a90ce" stroke="#9a90ce" d="M59 1h1v1h-1zM60 1h1v1h-1zM61 1h1v1h-1zM62 1h1v1h-1zM63 1h1v1h-1zM64 1h1v1h-1zM65 1h1v1h-1zM66 1h1v1h-1zM67 1h1v1h-1zM68 1h1v1h-1zM69 1h1v1h-1zM70 1h1v1h-1zM71 1h1v1h-1zM37 15h1v1h-1zM31 16h1v1h-1zM19 19h1v1h-1zM9 22h1v1h-1zM36 27h1v1h-1z"/><path fill="#988ccf" stroke="#988ccf" d="M26 17h1v1h-1zM18 19h1v1h-1zM14 20h1v1h-1zM11 21h1v1h-1zM7 23h1v1h-1zM4 25h1v1h-1zM35 26h1v1h-1z"/><path fill="#9587cf" stroke="#9587cf" d="M36 15h1v1h-1zM30 16h1v1h-1zM22 18h1v1h-1zM35 18h1v1h-1z"/><path fill="#9282d0" stroke="#9282d0" d="M29 16h1v1h-1zM25 17h1v1h-1zM36 17h1v1h-1zM17 19h1v1h-1zM13 20h1v1h-1zM5 24h1v1h-1zM35 25h1v1h-1zM1 27h1v1h-1zM0 28h1v1h-1z"/><path fill="#907ed1" stroke="#907ed1" d="M35 15h1v1h-1zM10 21h1v1h-1zM8 22h1v1h-1zM35 24h1v1h-1zM54 24h1v1h-1zM54 25h1v1h-1zM2 26h1v1h-1zM54 26h1v1h-1zM37 27h1v1h-1z"/><path fill="#8e79d2" stroke="#8e79d2" d="M54 14h1v1h-1zM34 15h1v1h-1zM54 15h1v1h-1zM28 16h1v1h-1zM37 16h1v1h-1zM54 16h1v1h-1zM24 17h1v1h-1zM54 17h1v1h-1zM21 18h1v1h-1zM54 18h1v1h-1zM16 19h1v1h-1zM35 19h1v1h-1zM54 19h1v1h-1zM54 20h1v1h-1zM54 21h1v1h-1zM35 22h1v1h-1zM54 22h1v1h-1zM6 23h1v1h-1zM35 23h1v1h-1zM54 23h1v1h-1zM3 25h1v1h-1z"/><path fill="#8c74d3" stroke="#8c74d3" d="M54 3h1v1h-1zM54 4h1v1h-1zM54 5h1v1h-1zM54 6h1v1h-1zM54 7h1v1h-1zM54 8h1v1h-1zM54 9h1v1h-1zM54 10h1v1h-1zM54 11h1v1h-1zM54 12h1v1h-1zM54 13h1v1h-1zM20 18h1v1h-1zM12 20h1v1h-1zM35 21h1v1h-1zM36 26h1v1h-1z"/><path fill="#8a70d5" stroke="#8a70d5" d="M55 0h1v1h-1zM56 0h1v1h-1zM57 0h1v1h-1zM58 0h1v1h-1zM59 0h1v1h-1zM60 0h1v1h-1zM61 0h1v1h-1zM62 0h1v1h-1zM63 0h1v1h-1zM64 0h1v1h-1zM65 0h1v1h-1zM66 0h1v1h-1zM67 0h1v1h-1zM68 0h1v1h-1zM69 0h1v1h-1zM70 0h1v1h-1zM71 0h1v1h-1zM54 1h1v1h-1zM54 2h1v1h-1zM33 15h1v1h-1zM38 15h1v1h-1zM27 16h1v1h-1zM36 18h1v1h-1zM15 19h1v1h-1zM35 20h1v1h-1zM4 24h1v1h-1zM0 27h1v1h-1zM38 27h1v1h-1z"/><path fill="#8b6dd1" stroke="#8b6dd1" d="M54 0h1v1h-1zM39 14h1v1h-1zM32 15h1v1h-1zM26 16h1v1h-1zM23 17h1v1h-1zM19 18h1v1h-1zM9 21h1v1h-1zM7 22h1v1h-1zM1 26h1v1h-1z"/><path fill="#8c6bcd" stroke="#8c6bcd" d="M30 15h1v1h-1zM31 15h1v1h-1zM22 17h1v1h-1zM37 17h1v1h-1zM18 18h1v1h-1zM14 19h1v1h-1zM11 20h1v1h-1zM5 23h1v1h-1zM2 25h1v1h-1zM36 25h1v1h-1zM39 27h1v1h-1z"/><path fill="#8d68c9" stroke="#8d68c9" d="M38 14h1v1h-1zM29 15h1v1h-1zM25 16h1v1h-1zM38 16h1v1h-1zM21 17h1v1h-1zM17 18h1v1h-1zM13 19h1v1h-1zM36 19h1v1h-1zM36 23h1v1h-1zM3 24h1v1h-1zM36 24h1v1h-1zM37 26h1v1h-1zM40 27h1v1h-1zM41 27h1v1h-1zM42 27h1v1h-1zM43 27h1v1h-1zM44 27h1v1h-1zM45 27h1v1h-1zM53 27h1v1h-1z"/><path fill="#8f66c4" stroke="#8f66c4" d="M41 13h1v1h-1zM37 14h1v1h-1zM28 15h1v1h-1zM24 16h1v1h-1zM20 17h1v1h-1zM16 18h1v1h-1zM10 20h1v1h-1zM36 20h1v1h-1zM8 21h1v1h-1zM6 22h1v1h-1zM36 22h1v1h-1zM46 27h1v1h-1zM47 27h1v1h-1zM48 27h1v1h-1zM49 27h1v1h-1zM50 27h1v1h-1zM51 27h1v1h-1zM52 27h1v1h-1z"/><path fill="#9164c0" stroke="#9164c0" d="M36 14h1v1h-1zM40 14h1v1h-1zM27 15h1v1h-1zM39 15h1v1h-1zM23 16h1v1h-1zM15 18h1v1h-1zM37 18h1v1h-1zM12 19h1v1h-1zM36 21h1v1h-1zM4 23h1v1h-1zM1 25h1v1h-1zM0 26h1v1h-1z"/><path fill="#9361bb" stroke="#9361bb" d="M34 14h1v1h-1zM35 14h1v1h-1zM26 15h1v1h-1zM19 17h1v1h-1zM38 17h1v1h-1zM9 20h1v1h-1zM38 26h1v1h-1z"/><path fill="#955fb6" stroke="#955fb6" d="M32 14h1v1h-1zM33 14h1v1h-1zM25 15h1v1h-1zM22 16h1v1h-1zM18 17h1v1h-1zM14 18h1v1h-1zM11 19h1v1h-1zM37 19h1v1h-1zM7 21h1v1h-1zM5 22h1v1h-1zM2 24h1v1h-1zM37 25h1v1h-1z"/><path fill="#975db2" stroke="#975db2" d="M40 13h1v1h-1zM30 14h1v1h-1zM31 14h1v1h-1zM21 16h1v1h-1zM17 17h1v1h-1zM37 24h1v1h-1z"/><path fill="#995aad" stroke="#995aad" d="M43 12h1v1h-1zM28 14h1v1h-1zM29 14h1v1h-1zM24 15h1v1h-1zM20 16h1v1h-1zM39 16h1v1h-1zM16 17h1v1h-1zM13 18h1v1h-1zM38 18h1v1h-1zM10 19h1v1h-1zM8 20h1v1h-1zM37 20h1v1h-1zM37 21h1v1h-1zM37 22h1v1h-1zM3 23h1v1h-1zM37 23h1v1h-1zM0 25h1v1h-1zM39 26h1v1h-1z"/><path fill="#9c58a7" stroke="#9c58a7" d="M39 13h1v1h-1zM42 13h1v1h-1zM27 14h1v1h-1zM41 14h1v1h-1zM23 15h1v1h-1zM40 15h1v1h-1zM12 18h1v1h-1zM6 21h1v1h-1zM1 24h1v1h-1z"/><path fill="#9e56a2" stroke="#9e56a2" d="M26 14h1v1h-1zM19 16h1v1h-1zM15 17h1v1h-1zM4 22h1v1h-1zM38 25h1v1h-1z"/><path fill="#a1549d" stroke="#a1549d" d="M46 10h1v1h-1zM42 12h1v1h-1zM37 13h1v1h-1zM38 13h1v1h-1zM25 14h1v1h-1zM22 15h1v1h-1zM18 16h1v1h-1zM14 17h1v1h-1zM39 17h1v1h-1zM9 19h1v1h-1zM38 19h1v1h-1zM7 20h1v1h-1zM2 23h1v1h-1zM40 26h1v1h-1z"/><path fill="#a45297" stroke="#a45297" d="M34 13h1v1h-1zM35 13h1v1h-1zM36 13h1v1h-1zM21 15h1v1h-1zM17 16h1v1h-1zM11 18h1v1h-1zM5 21h1v1h-1zM38 24h1v1h-1zM53 26h1v1h-1z"/><path fill="#a75092" stroke="#a75092" d="M29 13h1v1h-1zM30 13h1v1h-1zM31 13h1v1h-1zM32 13h1v1h-1zM33 13h1v1h-1zM24 14h1v1h-1zM20 15h1v1h-1zM16 16h1v1h-1zM40 16h1v1h-1zM13 17h1v1h-1zM39 18h1v1h-1zM38 20h1v1h-1zM38 21h1v1h-1zM3 22h1v1h-1zM38 22h1v1h-1zM38 23h1v1h-1zM0 24h1v1h-1zM41 26h1v1h-1z"/><path fill="#ad4e8b" stroke="#ad4e8b" d="M44 11h1v1h-1zM45 11h1v1h-1zM41 12h1v1h-1zM27 13h1v1h-1zM28 13h1v1h-1zM23 14h1v1h-1zM42 14h1v1h-1zM41 15h1v1h-1zM10 18h1v1h-1zM8 19h1v1h-1zM6 20h1v1h-1zM4 21h1v1h-1zM1 23h1v1h-1zM39 25h1v1h-1zM42 26h1v1h-1z"/><path fill="#b24d84" stroke="#b24d84" d="M47 9h1v1h-1zM44 12h1v1h-1zM26 13h1v1h-1zM43 13h1v1h-1zM19 15h1v1h-1zM15 16h1v1h-1zM12 17h1v1h-1zM40 17h1v1h-1zM39 19h1v1h-1zM2 22h1v1h-1zM43 26h1v1h-1zM44 26h1v1h-1zM45 26h1v1h-1zM46 26h1v1h-1zM47 26h1v1h-1zM48 26h1v1h-1zM49 26h1v1h-1zM52 26h1v1h-1z"/><path fill="#b84c7d" stroke="#b84c7d" d="M43 11h1v1h-1zM40 12h1v1h-1zM22 14h1v1h-1zM18 15h1v1h-1zM14 16h1v1h-1zM9 18h1v1h-1zM7 19h1v1h-1zM5 20h1v1h-1zM50 26h1v1h-1zM51 26h1v1h-1z"/><path fill="#bd4b76" stroke="#bd4b76" d="M39 12h1v1h-1zM25 13h1v1h-1zM21 14h1v1h-1zM17 15h1v1h-1zM41 16h1v1h-1zM11 17h1v1h-1zM39 20h1v1h-1zM3 21h1v1h-1zM0 23h1v1h-1zM39 23h1v1h-1zM39 24h1v1h-1zM40 25h1v1h-1zM53 25h1v1h-1z"/><path fill="#c34a6e" stroke="#c34a6e" d="M45 10h1v1h-1zM37 12h1v1h-1zM38 12h1v1h-1zM24 13h1v1h-1zM13 16h1v1h-1zM8 18h1v1h-1zM40 18h1v1h-1zM6 19h1v1h-1zM4 20h1v1h-1zM39 21h1v1h-1zM1 22h1v1h-1zM39 22h1v1h-1z"/><path fill="#c94867" stroke="#c94867" d="M42 11h1v1h-1zM36 12h1v1h-1zM20 14h1v1h-1zM43 14h1v1h-1zM16 15h1v1h-1zM42 15h1v1h-1zM53 16h1v1h-1zM10 17h1v1h-1zM53 17h1v1h-1zM53 18h1v1h-1zM53 19h1v1h-1zM53 20h1v1h-1zM2 21h1v1h-1zM53 21h1v1h-1zM53 22h1v1h-1zM53 23h1v1h-1zM53 24h1v1h-1z"/><path fill="#d0475f" stroke="#d0475f" d="M53 0h1v1h-1zM53 1h1v1h-1zM53 2h1v1h-1zM53 3h1v1h-1zM53 4h1v1h-1zM53 5h1v1h-1zM53 6h1v1h-1zM53 7h1v1h-1zM53 8h1v1h-1zM53 9h1v1h-1zM47 10h1v1h-1zM53 10h1v1h-1zM41 11h1v1h-1zM46 11h1v1h-1zM53 11h1v1h-1zM28 12h1v1h-1zM29 12h1v1h-1zM30 12h1v1h-1zM31 12h1v1h-1zM32 12h1v1h-1zM34 12h1v1h-1zM35 12h1v1h-1zM45 12h1v1h-1zM53 12h1v1h-1zM23 13h1v1h-1zM44 13h1v1h-1zM53 13h1v1h-1zM19 14h1v1h-1zM53 14h1v1h-1zM15 15h1v1h-1zM53 15h1v1h-1zM12 16h1v1h-1zM41 17h1v1h-1zM7 18h1v1h-1zM5 19h1v1h-1zM40 19h1v1h-1zM41 25h1v1h-1z"/><path fill="#d64657" stroke="#d64657" d="M48 9h1v1h-1zM44 10h1v1h-1zM27 12h1v1h-1zM33 12h1v1h-1zM22 13h1v1h-1zM18 14h1v1h-1zM9 17h1v1h-1zM3 20h1v1h-1zM0 22h1v1h-1zM40 24h1v1h-1z"/><path fill="#dc454f" stroke="#dc454f" d="M40 11h1v1h-1zM26 12h1v1h-1zM17 14h1v1h-1zM14 15h1v1h-1zM11 16h1v1h-1zM42 16h1v1h-1zM8 17h1v1h-1zM6 18h1v1h-1zM41 18h1v1h-1zM4 19h1v1h-1zM40 20h1v1h-1zM1 21h1v1h-1zM40 23h1v1h-1zM42 25h1v1h-1z"/><path fill="#e34447" stroke="#e34447" d="M46 9h1v1h-1zM43 10h1v1h-1zM39 11h1v1h-1zM25 12h1v1h-1zM21 13h1v1h-1zM13 15h1v1h-1zM43 15h1v1h-1zM10 16h1v1h-1zM2 20h1v1h-1zM40 21h1v1h-1zM40 22h1v1h-1z"/><path fill="#ea433f" stroke="#ea433f" d="M38 11h1v1h-1zM24 12h1v1h-1zM20 13h1v1h-1zM16 14h1v1h-1zM44 14h1v1h-1zM7 17h1v1h-1zM42 17h1v1h-1zM5 18h1v1h-1zM3 19h1v1h-1zM41 19h1v1h-1zM43 25h1v1h-1z"/><path fill="#f14237" stroke="#f14237" d="M42 10h1v1h-1zM37 11h1v1h-1zM19 13h1v1h-1zM45 13h1v1h-1zM15 14h1v1h-1zM12 15h1v1h-1zM9 16h1v1h-1zM0 21h1v1h-1zM41 24h1v1h-1z"/><path fill="#f8412f" stroke="#f8412f" d="M45 9h1v1h-1zM28 11h1v1h-1zM29 11h1v1h-1zM36 11h1v1h-1zM23 12h1v1h-1zM46 12h1v1h-1zM18 13h1v1h-1zM11 15h1v1h-1zM43 16h1v1h-1zM6 17h1v1h-1zM4 18h1v1h-1zM1 20h1v1h-1zM41 20h1v1h-1zM44 25h1v1h-1zM52 25h1v1h-1z"/><path fill="#ff4026" stroke="#ff4026" d="M48 8h1v1h-1zM40 10h1v1h-1zM41 10h1v1h-1zM26 11h1v1h-1zM27 11h1v1h-1zM30 11h1v1h-1zM31 11h1v1h-1zM34 11h1v1h-1zM35 11h1v1h-1zM47 11h1v1h-1zM22 12h1v1h-1zM17 13h1v1h-1zM14 14h1v1h-1zM8 16h1v1h-1zM42 18h1v1h-1zM2 19h1v1h-1zM41 21h1v1h-1zM41 22h1v1h-1zM41 23h1v1h-1zM45 25h1v1h-1zM46 25h1v1h-1zM47 25h1v1h-1z"/><path fill="#fd4523" stroke="#fd4523" d="M47 8h1v1h-1zM43 9h1v1h-1zM44 9h1v1h-1zM39 10h1v1h-1zM25 11h1v1h-1zM32 11h1v1h-1zM33 11h1v1h-1zM20 12h1v1h-1zM21 12h1v1h-1zM16 13h1v1h-1zM13 14h1v1h-1zM10 15h1v1h-1zM44 15h1v1h-1zM7 16h1v1h-1zM5 17h1v1h-1zM3 18h1v1h-1zM1 19h1v1h-1zM42 19h1v1h-1zM0 20h1v1h-1zM42 24h1v1h-1zM48 25h1v1h-1zM49 25h1v1h-1zM50 25h1v1h-1zM51 25h1v1h-1z"/><path fill="#fb4921" stroke="#fb4921" d="M46 8h1v1h-1zM42 9h1v1h-1zM37 10h1v1h-1zM38 10h1v1h-1zM24 11h1v1h-1zM19 12h1v1h-1zM15 13h1v1h-1zM11 14h1v1h-1zM12 14h1v1h-1zM45 14h1v1h-1zM9 15h1v1h-1zM6 16h1v1h-1zM4 17h1v1h-1zM43 17h1v1h-1zM2 18h1v1h-1z"/><path fill="#fa4e1e" stroke="#fa4e1e" d="M48 7h1v1h-1zM44 8h1v1h-1zM45 8h1v1h-1zM40 9h1v1h-1zM41 9h1v1h-1zM29 10h1v1h-1zM35 10h1v1h-1zM36 10h1v1h-1zM48 10h1v1h-1zM23 11h1v1h-1zM18 12h1v1h-1zM14 13h1v1h-1zM46 13h1v1h-1zM10 14h1v1h-1zM8 15h1v1h-1zM5 16h1v1h-1zM44 16h1v1h-1zM3 17h1v1h-1zM43 18h1v1h-1zM0 19h1v1h-1zM42 20h1v1h-1zM42 21h1v1h-1zM42 22h1v1h-1zM42 23h1v1h-1zM43 24h1v1h-1z"/><path fill="#f8521b" stroke="#f8521b" d="M47 7h1v1h-1zM43 8h1v1h-1zM38 9h1v1h-1zM39 9h1v1h-1zM27 10h1v1h-1zM28 10h1v1h-1zM30 10h1v1h-1zM31 10h1v1h-1zM32 10h1v1h-1zM33 10h1v1h-1zM34 10h1v1h-1zM21 11h1v1h-1zM22 11h1v1h-1zM16 12h1v1h-1zM17 12h1v1h-1zM12 13h1v1h-1zM13 13h1v1h-1zM9 14h1v1h-1zM7 15h1v1h-1zM4 16h1v1h-1zM2 17h1v1h-1zM1 18h1v1h-1z"/><path fill="#f65718" stroke="#f65718" d="M46 7h1v1h-1zM41 8h1v1h-1zM42 8h1v1h-1zM37 9h1v1h-1zM25 10h1v1h-1zM26 10h1v1h-1zM20 11h1v1h-1zM15 12h1v1h-1zM47 12h1v1h-1zM11 13h1v1h-1zM8 14h1v1h-1zM6 15h1v1h-1zM45 15h1v1h-1zM3 16h1v1h-1zM44 17h1v1h-1zM0 18h1v1h-1zM43 19h1v1h-1zM44 24h1v1h-1z"/><path fill="#f45b16" stroke="#f45b16" d="M48 6h1v1h-1zM44 7h1v1h-1zM45 7h1v1h-1zM40 8h1v1h-1zM35 9h1v1h-1zM36 9h1v1h-1zM24 10h1v1h-1zM18 11h1v1h-1zM19 11h1v1h-1zM14 12h1v1h-1zM10 13h1v1h-1zM7 14h1v1h-1zM5 15h1v1h-1zM1 17h1v1h-1zM43 20h1v1h-1zM43 21h1v1h-1zM43 22h1v1h-1zM43 23h1v1h-1zM45 24h1v1h-1z"/><path fill="#f26013" stroke="#f26013" d="M47 6h1v1h-1zM43 7h1v1h-1zM38 8h1v1h-1zM39 8h1v1h-1zM29 9h1v1h-1zM30 9h1v1h-1zM31 9h1v1h-1zM32 9h1v1h-1zM33 9h1v1h-1zM34 9h1v1h-1zM22 10h1v1h-1zM23 10h1v1h-1zM17 11h1v1h-1zM12 12h1v1h-1zM13 12h1v1h-1zM9 13h1v1h-1zM6 14h1v1h-1zM46 14h1v1h-1zM4 15h1v1h-1zM2 16h1v1h-1zM45 16h1v1h-1zM0 17h1v1h-1zM44 18h1v1h-1zM52 24h1v1h-1z"/><path fill="#f16510" stroke="#f16510" d="M49 5h1v1h-1zM45 6h1v1h-1zM46 6h1v1h-1zM41 7h1v1h-1zM42 7h1v1h-1zM36 8h1v1h-1zM37 8h1v1h-1zM27 9h1v1h-1zM28 9h1v1h-1zM20 10h1v1h-1zM21 10h1v1h-1zM15 11h1v1h-1zM16 11h1v1h-1zM11 12h1v1h-1zM8 13h1v1h-1zM5 14h1v1h-1zM3 15h1v1h-1zM1 16h1v1h-1zM44 19h1v1h-1zM44 23h1v1h-1zM46 24h1v1h-1z"/><path fill="#ef690e" stroke="#ef690e" d="M48 5h1v1h-1zM44 6h1v1h-1zM49 6h1v1h-1zM39 7h1v1h-1zM40 7h1v1h-1zM49 7h1v1h-1zM35 8h1v1h-1zM49 8h1v1h-1zM25 9h1v1h-1zM26 9h1v1h-1zM19 10h1v1h-1zM14 11h1v1h-1zM48 11h1v1h-1zM10 12h1v1h-1zM7 13h1v1h-1zM47 13h1v1h-1zM4 14h1v1h-1zM2 15h1v1h-1zM46 15h1v1h-1zM0 16h1v1h-1zM45 17h1v1h-1zM44 20h1v1h-1zM44 21h1v1h-1zM44 22h1v1h-1zM47 24h1v1h-1z"/><path fill="#ed6e0b" stroke="#ed6e0b" d="M47 5h1v1h-1zM42 6h1v1h-1zM43 6h1v1h-1zM38 7h1v1h-1zM32 8h1v1h-1zM33 8h1v1h-1zM34 8h1v1h-1zM23 9h1v1h-1zM24 9h1v1h-1zM17 10h1v1h-1zM18 10h1v1h-1zM12 11h1v1h-1zM13 11h1v1h-1zM8 12h1v1h-1zM9 12h1v1h-1zM5 13h1v1h-1zM6 13h1v1h-1zM3 14h1v1h-1zM1 15h1v1h-1zM45 18h1v1h-1zM45 23h1v1h-1z"/><path fill="#eb7208" stroke="#eb7208" d="M49 4h1v1h-1zM45 5h1v1h-1zM46 5h1v1h-1zM41 6h1v1h-1zM36 7h1v1h-1zM37 7h1v1h-1zM29 8h1v1h-1zM30 8h1v1h-1zM31 8h1v1h-1zM21 9h1v1h-1zM22 9h1v1h-1zM49 9h1v1h-1zM15 10h1v1h-1zM16 10h1v1h-1zM11 11h1v1h-1zM7 12h1v1h-1zM4 13h1v1h-1zM2 14h1v1h-1zM0 15h1v1h-1zM46 16h1v1h-1zM45 19h1v1h-1zM48 24h1v1h-1z"/><path fill="#ea7705" stroke="#ea7705" d="M48 4h1v1h-1zM43 5h1v1h-1zM44 5h1v1h-1zM39 6h1v1h-1zM40 6h1v1h-1zM35 7h1v1h-1zM27 8h1v1h-1zM28 8h1v1h-1zM19 9h1v1h-1zM20 9h1v1h-1zM13 10h1v1h-1zM14 10h1v1h-1zM9 11h1v1h-1zM10 11h1v1h-1zM6 12h1v1h-1zM3 13h1v1h-1zM1 14h1v1h-1zM47 14h1v1h-1zM46 17h1v1h-1zM45 20h1v1h-1zM45 21h1v1h-1zM45 22h1v1h-1z"/><path fill="#e87b03" stroke="#e87b03" d="M46 4h1v1h-1zM47 4h1v1h-1zM42 5h1v1h-1zM38 6h1v1h-1zM33 7h1v1h-1zM34 7h1v1h-1zM25 8h1v1h-1zM26 8h1v1h-1zM17 9h1v1h-1zM18 9h1v1h-1zM12 10h1v1h-1zM8 11h1v1h-1zM5 12h1v1h-1zM48 12h1v1h-1zM2 13h1v1h-1zM0 14h1v1h-1zM52 21h1v1h-1zM52 22h1v1h-1zM46 23h1v1h-1zM52 23h1v1h-1zM49 24h1v1h-1zM51 24h1v1h-1z"/><path fill="#e68000" stroke="#e68000" d="M52 0h1v1h-1zM52 1h1v1h-1zM52 2h1v1h-1zM48 3h1v1h-1zM49 3h1v1h-1zM52 3h1v1h-1zM44 4h1v1h-1zM45 4h1v1h-1zM52 4h1v1h-1zM39 5h1v1h-1zM40 5h1v1h-1zM41 5h1v1h-1zM52 5h1v1h-1zM35 6h1v1h-1zM36 6h1v1h-1zM37 6h1v1h-1zM52 6h1v1h-1zM28 7h1v1h-1zM29 7h1v1h-1zM30 7h1v1h-1zM31 7h1v1h-1zM32 7h1v1h-1zM52 7h1v1h-1zM20 8h1v1h-1zM21 8h1v1h-1zM22 8h1v1h-1zM23 8h1v1h-1zM24 8h1v1h-1zM52 8h1v1h-1zM14 9h1v1h-1zM15 9h1v1h-1zM16 9h1v1h-1zM52 9h1v1h-1zM9 10h1v1h-1zM10 10h1v1h-1zM11 10h1v1h-1zM49 10h1v1h-1zM52 10h1v1h-1zM6 11h1v1h-1zM7 11h1v1h-1zM52 11h1v1h-1zM3 12h1v1h-1zM4 12h1v1h-1zM52 12h1v1h-1zM1 13h1v1h-1zM48 13h1v1h-1zM52 13h1v1h-1zM52 14h1v1h-1zM47 15h1v1h-1zM52 15h1v1h-1zM52 16h1v1h-1zM52 17h1v1h-1zM46 18h1v1h-1zM52 18h1v1h-1zM46 19h1v1h-1zM52 19h1v1h-1zM52 20h1v1h-1zM50 24h1v1h-1z"/><path fill="#e68402" stroke="#e68402" d="M48 2h1v1h-1zM49 2h1v1h-1zM44 3h1v1h-1zM45 3h1v1h-1zM46 3h1v1h-1zM47 3h1v1h-1zM40 4h1v1h-1zM41 4h1v1h-1zM42 4h1v1h-1zM43 4h1v1h-1zM35 5h1v1h-1zM36 5h1v1h-1zM37 5h1v1h-1zM38 5h1v1h-1zM28 6h1v1h-1zM29 6h1v1h-1zM30 6h1v1h-1zM31 6h1v1h-1zM32 6h1v1h-1zM33 6h1v1h-1zM34 6h1v1h-1zM20 7h1v1h-1zM21 7h1v1h-1zM22 7h1v1h-1zM23 7h1v1h-1zM24 7h1v1h-1zM25 7h1v1h-1zM26 7h1v1h-1zM27 7h1v1h-1zM14 8h1v1h-1zM15 8h1v1h-1zM16 8h1v1h-1zM17 8h1v1h-1zM18 8h1v1h-1zM19 8h1v1h-1zM10 9h1v1h-1zM11 9h1v1h-1zM12 9h1v1h-1zM13 9h1v1h-1zM7 10h1v1h-1zM8 10h1v1h-1zM4 11h1v1h-1zM5 11h1v1h-1zM49 11h1v1h-1zM2 12h1v1h-1zM0 13h1v1h-1zM48 14h1v1h-1zM47 16h1v1h-1zM47 17h1v1h-1zM46 20h1v1h-1zM46 21h1v1h-1zM46 22h1v1h-1zM47 23h1v1h-1z"/><path fill="#e68904" stroke="#e68904" d="M49 0h1v1h-1zM50 0h1v1h-1zM51 0h1v1h-1zM48 1h1v1h-1zM49 1h1v1h-1zM50 1h1v1h-1zM51 1h1v1h-1zM45 2h1v1h-1zM46 2h1v1h-1zM47 2h1v1h-1zM50 2h1v1h-1zM51 2h1v1h-1zM42 3h1v1h-1zM43 3h1v1h-1zM50 3h1v1h-1zM51 3h1v1h-1zM36 4h1v1h-1zM37 4h1v1h-1zM38 4h1v1h-1zM39 4h1v1h-1zM50 4h1v1h-1zM51 4h1v1h-1zM27 5h1v1h-1zM28 5h1v1h-1zM29 5h1v1h-1zM30 5h1v1h-1zM31 5h1v1h-1zM32 5h1v1h-1zM33 5h1v1h-1zM34 5h1v1h-1zM50 5h1v1h-1zM51 5h1v1h-1zM20 6h1v1h-1zM21 6h1v1h-1zM22 6h1v1h-1zM23 6h1v1h-1zM24 6h1v1h-1zM25 6h1v1h-1zM26 6h1v1h-1zM27 6h1v1h-1zM50 6h1v1h-1zM51 6h1v1h-1zM15 7h1v1h-1zM16 7h1v1h-1zM17 7h1v1h-1zM18 7h1v1h-1zM19 7h1v1h-1zM50 7h1v1h-1zM51 7h1v1h-1zM10 8h1v1h-1zM11 8h1v1h-1zM12 8h1v1h-1zM13 8h1v1h-1zM50 8h1v1h-1zM51 8h1v1h-1zM7 9h1v1h-1zM8 9h1v1h-1zM9 9h1v1h-1zM50 9h1v1h-1zM51 9h1v1h-1zM5 10h1v1h-1zM6 10h1v1h-1zM50 10h1v1h-1zM51 10h1v1h-1zM3 11h1v1h-1zM51 11h1v1h-1zM1 12h1v1h-1zM49 12h1v1h-1zM51 12h1v1h-1zM51 13h1v1h-1zM51 14h1v1h-1zM48 15h1v1h-1zM51 15h1v1h-1zM51 16h1v1h-1zM51 17h1v1h-1zM47 18h1v1h-1zM51 18h1v1h-1zM51 19h1v1h-1zM51 20h1v1h-1zM51 21h1v1h-1zM51 22h1v1h-1zM48 23h1v1h-1zM51 23h1v1h-1z"/><path fill="#e68e06" stroke="#e68e06" d="M48 0h1v1h-1zM46 1h1v1h-1zM47 1h1v1h-1zM42 2h1v1h-1zM43 2h1v1h-1zM44 2h1v1h-1zM37 3h1v1h-1zM38 3h1v1h-1zM39 3h1v1h-1zM40 3h1v1h-1zM41 3h1v1h-1zM27 4h1v1h-1zM28 4h1v1h-1zM29 4h1v1h-1zM30 4h1v1h-1zM31 4h1v1h-1zM32 4h1v1h-1zM33 4h1v1h-1zM34 4h1v1h-1zM35 4h1v1h-1zM20 5h1v1h-1zM21 5h1v1h-1zM22 5h1v1h-1zM23 5h1v1h-1zM24 5h1v1h-1zM25 5h1v1h-1zM26 5h1v1h-1zM15 6h1v1h-1zM16 6h1v1h-1zM17 6h1v1h-1zM18 6h1v1h-1zM19 6h1v1h-1zM11 7h1v1h-1zM12 7h1v1h-1zM13 7h1v1h-1zM14 7h1v1h-1zM7 8h1v1h-1zM8 8h1v1h-1zM9 8h1v1h-1zM6 9h1v1h-1zM4 10h1v1h-1zM2 11h1v1h-1zM50 11h1v1h-1zM0 12h1v1h-1zM49 13h1v1h-1zM49 14h1v1h-1zM48 16h1v1h-1zM48 17h1v1h-1zM47 19h1v1h-1zM47 20h1v1h-1zM47 21h1v1h-1zM47 22h1v1h-1zM49 23h1v1h-1zM50 23h1v1h-1z"/><path fill="#e69207" stroke="#e69207" d="M46 0h1v1h-1zM47 0h1v1h-1zM43 1h1v1h-1zM44 1h1v1h-1zM45 1h1v1h-1zM38 2h1v1h-1zM39 2h1v1h-1zM40 2h1v1h-1zM41 2h1v1h-1zM26 3h1v1h-1zM27 3h1v1h-1zM28 3h1v1h-1zM29 3h1v1h-1zM30 3h1v1h-1zM31 3h1v1h-1zM32 3h1v1h-1zM33 3h1v1h-1zM34 3h1v1h-1zM35 3h1v1h-1zM36 3h1v1h-1zM20 4h1v1h-1zM21 4h1v1h-1zM22 4h1v1h-1zM23 4h1v1h-1zM24 4h1v1h-1zM25 4h1v1h-1zM26 4h1v1h-1zM15 5h1v1h-1zM16 5h1v1h-1zM17 5h1v1h-1zM18 5h1v1h-1zM19 5h1v1h-1zM11 6h1v1h-1zM12 6h1v1h-1zM13 6h1v1h-1zM14 6h1v1h-1zM8 7h1v1h-1zM9 7h1v1h-1zM10 7h1v1h-1zM6 8h1v1h-1zM5 9h1v1h-1zM3 10h1v1h-1zM1 11h1v1h-1zM50 12h1v1h-1zM50 13h1v1h-1zM50 14h1v1h-1zM49 15h1v1h-1zM50 15h1v1h-1zM50 16h1v1h-1zM50 17h1v1h-1zM48 18h1v1h-1zM50 18h1v1h-1zM50 19h1v1h-1zM50 20h1v1h-1zM50 21h1v1h-1zM50 22h1v1h-1z"/><path fill="#e69609" stroke="#e69609" d="M44 0h1v1h-1zM45 0h1v1h-1zM40 1h1v1h-1zM41 1h1v1h-1zM42 1h1v1h-1zM26 2h1v1h-1zM27 2h1v1h-1zM28 2h1v1h-1zM29 2h1v1h-1zM30 2h1v1h-1zM31 2h1v1h-1zM32 2h1v1h-1zM33 2h1v1h-1zM34 2h1v1h-1zM35 2h1v1h-1zM36 2h1v1h-1zM37 2h1v1h-1zM20 3h1v1h-1zM21 3h1v1h-1zM22 3h1v1h-1zM23 3h1v1h-1zM24 3h1v1h-1zM25 3h1v1h-1zM16 4h1v1h-1zM17 4h1v1h-1zM18 4h1v1h-1zM19 4h1v1h-1zM12 5h1v1h-1zM13 5h1v1h-1zM14 5h1v1h-1zM8 6h1v1h-1zM9 6h1v1h-1zM10 6h1v1h-1zM6 7h1v1h-1zM7 7h1v1h-1zM5 8h1v1h-1zM4 9h1v1h-1zM2 10h1v1h-1zM0 11h1v1h-1zM49 16h1v1h-1zM48 19h1v1h-1zM48 20h1v1h-1zM48 21h1v1h-1zM48 22h1v1h-1z"/><path fill="#e69b0b" stroke="#e69b0b" d="M41 0h1v1h-1zM42 0h1v1h-1zM43 0h1v1h-1zM26 1h1v1h-1zM27 1h1v1h-1zM28 1h1v1h-1zM29 1h1v1h-1zM30 1h1v1h-1zM31 1h1v1h-1zM32 1h1v1h-1zM33 1h1v1h-1zM34 1h1v1h-1zM35 1h1v1h-1zM36 1h1v1h-1zM37 1h1v1h-1zM38 1h1v1h-1zM39 1h1v1h-1zM20 2h1v1h-1zM21 2h1v1h-1zM22 2h1v1h-1zM23 2h1v1h-1zM24 2h1v1h-1zM25 2h1v1h-1zM16 3h1v1h-1zM17 3h1v1h-1zM18 3h1v1h-1zM19 3h1v1h-1zM12 4h1v1h-1zM13 4h1v1h-1zM14 4h1v1h-1zM15 4h1v1h-1zM9 5h1v1h-1zM10 5h1v1h-1zM11 5h1v1h-1zM7 6h1v1h-1zM5 7h1v1h-1zM4 8h1v1h-1zM3 9h1v1h-1zM1 10h1v1h-1zM49 17h1v1h-1zM49 18h1v1h-1zM49 19h1v1h-1zM49 20h1v1h-1zM49 21h1v1h-1zM49 22h1v1h-1z"/><path fill="#e6a00d" stroke="#e6a00d" d="M25 0h1v1h-1zM26 0h1v1h-1zM27 0h1v1h-1zM28 0h1v1h-1zM29 0h1v1h-1zM30 0h1v1h-1zM31 0h1v1h-1zM32 0h1v1h-1zM33 0h1v1h-1zM34 0h1v1h-1zM35 0h1v1h-1zM36 0h1v1h-1zM37 0h1v1h-1zM38 0h1v1h-1zM39 0h1v1h-1zM40 0h1v1h-1zM20 1h1v1h-1zM21 1h1v1h-1zM22 1h1v1h-1zM23 1h1v1h-1zM24 1h1v1h-1zM25 1h1v1h-1zM16 2h1v1h-1zM17 2h1v1h-1zM18 2h1v1h-1zM19 2h1v1h-1zM13 3h1v1h-1zM14 3h1v1h-1zM15 3h1v1h-1zM9 4h1v1h-1zM10 4h1v1h-1zM11 4h1v1h-1zM7 5h1v1h-1zM8 5h1v1h-1zM6 6h1v1h-1zM3 8h1v1h-1zM2 9h1v1h-1zM0 10h1v1h-1z"/><path fill="#e6a40f" stroke="#e6a40f" d="M20 0h1v1h-1zM21 0h1v1h-1zM22 0h1v1h-1zM23 0h1v1h-1zM24 0h1v1h-1zM17 1h1v1h-1zM18 1h1v1h-1zM19 1h1v1h-1zM13 2h1v1h-1zM14 2h1v1h-1zM15 2h1v1h-1zM10 3h1v1h-1zM11 3h1v1h-1zM12 3h1v1h-1zM7 4h1v1h-1zM8 4h1v1h-1zM6 5h1v1h-1zM5 6h1v1h-1zM4 7h1v1h-1zM1 9h1v1h-1z"/><path fill="#e6a811" stroke="#e6a811" d="M17 0h1v1h-1zM18 0h1v1h-1zM19 0h1v1h-1zM13 1h1v1h-1zM14 1h1v1h-1zM15 1h1v1h-1zM16 1h1v1h-1zM10 2h1v1h-1zM11 2h1v1h-1zM12 2h1v1h-1zM7 3h1v1h-1zM8 3h1v1h-1zM9 3h1v1h-1zM6 4h1v1h-1zM5 5h1v1h-1zM4 6h1v1h-1zM3 7h1v1h-1zM2 8h1v1h-1zM0 9h1v1h-1z"/><path fill="#e6ad13" stroke="#e6ad13" d="M14 0h1v1h-1zM15 0h1v1h-1zM16 0h1v1h-1zM10 1h1v1h-1zM11 1h1v1h-1zM12 1h1v1h-1zM7 2h1v1h-1zM8 2h1v1h-1zM9 2h1v1h-1zM1 8h1v1h-1z"/><path fill="#e6b214" stroke="#e6b214" d="M11 0h1v1h-1zM12 0h1v1h-1zM13 0h1v1h-1zM7 1h1v1h-1zM8 1h1v1h-1zM9 1h1v1h-1zM6 3h1v1h-1zM5 4h1v1h-1zM4 5h1v1h-1zM3 6h1v1h-1zM2 7h1v1h-1zM0 8h1v1h-1z"/><path fill="#e6b616" stroke="#e6b616" d="M8 0h1v1h-1zM9 0h1v1h-1zM10 0h1v1h-1zM6 2h1v1h-1zM5 3h1v1h-1zM4 4h1v1h-1zM2 6h1v1h-1zM1 7h1v1h-1z"/><path fill="#e6ba18" stroke="#e6ba18" d="M7 0h1v1h-1zM6 1h1v1h-1zM3 5h1v1h-1zM0 7h1v1h-1z"/><path fill="#e6bf1a" stroke="#e6bf1a" d="M5 0h1v1h-1zM6 0h1v1h-1zM4 1h1v1h-1zM5 1h1v1h-1zM3 2h1v1h-1zM4 2h1v1h-1zM5 2h1v1h-1zM3 3h1v1h-1zM4 3h1v1h-1zM2 4h1v1h-1zM3 4h1v1h-1zM1 5h1v1h-1zM2 5h1v1h-1zM0 6h1v1h-1zM1 6h1v1h-1z"/><path fill="#e6c221" stroke="#e6c221" d="M2 0h1v1h-1zM3 0h1v1h-1zM4 0h1v1h-1zM2 1h1v1h-1zM3 1h1v1h-1zM1 2h1v1h-1zM2 2h1v1h-1zM1 3h1v1h-1zM2 3h1v1h-1zM0 4h1v1h-1zM1 4h1v1h-1zM0 5h1v1h-1z"/><path fill="#e6c529" stroke="#e6c529" d="M1 0h1v1h-1zM1 1h1v1h-1zM0 2h1v1h-1zM0 3h1v1h-1z"/><path fill="#e6c730" stroke="#e6c730" d="M0 0h1v1h-1zM0 1h1v1h-1z"/></g><path d="M146.31 996.4V1340.4M150.08 996.4V1340.4M153.84 996.4V1340.4M157.61 996.4V1340.4M161.38 996.4V1340.4M165.14 996.4V1340.4M168.91 996.4V1340.4M172.68 996.4V1340.4M176.45 996.4V1340.4M180.21 996.4V1340.4M183.98 996.4V1340.4M187.75 996.4V1340.4M191.52 996.4V1340.4M195.28 996.4V1340.4M199.05 996.4V1340.4M202.82 996.4V1340.4M206.59 996.4V1340.4M210.35 996.4V1340.4M214.12 996.4V1340.4M217.89 996.4V1340.4M222.72 996.4V1340.4M227.56 996.4V1340.4M232.39 996.4V1340.4M237.23 996.4V1340.4M242.06 996.4V1340.4M246.90 996.4V1340.4M251.73 996.4V1340.4M256.57 996.4V1340.4M261.40 996.4V1340.4M266.24 996.4V1340.4M271.07 996.4V1340.4M275.91 996.4V1340.4M280.74 996.4V1340.4M285.58 996.4V1340.4M290.41 996.4V1340.4M295.25 996.4V1340.4M300.09 996.4V1340.4M304.92 996.4V1340.4M309.76 996.4V1340.4M314.59 996.4V1340.4M319.43 996.4V1340.4M324.26 996.4V1340.4M329.10 996.4V1340.4M333.93 996.4V1340.4M338.77 996.4V1340.4M343.60 996.4V1340.4M348.44 996.4V1340.4M353.27 996.4V1340.4M358.11 996.4V1340.4M362.94 996.4V1340.4M367.78 996.4V1340.4M372.61 996.4V1340.4M377.45 996.4V1340.4M382.28 996.4V1340.4M387.12 996.4V1340.4M391.95 996.4V1340.4M396.79 996.4V1340.4M401.62 996.4V1340.4M406.46 996.4V1340.4M411.29 996.4V1340.4M416.13 996.4V1340.4M420.96 996.4V1340.4M425.80 996.4V1340.4M430.63 996.4V1340.4M435.47 996.4V1340.4M440.30 996.4V1340.4M445.14 996.4V1340.4M449.98 996.4V1340.4M454.81 996.4V1340.4M459.65 996.4V1340.4M464.48 996.4V1340.4M469.32 996.4V1340.4M474.15 996.4V1340.4M478.99 996.4V1340.4M483.82 996.4V1340.4M488.66 996.4V1340.4M493.49 996.4V1340.4M498.33 996.4V1340.4M503.16 996.4V1340.4M508.00 996.4V1340.4M512.83 996.4V1340.4M517.67 996.4V1340.4M522.50 996.4V1340.4M527.34 996.4V1340.4M532.17 996.4V1340.4M537.01 996.4V1340.4M541.84 996.4V1340.4M546.68 996.4V1340.4M551.51 996.4V1340.4M556.35 996.4V1340.4M561.18 996.4V1340.4M142.4 1335.58H565.3M142.4 1328.83H565.3M142.4 1322.08H565.3M142.4 1315.32H565.3M142.4 1308.57H565.3M142.4 1301.81H565.3M142.4 1295.06H565.3M142.4 1288.30H565.3M142.4 1281.55H565.3M142.4 1274.79H565.3M142.4 1268.04H565.3M142.4 1261.29H565.3M142.4 1254.53H565.3M142.4 1247.78H565.3M142.4 1241.02H565.3M142.4 1234.27H565.3M142.4 1227.51H565.3M142.4 1220.76H565.3M142.4 1214.00H565.3M142.4 1207.25H565.3M142.4 1200.50H565.3M142.4 1193.74H565.3M142.4 1186.99H565.3M142.4 1180.23H565.3M142.4 1173.48H565.3M142.4 1166.72H565.3M142.4 1159.97H565.3M142.4 1153.21H565.3M142.4 1146.46H565.3M142.4 1139.71H565.3M142.4 1132.95H565.3M142.4 1126.20H565.3M142.4 1119.44H565.3M142.4 1112.69H565.3M142.4 1105.93H565.3M142.4 1099.18H565.3M142.4 1092.42H565.3M142.4 1085.67H565.3M142.4 1078.92H565.3M142.4 1072.16H565.3M142.4 1065.41H565.3M142.4 1058.65H565.3M142.4 1051.90H565.3M142.4 1045.14H565.3M142.4 1038.39H565.3M142.4 1031.63H565.3M142.4 1024.88H565.3M142.4 1018.13H565.3M142.4 1011.37H565.3M142.4 1004.62H565.3M142.4 997.86H565.3" stroke="#fff" stroke-opacity=".07" stroke-width=".9" fill="none"/></g>
<g fill="none" stroke="#000" stroke-width="2" stroke-linejoin="round" stroke-linecap="round"><path d="M433.3 1145.7L443.3 1141.0L454.0 1137.0L464.7 1135.0L470.0 1135.7L475.3 1139.7L478.7 1147.7L480.7 1159.7L481.3 1178.3L480.0 1205.0L476.0 1226.7L472.0 1248.0L468.0 1258.7L460.0 1260.0L449.3 1252.0L433.3 1238.7L420.0 1225.3L410.7 1210.7L404.7 1199.7L402.7 1189.0L403.3 1181.0L406.0 1172.3"/><path d="M452.7 1151.0L460.7 1147.7L467.3 1147.0L472.0 1151.0L474.7 1159.7L476.0 1178.3L475.3 1199.7L470.7 1224.0L466.7 1233.3L453.3 1240.0L441.3 1233.3L428.0 1218.7L420.0 1200.0L418.0 1191.7L420.0 1184.3"/><path d="M467.3 1163.7L470.0 1167.7L471.0 1178.3L470.0 1191.7L466.7 1203.7L459.3 1209.0L451.3 1207.0L446.0 1201.7L444.0 1197.0"/></g><g transform="translate(418.7 1157.3) rotate(-40)"><text x="-18.06" y="6.00" font-size="17.30" textLength="35.29" lengthAdjust="spacingAndGlyphs">1 %</text></g><g transform="translate(434.7 1165.3) rotate(-41)"><text x="-23.01" y="6.00" font-size="17.30" textLength="45.22" lengthAdjust="spacingAndGlyphs">10 %</text></g><g transform="translate(448.7 1175.5) rotate(-48)"><text x="-22.28" y="6.00" font-size="17.30" textLength="44.48" lengthAdjust="spacingAndGlyphs">50 %</text></g>
<rect x="142.40" y="996.40" width="422.90" height="344.00" fill="none" stroke="#000" stroke-width="1.35"/>
<path d="M142.40 1340.40v4.9M212.88 1340.40v4.9M283.37 1340.40v4.9M353.85 1340.40v4.9M424.33 1340.40v4.9M494.82 1340.40v4.9M565.30 1340.40v4.9M142.40 1340.40h-4.9M142.40 1297.40h-4.9M142.40 1254.40h-4.9M142.40 1211.40h-4.9M142.40 1168.40h-4.9M142.40 1125.40h-4.9M142.40 1082.40h-4.9M142.40 1039.40h-4.9M142.40 996.40h-4.9" stroke="#000" stroke-width="1.25" fill="none"/>
<text x="134.71" y="1370.70" font-size="27.51" textLength="15.36" lengthAdjust="spacingAndGlyphs">0</text>
<text x="196.90" y="1370.70" font-size="27.51" textLength="32.04" lengthAdjust="spacingAndGlyphs">10</text>
<text x="267.16" y="1370.70" font-size="27.51" textLength="32.27" lengthAdjust="spacingAndGlyphs">20</text>
<text x="338.09" y="1370.70" font-size="27.51" textLength="31.81" lengthAdjust="spacingAndGlyphs">30</text>
<text x="408.28" y="1370.70" font-size="27.51" textLength="32.11" lengthAdjust="spacingAndGlyphs">40</text>
<text x="479.02" y="1370.70" font-size="27.51" textLength="31.84" lengthAdjust="spacingAndGlyphs">50</text>
<text x="548.98" y="1370.70" font-size="27.51" textLength="32.39" lengthAdjust="spacingAndGlyphs">60</text>
<text x="91.67" y="1350.50" font-size="27.51" textLength="40.47" lengthAdjust="spacingAndGlyphs">0.0</text>
<text x="91.68" y="1307.50" font-size="27.51" textLength="40.05" lengthAdjust="spacingAndGlyphs">0.1</text>
<text x="91.69" y="1264.50" font-size="27.51" textLength="39.88" lengthAdjust="spacingAndGlyphs">0.2</text>
<text x="91.68" y="1221.50" font-size="27.51" textLength="40.24" lengthAdjust="spacingAndGlyphs">0.3</text>
<text x="91.67" y="1178.50" font-size="27.51" textLength="40.46" lengthAdjust="spacingAndGlyphs">0.4</text>
<text x="91.69" y="1135.50" font-size="27.51" textLength="39.98" lengthAdjust="spacingAndGlyphs">0.5</text>
<text x="91.67" y="1092.50" font-size="27.51" textLength="40.72" lengthAdjust="spacingAndGlyphs">0.6</text>
<text x="91.68" y="1049.50" font-size="27.51" textLength="40.29" lengthAdjust="spacingAndGlyphs">0.7</text>
<text x="91.67" y="1006.50" font-size="27.51" textLength="40.56" lengthAdjust="spacingAndGlyphs">0.8</text>
<text x="305.35" y="1400.60" font-size="27.51" textLength="16.82" lengthAdjust="spacingAndGlyphs" font-style="italic">p</text>
<text x="325.40" y="1402.60" font-size="30.26" textLength="8.80" lengthAdjust="spacingAndGlyphs">/</text>
<text x="332.28" y="1400.60" font-size="27.51" textLength="8.16" lengthAdjust="spacingAndGlyphs">(</text>
<text x="341.11" y="1400.60" font-size="27.51" textLength="24.67" lengthAdjust="spacingAndGlyphs" font-style="italic">m</text>
<text x="365.77" y="1406.20" font-size="19.26" textLength="12.03" lengthAdjust="spacingAndGlyphs" font-style="italic">e</text>
<text x="378.48" y="1400.60" font-size="27.51" textLength="12.61" lengthAdjust="spacingAndGlyphs" font-style="italic">c</text>
<text x="394.04" y="1400.60" font-size="27.51" textLength="9.29" lengthAdjust="spacingAndGlyphs">)</text>
<text x="224.07" y="986.60" font-size="27.51" textLength="8.11" lengthAdjust="spacingAndGlyphs" font-style="italic">t</text>
<text x="235.40" y="986.60" font-size="27.51" textLength="82.67" lengthAdjust="spacingAndGlyphs">=1.40</text>
<text x="319.65" y="986.60" font-size="27.51" textLength="20.97" lengthAdjust="spacingAndGlyphs">s,</text>
<text x="349.40" y="986.60" font-size="27.51" textLength="17.28" lengthAdjust="spacingAndGlyphs" font-style="italic">B</text>
<text x="376.67" y="986.60" font-size="27.51" textLength="18.27" lengthAdjust="spacingAndGlyphs">=</text>
<text x="406.53" y="986.60" font-size="27.51" textLength="60.52" lengthAdjust="spacingAndGlyphs">1.48</text>
<text x="466.96" y="986.60" font-size="27.51" textLength="17.50" lengthAdjust="spacingAndGlyphs">T</text>
<text x="47.79" y="968.90" font-size="27.20" textLength="39.61" lengthAdjust="spacingAndGlyphs">(c)</text>
<g transform="translate(75.80 1218.30) rotate(-90)"><text x="-1.44" y="0.00" font-size="27.51" textLength="15.79" lengthAdjust="spacingAndGlyphs" font-style="italic">θ</text></g>
<g transform="translate(80.00 1203.60) rotate(-90)"><text x="0.45" y="0.00" font-size="19.26" textLength="10.13" lengthAdjust="spacingAndGlyphs" font-style="italic">p</text></g>
<g transform="translate(75.80 1179.30) rotate(-90)"><text x="-2.27" y="0.00" font-size="27.51" textLength="63.63" lengthAdjust="spacingAndGlyphs">[rad]</text></g>
<rect x="592.30" y="996.40" width="17.90" height="344.00" fill="url(#cbv)"/>
<rect x="592.30" y="996.40" width="17.90" height="344.00" fill="url(#cbh)" stroke="#222" stroke-width="1.1"/>
<text x="620.55" y="1006.50" font-size="27.51" textLength="15.36" lengthAdjust="spacingAndGlyphs">0</text>
<text x="621.09" y="1055.64" font-size="27.51" textLength="36.58" lengthAdjust="spacingAndGlyphs">−1</text>
<text x="621.10" y="1104.79" font-size="27.51" textLength="36.40" lengthAdjust="spacingAndGlyphs">−2</text>
<text x="621.09" y="1153.93" font-size="27.51" textLength="36.75" lengthAdjust="spacingAndGlyphs">−3</text>
<text x="621.08" y="1203.07" font-size="27.51" textLength="36.92" lengthAdjust="spacingAndGlyphs">−4</text>
<text x="621.10" y="1252.21" font-size="27.51" textLength="36.48" lengthAdjust="spacingAndGlyphs">−5</text>
<text x="621.07" y="1301.36" font-size="27.51" textLength="37.24" lengthAdjust="spacingAndGlyphs">−6</text>
<text x="621.08" y="1350.50" font-size="27.51" textLength="36.82" lengthAdjust="spacingAndGlyphs">−7</text>
<path d="M610.20 996.40h4.8M610.20 1045.54h4.8M610.20 1094.69h4.8M610.20 1143.83h4.8M610.20 1192.97h4.8M610.20 1242.11h4.8M610.20 1291.26h4.8M610.20 1340.40h4.8" stroke="#222" stroke-width="1.2" fill="none"/>
<g transform="translate(684.80 1281.30) rotate(-90)"><text x="-1.97" y="0.00" font-size="27.51" textLength="38.95" lengthAdjust="spacingAndGlyphs">log</text></g>
<g transform="translate(689.30 1241.00) rotate(-90)"><text x="-1.41" y="0.00" font-size="19.26" textLength="20.53" lengthAdjust="spacingAndGlyphs">10</text></g>
<g transform="translate(684.80 1216.60) rotate(-90)"><text x="-1.73" y="0.00" font-size="27.51" textLength="9.29" lengthAdjust="spacingAndGlyphs">(</text></g>
<g transform="translate(684.80 1208.00) rotate(-90)"><text x="-1.20" y="0.00" font-size="27.51" textLength="9.92" lengthAdjust="spacingAndGlyphs" font-style="italic">f</text></g>
<g transform="translate(689.60 1198.60) rotate(-90)"><text x="-0.33" y="0.00" font-size="19.26" textLength="17.45" lengthAdjust="spacingAndGlyphs" font-style="italic">re</text></g>
<g transform="translate(686.80 1179.80) rotate(-90)"><text x="0.00" y="0.00" font-size="30.26" textLength="10.40" lengthAdjust="spacingAndGlyphs">/</text></g>
<g transform="translate(684.80 1168.30) rotate(-90)"><text x="-1.98" y="0.00" font-size="27.51" textLength="66.25" lengthAdjust="spacingAndGlyphs">max(</text></g>
<g transform="translate(684.80 1103.00) rotate(-90)"><text x="-1.23" y="0.00" font-size="27.51" textLength="10.17" lengthAdjust="spacingAndGlyphs" font-style="italic">f</text></g>
<g transform="translate(689.60 1093.60) rotate(-90)"><text x="-0.35" y="0.00" font-size="19.26" textLength="18.52" lengthAdjust="spacingAndGlyphs" font-style="italic">re</text></g>
<g transform="translate(684.80 1072.60) rotate(-90)"><text x="-0.17" y="0.00" font-size="27.51" textLength="19.37" lengthAdjust="spacingAndGlyphs">))</text></g>
<g clip-path="url(#clip3)"><g stroke-width=".16" transform="matrix(3.7673 0 0 -6.7544 142.541 1785.884)"><path fill="#eaeaeb" stroke="#eaeaeb" d="M17 44h1v1h-1zM13 50h1v1h-1z"/><path fill="#e5e5e7" stroke="#e5e5e7" d="M16 45h1v1h-1zM14 48h1v1h-1z"/><path fill="#dbdbdf" stroke="#dbdbdf" d="M19 41h1v1h-1zM15 46h1v1h-1z"/><path fill="#d7d7dc" stroke="#d7d7dc" d="M18 42h1v1h-1zM17 43h1v1h-1zM13 49h1v1h-1z"/><path fill="#d2d2d9" stroke="#d2d2d9" d="M16 44h1v1h-1zM14 47h1v1h-1z"/><path fill="#c9c9d5" stroke="#c9c9d5" d="M19 40h1v1h-1zM15 45h1v1h-1zM13 48h1v1h-1zM12 50h1v1h-1z"/><path fill="#c5c5d3" stroke="#c5c5d3" d="M18 41h1v1h-1zM17 42h1v1h-1zM14 46h1v1h-1z"/><path fill="#c1c1d2" stroke="#c1c1d2" d="M16 43h1v1h-1z"/><path fill="#b8b8d1" stroke="#b8b8d1" d="M19 39h1v1h-1zM15 44h1v1h-1zM13 47h1v1h-1zM12 49h1v1h-1z"/><path fill="#b5b5d1" stroke="#b5b5d1" d="M18 40h1v1h-1zM14 45h1v1h-1z"/><path fill="#b1b1d1" stroke="#b1b1d1" d="M17 41h1v1h-1zM16 42h1v1h-1z"/><path fill="#adacd0" stroke="#adacd0" d="M15 43h1v1h-1zM12 48h1v1h-1z"/><path fill="#aaa8cf" stroke="#aaa8cf" d="M13 46h1v1h-1zM11 50h1v1h-1z"/><path fill="#a6a3cf" stroke="#a6a3cf" d="M19 38h1v1h-1zM18 39h1v1h-1zM14 44h1v1h-1z"/><path fill="#a39ece" stroke="#a39ece" d="M17 40h1v1h-1zM16 41h1v1h-1z"/><path fill="#a09ace" stroke="#a09ace" d="M15 42h1v1h-1zM13 45h1v1h-1zM12 47h1v1h-1zM11 49h1v1h-1z"/><path fill="#9a90ce" stroke="#9a90ce" d="M19 37h1v1h-1zM18 38h1v1h-1zM14 43h1v1h-1z"/><path fill="#988ccf" stroke="#988ccf" d="M17 39h1v1h-1zM16 40h1v1h-1zM12 46h1v1h-1zM11 48h1v1h-1z"/><path fill="#9587cf" stroke="#9587cf" d="M15 41h1v1h-1zM13 44h1v1h-1zM10 50h1v1h-1z"/><path fill="#907ed1" stroke="#907ed1" d="M19 36h1v1h-1zM18 37h1v1h-1zM14 42h1v1h-1z"/><path fill="#8e79d2" stroke="#8e79d2" d="M17 38h1v1h-1zM16 39h1v1h-1zM12 45h1v1h-1zM11 47h1v1h-1z"/><path fill="#8c74d3" stroke="#8c74d3" d="M15 40h1v1h-1zM13 43h1v1h-1zM10 49h1v1h-1z"/><path fill="#8a70d5" stroke="#8a70d5" d="M14 41h1v1h-1z"/><path fill="#8b6dd1" stroke="#8b6dd1" d="M19 35h1v1h-1zM18 36h1v1h-1zM17 37h1v1h-1zM12 44h1v1h-1zM11 46h1v1h-1zM10 48h1v1h-1z"/><path fill="#8c6bcd" stroke="#8c6bcd" d="M16 38h1v1h-1zM15 39h1v1h-1zM13 42h1v1h-1z"/><path fill="#8d68c9" stroke="#8d68c9" d="M11 45h1v1h-1zM9 50h1v1h-1z"/><path fill="#8f66c4" stroke="#8f66c4" d="M14 40h1v1h-1zM12 43h1v1h-1zM10 47h1v1h-1z"/><path fill="#9164c0" stroke="#9164c0" d="M19 34h1v1h-1zM18 35h1v1h-1zM17 36h1v1h-1zM16 37h1v1h-1zM13 41h1v1h-1z"/><path fill="#9361bb" stroke="#9361bb" d="M15 38h1v1h-1zM11 44h1v1h-1zM9 49h1v1h-1z"/><path fill="#955fb6" stroke="#955fb6" d="M14 39h1v1h-1zM12 42h1v1h-1zM10 46h1v1h-1z"/><path fill="#975db2" stroke="#975db2" d="M19 33h1v1h-1zM18 34h1v1h-1zM17 35h1v1h-1zM16 36h1v1h-1zM13 40h1v1h-1zM9 48h1v1h-1z"/><path fill="#995aad" stroke="#995aad" d="M15 37h1v1h-1zM11 43h1v1h-1zM10 45h1v1h-1z"/><path fill="#9c58a7" stroke="#9c58a7" d="M14 38h1v1h-1zM12 41h1v1h-1z"/><path fill="#9e56a2" stroke="#9e56a2" d="M18 33h1v1h-1zM17 34h1v1h-1zM16 35h1v1h-1zM13 39h1v1h-1zM9 47h1v1h-1zM8 50h1v1h-1z"/><path fill="#a1549d" stroke="#a1549d" d="M19 32h1v1h-1zM15 36h1v1h-1zM12 40h1v1h-1zM11 42h1v1h-1zM10 44h1v1h-1z"/><path fill="#a45297" stroke="#a45297" d="M14 37h1v1h-1zM9 46h1v1h-1zM8 49h1v1h-1z"/><path fill="#a75092" stroke="#a75092" d="M13 38h1v1h-1z"/><path fill="#ad4e8b" stroke="#ad4e8b" d="M19 31h1v1h-1zM18 32h1v1h-1zM17 33h1v1h-1zM16 34h1v1h-1zM15 35h1v1h-1zM12 39h1v1h-1zM11 41h1v1h-1zM10 43h1v1h-1zM9 45h1v1h-1zM8 48h1v1h-1z"/><path fill="#b24d84" stroke="#b24d84" d="M14 36h1v1h-1z"/><path fill="#b84c7d" stroke="#b84c7d" d="M13 37h1v1h-1zM11 40h1v1h-1zM10 42h1v1h-1z"/><path fill="#bd4b76" stroke="#bd4b76" d="M18 31h1v1h-1zM17 32h1v1h-1zM16 33h1v1h-1zM15 34h1v1h-1zM12 38h1v1h-1zM9 44h1v1h-1zM8 47h1v1h-1z"/><path fill="#c34a6e" stroke="#c34a6e" d="M19 30h1v1h-1zM14 35h1v1h-1zM13 36h1v1h-1zM10 41h1v1h-1zM7 50h1v1h-1z"/><path fill="#c94867" stroke="#c94867" d="M11 39h1v1h-1zM9 43h1v1h-1zM8 46h1v1h-1z"/><path fill="#d0475f" stroke="#d0475f" d="M17 31h1v1h-1zM16 32h1v1h-1zM15 33h1v1h-1zM12 37h1v1h-1zM7 49h1v1h-1z"/><path fill="#d64657" stroke="#d64657" d="M18 30h1v1h-1zM14 34h1v1h-1zM13 35h1v1h-1zM11 38h1v1h-1zM10 40h1v1h-1zM8 45h1v1h-1z"/><path fill="#dc454f" stroke="#dc454f" d="M19 29h1v1h-1zM12 36h1v1h-1zM9 42h1v1h-1z"/><path fill="#e34447" stroke="#e34447" d="M16 31h1v1h-1zM15 32h1v1h-1zM14 33h1v1h-1zM10 39h1v1h-1zM8 44h1v1h-1zM7 48h1v1h-1z"/><path fill="#ea433f" stroke="#ea433f" d="M17 30h1v1h-1zM13 34h1v1h-1zM11 37h1v1h-1zM9 41h1v1h-1z"/><path fill="#f14237" stroke="#f14237" d="M18 29h1v1h-1zM12 35h1v1h-1zM7 47h1v1h-1z"/><path fill="#f8412f" stroke="#f8412f" d="M19 28h1v1h-1zM15 31h1v1h-1zM14 32h1v1h-1zM10 38h1v1h-1zM9 40h1v1h-1zM8 43h1v1h-1z"/><path fill="#ff4026" stroke="#ff4026" d="M17 29h1v1h-1zM16 30h1v1h-1zM13 33h1v1h-1zM12 34h1v1h-1zM11 36h1v1h-1zM7 46h1v1h-1z"/><path fill="#fd4523" stroke="#fd4523" d="M19 27h1v1h-1zM18 28h1v1h-1zM15 30h1v1h-1zM14 31h1v1h-1zM11 35h1v1h-1zM10 37h1v1h-1zM9 39h1v1h-1zM8 42h1v1h-1zM7 45h1v1h-1zM6 50h1v1h-1z"/><path fill="#fb4921" stroke="#fb4921" d="M18 27h1v1h-1zM17 28h1v1h-1zM16 29h1v1h-1zM13 32h1v1h-1zM12 33h1v1h-1zM10 36h1v1h-1zM8 41h1v1h-1zM6 49h1v1h-1z"/><path fill="#fa4e1e" stroke="#fa4e1e" d="M19 26h1v1h-1zM16 28h1v1h-1zM15 29h1v1h-1zM14 30h1v1h-1zM13 31h1v1h-1zM11 34h1v1h-1zM9 38h1v1h-1zM8 40h1v1h-1zM7 44h1v1h-1zM6 48h1v1h-1z"/><path fill="#f8521b" stroke="#f8521b" d="M18 26h1v1h-1zM17 27h1v1h-1zM12 32h1v1h-1zM11 33h1v1h-1zM10 35h1v1h-1zM9 37h1v1h-1zM7 43h1v1h-1z"/><path fill="#f65718" stroke="#f65718" d="M19 25h1v1h-1zM17 26h1v1h-1zM16 27h1v1h-1zM15 28h1v1h-1zM14 29h1v1h-1zM13 30h1v1h-1zM12 31h1v1h-1zM10 34h1v1h-1zM9 36h1v1h-1zM8 39h1v1h-1zM7 42h1v1h-1zM6 47h1v1h-1z"/><path fill="#f45b16" stroke="#f45b16" d="M19 24h1v1h-1zM18 25h1v1h-1zM15 27h1v1h-1zM14 28h1v1h-1zM13 29h1v1h-1zM11 32h1v1h-1zM8 38h1v1h-1zM6 46h1v1h-1z"/><path fill="#f26013" stroke="#f26013" d="M18 24h1v1h-1zM17 25h1v1h-1zM16 26h1v1h-1zM12 30h1v1h-1zM11 31h1v1h-1zM10 33h1v1h-1zM9 35h1v1h-1zM7 41h1v1h-1zM6 45h1v1h-1z"/><path fill="#f16510" stroke="#f16510" d="M19 23h1v1h-1zM16 25h1v1h-1zM15 26h1v1h-1zM14 27h1v1h-1zM13 28h1v1h-1zM12 29h1v1h-1zM10 32h1v1h-1zM9 34h1v1h-1zM8 37h1v1h-1zM7 40h1v1h-1zM6 44h1v1h-1zM5 50h1v1h-1z"/><path fill="#ef690e" stroke="#ef690e" d="M18 23h1v1h-1zM17 24h1v1h-1zM14 26h1v1h-1zM11 30h1v1h-1zM8 36h1v1h-1zM7 39h1v1h-1zM5 49h1v1h-1z"/><path fill="#ed6e0b" stroke="#ed6e0b" d="M19 22h1v1h-1zM17 23h1v1h-1zM16 24h1v1h-1zM15 25h1v1h-1zM13 27h1v1h-1zM12 28h1v1h-1zM10 31h1v1h-1zM9 33h1v1h-1zM8 35h1v1h-1zM6 43h1v1h-1zM5 48h1v1h-1z"/><path fill="#eb7208" stroke="#eb7208" d="M19 21h1v1h-1zM18 22h1v1h-1zM15 24h1v1h-1zM14 25h1v1h-1zM13 26h1v1h-1zM12 27h1v1h-1zM11 29h1v1h-1zM9 32h1v1h-1zM7 38h1v1h-1zM6 42h1v1h-1zM5 47h1v1h-1z"/><path fill="#ea7705" stroke="#ea7705" d="M17 22h1v1h-1zM16 23h1v1h-1zM11 28h1v1h-1zM10 30h1v1h-1zM8 34h1v1h-1zM7 37h1v1h-1zM6 41h1v1h-1z"/><path fill="#e87b03" stroke="#e87b03" d="M19 20h1v1h-1zM18 21h1v1h-1zM16 22h1v1h-1zM15 23h1v1h-1zM14 24h1v1h-1zM13 25h1v1h-1zM12 26h1v1h-1zM10 29h1v1h-1zM9 31h1v1h-1zM8 33h1v1h-1zM7 36h1v1h-1zM6 40h1v1h-1zM5 46h1v1h-1z"/><path fill="#e68000" stroke="#e68000" d="M18 20h1v1h-1zM17 21h1v1h-1zM14 23h1v1h-1zM13 24h1v1h-1zM11 27h1v1h-1zM9 30h1v1h-1zM6 39h1v1h-1zM5 45h1v1h-1z"/><path fill="#e68402" stroke="#e68402" d="M19 19h1v1h-1zM16 21h1v1h-1zM15 22h1v1h-1zM12 25h1v1h-1zM11 26h1v1h-1zM10 28h1v1h-1zM8 32h1v1h-1zM7 35h1v1h-1zM6 38h1v1h-1zM5 44h1v1h-1z"/><path fill="#e68904" stroke="#e68904" d="M18 19h1v1h-1zM17 20h1v1h-1zM15 21h1v1h-1zM14 22h1v1h-1zM13 23h1v1h-1zM12 24h1v1h-1zM10 27h1v1h-1zM9 29h1v1h-1zM8 31h1v1h-1zM7 34h1v1h-1zM6 37h1v1h-1zM5 43h1v1h-1zM4 50h1v1h-1z"/><path fill="#e68e06" stroke="#e68e06" d="M19 18h1v1h-1zM16 20h1v1h-1zM11 25h1v1h-1zM10 26h1v1h-1zM9 28h1v1h-1zM8 30h1v1h-1zM7 33h1v1h-1zM6 36h1v1h-1zM5 41h1v1h-1zM5 42h1v1h-1zM4 49h1v1h-1z"/><path fill="#e69207" stroke="#e69207" d="M18 18h1v1h-1zM17 19h1v1h-1zM15 20h1v1h-1zM14 21h1v1h-1zM13 22h1v1h-1zM12 23h1v1h-1zM11 24h1v1h-1zM9 27h1v1h-1zM8 29h1v1h-1zM7 32h1v1h-1zM6 35h1v1h-1zM5 40h1v1h-1zM4 47h1v1h-1zM4 48h1v1h-1z"/><path fill="#e69609" stroke="#e69609" d="M19 17h1v1h-1zM17 18h1v1h-1zM16 19h1v1h-1zM13 21h1v1h-1zM12 22h1v1h-1zM10 25h1v1h-1zM7 31h1v1h-1zM6 34h1v1h-1zM5 39h1v1h-1zM4 46h1v1h-1z"/><path fill="#e69b0b" stroke="#e69b0b" d="M18 17h1v1h-1zM15 19h1v1h-1zM14 20h1v1h-1zM11 23h1v1h-1zM10 24h1v1h-1zM9 26h1v1h-1zM8 28h1v1h-1zM7 30h1v1h-1zM6 33h1v1h-1zM5 38h1v1h-1zM4 45h1v1h-1z"/><path fill="#e6a00d" stroke="#e6a00d" d="M19 16h1v1h-1zM17 17h1v1h-1zM16 18h1v1h-1zM13 20h1v1h-1zM12 21h1v1h-1zM11 22h1v1h-1zM9 25h1v1h-1zM8 27h1v1h-1zM7 29h1v1h-1zM6 32h1v1h-1zM5 37h1v1h-1zM4 44h1v1h-1z"/><path fill="#e6a40f" stroke="#e6a40f" d="M18 16h1v1h-1zM15 18h1v1h-1zM14 19h1v1h-1zM10 23h1v1h-1zM8 26h1v1h-1zM7 28h1v1h-1zM6 31h1v1h-1zM5 36h1v1h-1zM4 42h1v1h-1zM4 43h1v1h-1z"/><path fill="#e6a811" stroke="#e6a811" d="M19 15h1v1h-1zM17 16h1v1h-1zM16 17h1v1h-1zM14 18h1v1h-1zM13 19h1v1h-1zM12 20h1v1h-1zM11 21h1v1h-1zM10 22h1v1h-1zM9 24h1v1h-1zM8 25h1v1h-1zM7 27h1v1h-1zM6 30h1v1h-1zM5 35h1v1h-1zM4 41h1v1h-1z"/><path fill="#e6ad13" stroke="#e6ad13" d="M18 15h1v1h-1zM15 17h1v1h-1zM12 19h1v1h-1zM11 20h1v1h-1zM9 23h1v1h-1zM7 26h1v1h-1zM6 29h1v1h-1zM5 34h1v1h-1zM4 40h1v1h-1z"/><path fill="#e6b214" stroke="#e6b214" d="M19 14h1v1h-1zM17 15h1v1h-1zM16 16h1v1h-1zM14 17h1v1h-1zM13 18h1v1h-1zM10 21h1v1h-1zM9 22h1v1h-1zM8 24h1v1h-1zM7 25h1v1h-1zM6 28h1v1h-1zM5 32h1v1h-1zM5 33h1v1h-1zM4 39h1v1h-1zM3 50h1v1h-1z"/><path fill="#e6b616" stroke="#e6b616" d="M18 14h1v1h-1zM16 15h1v1h-1zM15 16h1v1h-1zM13 17h1v1h-1zM12 18h1v1h-1zM11 19h1v1h-1zM10 20h1v1h-1zM8 23h1v1h-1zM6 27h1v1h-1zM5 31h1v1h-1zM4 37h1v1h-1zM4 38h1v1h-1zM3 49h1v1h-1z"/><path fill="#e6ba18" stroke="#e6ba18" d="M19 13h1v1h-1zM17 14h1v1h-1zM14 16h1v1h-1zM11 18h1v1h-1zM9 21h1v1h-1zM8 22h1v1h-1zM7 24h1v1h-1zM6 26h1v1h-1zM5 30h1v1h-1zM4 36h1v1h-1zM3 48h1v1h-1z"/><path fill="#e6bf1a" stroke="#e6bf1a" d="M19 11h1v1h-1zM18 12h1v1h-1zM19 12h1v1h-1zM17 13h1v1h-1zM18 13h1v1h-1zM15 14h1v1h-1zM16 14h1v1h-1zM14 15h1v1h-1zM15 15h1v1h-1zM12 16h1v1h-1zM13 16h1v1h-1zM11 17h1v1h-1zM12 17h1v1h-1zM10 18h1v1h-1zM10 19h1v1h-1zM9 20h1v1h-1zM8 21h1v1h-1zM7 23h1v1h-1zM6 25h1v1h-1zM5 29h1v1h-1zM4 35h1v1h-1zM3 47h1v1h-1z"/><path fill="#e6c221" stroke="#e6c221" d="M18 9h1v1h-1zM19 9h1v1h-1zM17 10h1v1h-1zM18 10h1v1h-1zM19 10h1v1h-1zM16 11h1v1h-1zM17 11h1v1h-1zM18 11h1v1h-1zM15 12h1v1h-1zM16 12h1v1h-1zM17 12h1v1h-1zM14 13h1v1h-1zM15 13h1v1h-1zM16 13h1v1h-1zM13 14h1v1h-1zM14 14h1v1h-1zM12 15h1v1h-1zM13 15h1v1h-1zM11 16h1v1h-1zM10 17h1v1h-1zM9 18h1v1h-1zM9 19h1v1h-1zM8 20h1v1h-1zM7 21h1v1h-1zM7 22h1v1h-1zM6 24h1v1h-1zM5 28h1v1h-1zM4 34h1v1h-1zM3 45h1v1h-1zM3 46h1v1h-1z"/><path fill="#e6c529" stroke="#e6c529" d="M19 6h1v1h-1zM18 7h1v1h-1zM19 7h1v1h-1zM17 8h1v1h-1zM18 8h1v1h-1zM19 8h1v1h-1zM16 9h1v1h-1zM17 9h1v1h-1zM15 10h1v1h-1zM16 10h1v1h-1zM14 11h1v1h-1zM15 11h1v1h-1zM13 12h1v1h-1zM14 12h1v1h-1zM12 13h1v1h-1zM13 13h1v1h-1zM11 14h1v1h-1zM12 14h1v1h-1zM10 15h1v1h-1zM11 15h1v1h-1zM10 16h1v1h-1zM9 17h1v1h-1zM8 18h1v1h-1zM8 19h1v1h-1zM7 20h1v1h-1zM6 23h1v1h-1zM5 27h1v1h-1zM4 33h1v1h-1zM3 44h1v1h-1z"/><path fill="#e6c730" stroke="#e6c730" d="M19 3h1v1h-1zM18 4h1v1h-1zM19 4h1v1h-1zM17 5h1v1h-1zM18 5h1v1h-1zM19 5h1v1h-1zM17 6h1v1h-1zM18 6h1v1h-1zM16 7h1v1h-1zM17 7h1v1h-1zM15 8h1v1h-1zM16 8h1v1h-1zM14 9h1v1h-1zM15 9h1v1h-1zM13 10h1v1h-1zM14 10h1v1h-1zM12 11h1v1h-1zM13 11h1v1h-1zM11 12h1v1h-1zM12 12h1v1h-1zM11 13h1v1h-1zM10 14h1v1h-1zM9 15h1v1h-1zM9 16h1v1h-1zM8 17h1v1h-1zM7 19h1v1h-1zM6 22h1v1h-1zM5 26h1v1h-1zM4 32h1v1h-1zM3 43h1v1h-1z"/><path fill="#e6ca37" stroke="#e6ca37" d="M19 0h1v1h-1zM18 1h1v1h-1zM19 1h1v1h-1zM18 2h1v1h-1zM19 2h1v1h-1zM17 3h1v1h-1zM18 3h1v1h-1zM16 4h1v1h-1zM17 4h1v1h-1zM15 5h1v1h-1zM16 5h1v1h-1zM15 6h1v1h-1zM16 6h1v1h-1zM14 7h1v1h-1zM15 7h1v1h-1zM13 8h1v1h-1zM14 8h1v1h-1zM12 9h1v1h-1zM13 9h1v1h-1zM11 10h1v1h-1zM12 10h1v1h-1zM11 11h1v1h-1zM10 12h1v1h-1zM9 13h1v1h-1zM10 13h1v1h-1zM9 14h1v1h-1zM8 16h1v1h-1zM7 18h1v1h-1zM6 21h1v1h-1zM5 25h1v1h-1zM4 31h1v1h-1zM3 41h1v1h-1zM3 42h1v1h-1z"/><path fill="#e6cd3e" stroke="#e6cd3e" d="M17 0h1v1h-1zM18 0h1v1h-1zM17 1h1v1h-1zM16 2h1v1h-1zM17 2h1v1h-1zM15 3h1v1h-1zM16 3h1v1h-1zM15 4h1v1h-1zM14 5h1v1h-1zM13 6h1v1h-1zM14 6h1v1h-1zM12 7h1v1h-1zM13 7h1v1h-1zM12 8h1v1h-1zM11 9h1v1h-1zM10 10h1v1h-1zM10 11h1v1h-1zM9 12h1v1h-1zM8 14h1v1h-1zM8 15h1v1h-1zM7 17h1v1h-1zM6 20h1v1h-1zM5 24h1v1h-1zM4 30h1v1h-1zM3 40h1v1h-1z"/><path fill="#e6d046" stroke="#e6d046" d="M16 0h1v1h-1zM15 1h1v1h-1zM16 1h1v1h-1zM15 2h1v1h-1zM14 3h1v1h-1zM13 4h1v1h-1zM14 4h1v1h-1zM12 5h1v1h-1zM13 5h1v1h-1zM12 6h1v1h-1zM11 7h1v1h-1zM11 8h1v1h-1zM10 9h1v1h-1zM9 10h1v1h-1zM9 11h1v1h-1zM8 13h1v1h-1zM7 16h1v1h-1zM6 19h1v1h-1zM5 23h1v1h-1zM4 29h1v1h-1zM3 39h1v1h-1z"/><path fill="#e6d24d" stroke="#e6d24d" d="M15 0h1v1h-1zM14 1h1v1h-1zM13 2h1v1h-1zM14 2h1v1h-1zM12 3h1v1h-1zM13 3h1v1h-1zM12 4h1v1h-1zM11 5h1v1h-1zM11 6h1v1h-1zM10 7h1v1h-1zM10 8h1v1h-1zM9 9h1v1h-1zM8 11h1v1h-1zM8 12h1v1h-1zM7 15h1v1h-1zM6 18h1v1h-1zM5 22h1v1h-1zM4 27h1v1h-1zM4 28h1v1h-1zM3 38h1v1h-1z"/><path fill="#e6d554" stroke="#e6d554" d="M13 0h1v1h-1zM14 0h1v1h-1zM13 1h1v1h-1zM12 2h1v1h-1zM11 3h1v1h-1zM11 4h1v1h-1zM10 5h1v1h-1zM10 6h1v1h-1zM9 7h1v1h-1zM9 8h1v1h-1zM8 10h1v1h-1zM7 13h1v1h-1zM7 14h1v1h-1zM6 17h1v1h-1zM5 21h1v1h-1zM4 26h1v1h-1zM3 36h1v1h-1zM3 37h1v1h-1z"/><path fill="#e6d85c" stroke="#e6d85c" d="M12 0h1v1h-1zM12 1h1v1h-1zM11 2h1v1h-1zM10 4h1v1h-1zM9 6h1v1h-1zM8 9h1v1h-1zM7 12h1v1h-1zM6 16h1v1h-1zM5 20h1v1h-1zM4 25h1v1h-1zM3 35h1v1h-1z"/><path fill="#e6db63" stroke="#e6db63" d="M11 0h1v1h-1zM11 1h1v1h-1zM10 2h1v1h-1zM10 3h1v1h-1zM9 4h1v1h-1zM9 5h1v1h-1zM8 7h1v1h-1zM8 8h1v1h-1zM7 11h1v1h-1zM6 15h1v1h-1zM5 19h1v1h-1zM4 24h1v1h-1zM3 34h1v1h-1zM2 50h1v1h-1z"/><path fill="#e6de6a" stroke="#e6de6a" d="M10 0h1v1h-1zM10 1h1v1h-1zM9 2h1v1h-1zM9 3h1v1h-1zM8 6h1v1h-1zM7 10h1v1h-1zM6 14h1v1h-1zM5 18h1v1h-1zM4 23h1v1h-1zM3 32h1v1h-1zM3 33h1v1h-1zM2 48h1v1h-1zM2 49h1v1h-1z"/><path fill="#e6e071" stroke="#e6e071" d="M9 1h1v1h-1zM8 5h1v1h-1zM7 9h1v1h-1zM6 13h1v1h-1zM5 17h1v1h-1zM4 22h1v1h-1zM3 31h1v1h-1zM2 47h1v1h-1z"/><path fill="#e6e379" stroke="#e6e379" d="M9 0h1v1h-1zM8 3h1v1h-1zM8 4h1v1h-1zM7 8h1v1h-1zM6 12h1v1h-1zM5 16h1v1h-1zM4 21h1v1h-1zM3 30h1v1h-1zM2 45h1v1h-1zM2 46h1v1h-1z"/><path fill="#e6e680" stroke="#e6e680" d="M8 1h1v1h-1zM8 2h1v1h-1zM7 6h1v1h-1zM7 7h1v1h-1zM6 10h1v1h-1zM6 11h1v1h-1zM5 14h1v1h-1zM5 15h1v1h-1zM4 19h1v1h-1zM4 20h1v1h-1zM3 28h1v1h-1zM3 29h1v1h-1zM2 44h1v1h-1z"/><path fill="#e8e889" stroke="#e8e889" d="M8 0h1v1h-1zM7 3h1v1h-1zM7 4h1v1h-1zM7 5h1v1h-1zM6 7h1v1h-1zM6 8h1v1h-1zM6 9h1v1h-1zM5 11h1v1h-1zM5 12h1v1h-1zM5 13h1v1h-1zM4 16h1v1h-1zM4 17h1v1h-1zM4 18h1v1h-1zM3 25h1v1h-1zM3 26h1v1h-1zM3 27h1v1h-1zM2 42h1v1h-1zM2 43h1v1h-1z"/><path fill="#eaea92" stroke="#eaea92" d="M7 0h1v1h-1zM7 1h1v1h-1zM7 2h1v1h-1zM6 5h1v1h-1zM6 6h1v1h-1zM5 9h1v1h-1zM5 10h1v1h-1zM4 14h1v1h-1zM4 15h1v1h-1zM3 22h1v1h-1zM3 23h1v1h-1zM3 24h1v1h-1zM2 40h1v1h-1zM2 41h1v1h-1z"/><path fill="#ebeb9b" stroke="#ebeb9b" d="M6 2h1v1h-1zM6 3h1v1h-1zM6 4h1v1h-1zM5 6h1v1h-1zM5 7h1v1h-1zM5 8h1v1h-1zM4 11h1v1h-1zM4 12h1v1h-1zM4 13h1v1h-1zM3 20h1v1h-1zM3 21h1v1h-1zM2 38h1v1h-1zM2 39h1v1h-1z"/><path fill="#ededa4" stroke="#ededa4" d="M6 0h1v1h-1zM6 1h1v1h-1zM5 4h1v1h-1zM5 5h1v1h-1zM4 8h1v1h-1zM4 9h1v1h-1zM4 10h1v1h-1zM3 17h1v1h-1zM3 18h1v1h-1zM3 19h1v1h-1zM2 36h1v1h-1zM2 37h1v1h-1z"/><path fill="#efefad" stroke="#efefad" d="M5 1h1v1h-1zM5 2h1v1h-1zM5 3h1v1h-1zM4 6h1v1h-1zM4 7h1v1h-1zM3 14h1v1h-1zM3 15h1v1h-1zM3 16h1v1h-1zM2 34h1v1h-1zM2 35h1v1h-1z"/><path fill="#f1f1b6" stroke="#f1f1b6" d="M5 0h1v1h-1zM4 3h1v1h-1zM4 4h1v1h-1zM4 5h1v1h-1zM3 11h1v1h-1zM3 12h1v1h-1zM3 13h1v1h-1zM2 32h1v1h-1zM2 33h1v1h-1z"/><path fill="#f2f2c0" stroke="#f2f2c0" d="M4 1h1v1h-1zM4 2h1v1h-1zM3 9h1v1h-1zM3 10h1v1h-1zM2 30h1v1h-1zM2 31h1v1h-1z"/><path fill="#f4f4c9" stroke="#f4f4c9" d="M4 0h1v1h-1zM3 6h1v1h-1zM3 7h1v1h-1zM3 8h1v1h-1zM2 28h1v1h-1zM2 29h1v1h-1zM1 50h1v1h-1z"/><path fill="#f6f6d2" stroke="#f6f6d2" d="M3 0h1v1h-1zM3 1h1v1h-1zM3 2h1v1h-1zM3 3h1v1h-1zM3 4h1v1h-1zM3 5h1v1h-1zM2 22h1v1h-1zM2 23h1v1h-1zM2 24h1v1h-1zM2 25h1v1h-1zM2 26h1v1h-1zM2 27h1v1h-1zM1 44h1v1h-1zM1 45h1v1h-1zM1 46h1v1h-1zM1 47h1v1h-1zM1 48h1v1h-1zM1 49h1v1h-1z"/><path fill="#f8f8db" stroke="#f8f8db" d="M2 5h1v1h-1zM2 6h1v1h-1zM2 7h1v1h-1zM2 8h1v1h-1zM2 9h1v1h-1zM2 10h1v1h-1zM2 11h1v1h-1zM2 12h1v1h-1zM2 13h1v1h-1zM2 14h1v1h-1zM2 15h1v1h-1zM2 16h1v1h-1zM2 17h1v1h-1zM2 18h1v1h-1zM2 19h1v1h-1zM2 20h1v1h-1zM2 21h1v1h-1zM1 27h1v1h-1zM1 28h1v1h-1zM1 29h1v1h-1zM1 30h1v1h-1zM1 31h1v1h-1zM1 32h1v1h-1zM1 33h1v1h-1zM1 34h1v1h-1zM1 35h1v1h-1zM1 36h1v1h-1zM1 37h1v1h-1zM1 38h1v1h-1zM1 39h1v1h-1zM1 40h1v1h-1zM1 41h1v1h-1zM1 42h1v1h-1zM1 43h1v1h-1z"/><path fill="#fafae4" stroke="#fafae4" d="M2 0h1v1h-1zM2 1h1v1h-1zM2 2h1v1h-1zM2 3h1v1h-1zM2 4h1v1h-1zM1 11h1v1h-1zM1 12h1v1h-1zM1 13h1v1h-1zM1 14h1v1h-1zM1 15h1v1h-1zM1 16h1v1h-1zM1 17h1v1h-1zM1 18h1v1h-1zM1 19h1v1h-1zM1 20h1v1h-1zM1 21h1v1h-1zM1 22h1v1h-1zM1 23h1v1h-1zM1 24h1v1h-1zM1 25h1v1h-1zM1 26h1v1h-1zM0 36h1v1h-1zM0 37h1v1h-1zM0 38h1v1h-1zM0 39h1v1h-1zM0 40h1v1h-1zM0 41h1v1h-1zM0 42h1v1h-1zM0 43h1v1h-1zM0 44h1v1h-1zM0 45h1v1h-1zM0 46h1v1h-1zM0 47h1v1h-1zM0 48h1v1h-1zM0 49h1v1h-1zM0 50h1v1h-1z"/><path fill="#fbfbed" stroke="#fbfbed" d="M1 0h1v1h-1zM1 1h1v1h-1zM1 2h1v1h-1zM1 3h1v1h-1zM1 4h1v1h-1zM1 5h1v1h-1zM1 6h1v1h-1zM1 7h1v1h-1zM1 8h1v1h-1zM1 9h1v1h-1zM1 10h1v1h-1zM0 17h1v1h-1zM0 18h1v1h-1zM0 19h1v1h-1zM0 20h1v1h-1zM0 21h1v1h-1zM0 22h1v1h-1zM0 23h1v1h-1zM0 24h1v1h-1zM0 25h1v1h-1zM0 26h1v1h-1zM0 27h1v1h-1zM0 28h1v1h-1zM0 29h1v1h-1zM0 30h1v1h-1zM0 31h1v1h-1zM0 32h1v1h-1zM0 33h1v1h-1zM0 34h1v1h-1zM0 35h1v1h-1z"/><path fill="#fdfdf6" stroke="#fdfdf6" d="M0 0h1v1h-1zM0 1h1v1h-1zM0 2h1v1h-1zM0 3h1v1h-1zM0 4h1v1h-1zM0 5h1v1h-1zM0 6h1v1h-1zM0 7h1v1h-1zM0 8h1v1h-1zM0 9h1v1h-1zM0 10h1v1h-1zM0 11h1v1h-1zM0 12h1v1h-1zM0 13h1v1h-1zM0 14h1v1h-1zM0 15h1v1h-1zM0 16h1v1h-1z"/></g><g stroke-width=".16" transform="matrix(4.8352 0 0 -6.7544 217.888 1785.884)"><path fill="#eaeaeb" stroke="#eaeaeb" d="M24 23h1v1h-1zM25 34h1v1h-1zM32 41h1v1h-1z"/><path fill="#e5e5e7" stroke="#e5e5e7" d="M69 9h1v1h-1zM66 10h1v1h-1zM63 11h1v1h-1zM60 12h1v1h-1zM57 13h1v1h-1zM51 15h1v1h-1zM42 21h1v1h-1zM18 25h1v1h-1zM10 30h1v1h-1zM4 35h1v1h-1zM0 40h1v1h-1zM41 42h1v1h-1z"/><path fill="#e0e0e3" stroke="#e0e0e3" d="M54 14h1v1h-1zM46 17h1v1h-1zM43 20h1v1h-1zM15 27h1v1h-1zM14 28h1v1h-1zM11 29h1v1h-1zM6 33h1v1h-1zM5 34h1v1h-1zM3 36h1v1h-1zM2 37h1v1h-1zM35 42h1v1h-1z"/><path fill="#dbdbdf" stroke="#dbdbdf" d="M48 16h1v1h-1zM23 23h1v1h-1zM20 24h1v1h-1zM7 32h1v1h-1z"/><path fill="#d7d7dc" stroke="#d7d7dc" d="M25 23h1v1h-1zM16 26h1v1h-1zM13 29h1v1h-1zM25 33h1v1h-1zM26 35h1v1h-1zM1 38h1v1h-1z"/><path fill="#d2d2d9" stroke="#d2d2d9" d="M71 8h1v1h-1zM65 10h1v1h-1zM62 11h1v1h-1zM59 12h1v1h-1zM56 13h1v1h-1zM53 14h1v1h-1zM50 15h1v1h-1zM25 22h1v1h-1zM22 23h1v1h-1zM8 31h1v1h-1zM25 32h1v1h-1zM40 42h1v1h-1z"/><path fill="#cdcdd7" stroke="#cdcdd7" d="M68 9h1v1h-1zM25 24h1v1h-1zM12 28h1v1h-1zM0 39h1v1h-1zM31 40h1v1h-1zM36 42h1v1h-1zM39 42h1v1h-1z"/><path fill="#c9c9d5" stroke="#c9c9d5" d="M47 16h1v1h-1zM19 24h1v1h-1zM17 25h1v1h-1zM25 25h1v1h-1zM25 26h1v1h-1zM25 27h1v1h-1zM25 28h1v1h-1zM25 29h1v1h-1zM9 30h1v1h-1zM25 30h1v1h-1zM25 31h1v1h-1zM5 33h1v1h-1zM4 34h1v1h-1zM3 35h1v1h-1zM2 36h1v1h-1zM27 36h1v1h-1zM33 41h1v1h-1z"/><path fill="#c5c5d3" stroke="#c5c5d3" d="M52 14h1v1h-1zM49 15h1v1h-1zM45 17h1v1h-1zM24 22h1v1h-1zM21 23h1v1h-1zM6 32h1v1h-1zM26 34h1v1h-1zM37 42h1v1h-1zM38 42h1v1h-1z"/><path fill="#c1c1d2" stroke="#c1c1d2" d="M64 10h1v1h-1zM61 11h1v1h-1zM58 12h1v1h-1zM55 13h1v1h-1zM44 18h1v1h-1zM14 27h1v1h-1zM10 29h1v1h-1zM1 37h1v1h-1zM28 37h1v1h-1z"/><path fill="#bcbcd1" stroke="#bcbcd1" d="M70 8h1v1h-1zM67 9h1v1h-1zM42 20h1v1h-1zM26 21h1v1h-1zM15 26h1v1h-1zM11 28h1v1h-1zM13 28h1v1h-1zM7 31h1v1h-1zM26 33h1v1h-1zM0 38h1v1h-1zM30 39h1v1h-1z"/><path fill="#b8b8d1" stroke="#b8b8d1" d="M51 14h1v1h-1zM43 19h1v1h-1zM23 22h1v1h-1zM26 22h1v1h-1zM18 24h1v1h-1z"/><path fill="#b5b5d1" stroke="#b5b5d1" d="M54 13h1v1h-1zM46 16h1v1h-1zM20 23h1v1h-1zM8 30h1v1h-1zM26 32h1v1h-1zM4 33h1v1h-1zM3 34h1v1h-1zM2 35h1v1h-1zM27 35h1v1h-1zM29 38h1v1h-1zM34 41h1v1h-1zM41 41h1v1h-1z"/><path fill="#b1b1d1" stroke="#b1b1d1" d="M63 10h1v1h-1zM60 11h1v1h-1zM57 12h1v1h-1zM48 15h1v1h-1zM25 21h1v1h-1zM26 23h1v1h-1zM16 25h1v1h-1zM5 32h1v1h-1zM1 36h1v1h-1z"/><path fill="#adacd0" stroke="#adacd0" d="M69 8h1v1h-1zM66 9h1v1h-1zM22 22h1v1h-1zM9 29h1v1h-1zM26 31h1v1h-1z"/><path fill="#aaa8cf" stroke="#aaa8cf" d="M50 14h1v1h-1zM27 20h1v1h-1zM26 24h1v1h-1zM12 27h1v1h-1zM6 31h1v1h-1zM0 37h1v1h-1zM32 40h1v1h-1z"/><path fill="#a6a3cf" stroke="#a6a3cf" d="M53 13h1v1h-1zM24 21h1v1h-1zM26 25h1v1h-1zM14 26h1v1h-1zM26 26h1v1h-1zM13 27h1v1h-1zM26 27h1v1h-1zM10 28h1v1h-1zM26 28h1v1h-1zM26 29h1v1h-1zM7 30h1v1h-1zM26 30h1v1h-1zM27 34h1v1h-1zM28 36h1v1h-1z"/><path fill="#a39ece" stroke="#a39ece" d="M62 10h1v1h-1zM59 11h1v1h-1zM56 12h1v1h-1zM47 15h1v1h-1zM26 20h1v1h-1zM21 22h1v1h-1zM19 23h1v1h-1zM17 24h1v1h-1zM3 33h1v1h-1zM35 41h1v1h-1z"/><path fill="#a09ace" stroke="#a09ace" d="M65 9h1v1h-1zM45 16h1v1h-1zM44 17h1v1h-1zM42 19h1v1h-1zM8 29h1v1h-1zM4 32h1v1h-1zM2 34h1v1h-1zM1 35h1v1h-1z"/><path fill="#9d95ce" stroke="#9d95ce" d="M71 7h1v1h-1zM68 8h1v1h-1zM52 13h1v1h-1zM49 14h1v1h-1zM23 21h1v1h-1zM15 25h1v1h-1zM11 27h1v1h-1zM5 31h1v1h-1zM27 33h1v1h-1zM0 36h1v1h-1zM29 37h1v1h-1zM31 39h1v1h-1z"/><path fill="#9a90ce" stroke="#9a90ce" d="M58 11h1v1h-1zM55 12h1v1h-1zM43 18h1v1h-1zM27 19h1v1h-1zM25 20h1v1h-1zM27 21h1v1h-1zM40 41h1v1h-1z"/><path fill="#988ccf" stroke="#988ccf" d="M61 10h1v1h-1zM18 23h1v1h-1zM13 26h1v1h-1zM9 28h1v1h-1zM6 30h1v1h-1zM27 32h1v1h-1zM30 38h1v1h-1zM33 40h1v1h-1zM41 40h1v1h-1z"/><path fill="#9587cf" stroke="#9587cf" d="M64 9h1v1h-1zM51 13h1v1h-1zM46 15h1v1h-1zM28 18h1v1h-1zM28 19h1v1h-1zM22 21h1v1h-1zM20 22h1v1h-1zM27 22h1v1h-1zM16 24h1v1h-1zM28 35h1v1h-1z"/><path fill="#9282d0" stroke="#9282d0" d="M70 7h1v1h-1zM67 8h1v1h-1zM54 12h1v1h-1zM48 14h1v1h-1zM29 17h1v1h-1zM26 19h1v1h-1zM24 20h1v1h-1zM14 25h1v1h-1zM12 26h1v1h-1zM7 29h1v1h-1zM3 32h1v1h-1zM2 33h1v1h-1zM1 34h1v1h-1zM36 41h1v1h-1z"/><path fill="#907ed1" stroke="#907ed1" d="M60 10h1v1h-1zM57 11h1v1h-1zM27 23h1v1h-1zM10 27h1v1h-1zM4 31h1v1h-1zM27 31h1v1h-1zM0 35h1v1h-1zM39 41h1v1h-1z"/><path fill="#8e79d2" stroke="#8e79d2" d="M63 9h1v1h-1zM50 13h1v1h-1zM27 24h1v1h-1zM27 25h1v1h-1zM27 26h1v1h-1zM27 27h1v1h-1zM8 28h1v1h-1zM27 28h1v1h-1zM27 29h1v1h-1zM5 30h1v1h-1zM27 30h1v1h-1zM28 34h1v1h-1zM29 36h1v1h-1zM41 39h1v1h-1z"/><path fill="#8c74d3" stroke="#8c74d3" d="M53 12h1v1h-1zM27 18h1v1h-1zM21 21h1v1h-1zM19 22h1v1h-1zM17 23h1v1h-1zM41 38h1v1h-1z"/><path fill="#8a70d5" stroke="#8a70d5" d="M69 7h1v1h-1zM66 8h1v1h-1zM56 11h1v1h-1zM47 14h1v1h-1zM45 15h1v1h-1zM44 16h1v1h-1zM42 18h1v1h-1zM25 19h1v1h-1zM23 20h1v1h-1zM15 24h1v1h-1zM13 25h1v1h-1zM6 29h1v1h-1zM41 37h1v1h-1zM32 39h1v1h-1zM37 41h1v1h-1zM38 41h1v1h-1z"/><path fill="#8b6dd1" stroke="#8b6dd1" d="M62 9h1v1h-1zM59 10h1v1h-1zM49 13h1v1h-1zM28 20h1v1h-1zM11 26h1v1h-1zM9 27h1v1h-1zM3 31h1v1h-1zM2 32h1v1h-1zM1 33h1v1h-1zM28 33h1v1h-1zM0 34h1v1h-1zM41 36h1v1h-1zM30 37h1v1h-1zM34 40h1v1h-1z"/><path fill="#8c6bcd" stroke="#8c6bcd" d="M65 8h1v1h-1zM52 12h1v1h-1zM29 16h1v1h-1zM28 17h1v1h-1zM43 17h1v1h-1zM20 21h1v1h-1zM18 22h1v1h-1zM16 23h1v1h-1zM7 28h1v1h-1zM4 30h1v1h-1zM41 35h1v1h-1zM31 38h1v1h-1z"/><path fill="#8d68c9" stroke="#8d68c9" d="M68 7h1v1h-1zM58 10h1v1h-1zM55 11h1v1h-1zM30 16h1v1h-1zM29 18h1v1h-1zM24 19h1v1h-1zM22 20h1v1h-1zM28 21h1v1h-1zM41 22h1v1h-1zM41 23h1v1h-1zM14 24h1v1h-1zM41 24h1v1h-1zM12 25h1v1h-1zM41 25h1v1h-1zM41 26h1v1h-1zM41 27h1v1h-1zM41 28h1v1h-1zM41 29h1v1h-1zM41 30h1v1h-1zM41 31h1v1h-1zM28 32h1v1h-1zM41 32h1v1h-1zM41 33h1v1h-1zM41 34h1v1h-1zM29 35h1v1h-1z"/><path fill="#8f66c4" stroke="#8f66c4" d="M71 6h1v1h-1zM64 8h1v1h-1zM61 9h1v1h-1zM51 12h1v1h-1zM48 13h1v1h-1zM46 14h1v1h-1zM30 15h1v1h-1zM26 18h1v1h-1zM41 18h1v1h-1zM41 19h1v1h-1zM41 20h1v1h-1zM41 21h1v1h-1zM28 22h1v1h-1zM10 26h1v1h-1zM5 29h1v1h-1z"/><path fill="#9164c0" stroke="#9164c0" d="M67 7h1v1h-1zM57 10h1v1h-1zM54 11h1v1h-1zM21 20h1v1h-1zM19 21h1v1h-1zM17 22h1v1h-1zM15 23h1v1h-1zM28 23h1v1h-1zM8 27h1v1h-1zM2 31h1v1h-1zM28 31h1v1h-1zM1 32h1v1h-1zM0 33h1v1h-1zM33 39h1v1h-1zM35 40h1v1h-1z"/><path fill="#9361bb" stroke="#9361bb" d="M60 9h1v1h-1zM50 12h1v1h-1zM23 19h1v1h-1zM13 24h1v1h-1zM28 24h1v1h-1zM28 25h1v1h-1zM28 26h1v1h-1zM28 27h1v1h-1zM28 28h1v1h-1zM28 29h1v1h-1zM28 30h1v1h-1zM29 34h1v1h-1zM30 36h1v1h-1z"/><path fill="#955fb6" stroke="#955fb6" d="M70 6h1v1h-1zM63 8h1v1h-1zM53 11h1v1h-1zM27 17h1v1h-1zM25 18h1v1h-1zM29 19h1v1h-1zM11 25h1v1h-1zM6 28h1v1h-1zM3 30h1v1h-1zM40 40h1v1h-1z"/><path fill="#975db2" stroke="#975db2" d="M66 7h1v1h-1zM59 9h1v1h-1zM56 10h1v1h-1zM47 13h1v1h-1zM42 17h1v1h-1zM22 19h1v1h-1zM20 20h1v1h-1zM18 21h1v1h-1zM16 22h1v1h-1zM14 23h1v1h-1zM9 26h1v1h-1zM4 29h1v1h-1zM31 37h1v1h-1zM32 38h1v1h-1z"/><path fill="#995aad" stroke="#995aad" d="M69 6h1v1h-1zM62 8h1v1h-1zM52 11h1v1h-1zM49 12h1v1h-1zM45 14h1v1h-1zM44 15h1v1h-1zM30 17h1v1h-1zM29 20h1v1h-1zM12 24h1v1h-1zM7 27h1v1h-1zM1 31h1v1h-1zM0 32h1v1h-1zM29 33h1v1h-1zM36 40h1v1h-1z"/><path fill="#9c58a7" stroke="#9c58a7" d="M65 7h1v1h-1zM58 9h1v1h-1zM55 10h1v1h-1zM29 15h1v1h-1zM28 16h1v1h-1zM43 16h1v1h-1zM24 18h1v1h-1zM19 20h1v1h-1zM17 21h1v1h-1zM10 25h1v1h-1zM2 30h1v1h-1z"/><path fill="#9e56a2" stroke="#9e56a2" d="M68 6h1v1h-1zM61 8h1v1h-1zM30 14h1v1h-1zM26 17h1v1h-1zM21 19h1v1h-1zM29 21h1v1h-1zM15 22h1v1h-1zM5 28h1v1h-1zM29 32h1v1h-1zM30 35h1v1h-1zM34 39h1v1h-1z"/><path fill="#a1549d" stroke="#a1549d" d="M64 7h1v1h-1zM54 10h1v1h-1zM51 11h1v1h-1zM46 13h1v1h-1zM31 14h1v1h-1zM41 17h1v1h-1zM23 18h1v1h-1zM29 22h1v1h-1zM13 23h1v1h-1zM8 26h1v1h-1zM3 29h1v1h-1zM0 31h1v1h-1zM29 31h1v1h-1zM39 40h1v1h-1z"/><path fill="#a45297" stroke="#a45297" d="M71 5h1v1h-1zM60 8h1v1h-1zM57 9h1v1h-1zM48 12h1v1h-1zM20 19h1v1h-1zM18 20h1v1h-1zM16 21h1v1h-1zM29 23h1v1h-1zM11 24h1v1h-1zM1 30h1v1h-1zM29 30h1v1h-1zM37 40h1v1h-1z"/><path fill="#a75092" stroke="#a75092" d="M67 6h1v1h-1zM63 7h1v1h-1zM53 10h1v1h-1zM50 11h1v1h-1zM31 15h1v1h-1zM25 17h1v1h-1zM22 18h1v1h-1zM30 18h1v1h-1zM14 22h1v1h-1zM29 24h1v1h-1zM9 25h1v1h-1zM29 25h1v1h-1zM29 26h1v1h-1zM6 27h1v1h-1zM29 27h1v1h-1zM4 28h1v1h-1zM29 28h1v1h-1zM29 29h1v1h-1zM30 34h1v1h-1zM31 36h1v1h-1zM33 38h1v1h-1zM38 40h1v1h-1z"/><path fill="#ad4e8b" stroke="#ad4e8b" d="M56 9h1v1h-1zM31 13h1v1h-1zM27 16h1v1h-1zM12 23h1v1h-1zM7 26h1v1h-1zM2 29h1v1h-1zM32 37h1v1h-1z"/><path fill="#b24d84" stroke="#b24d84" d="M70 5h1v1h-1zM66 6h1v1h-1zM59 8h1v1h-1zM47 12h1v1h-1zM29 14h1v1h-1zM28 15h1v1h-1zM24 17h1v1h-1zM21 18h1v1h-1zM19 19h1v1h-1zM30 19h1v1h-1zM17 20h1v1h-1zM15 21h1v1h-1zM10 24h1v1h-1zM5 27h1v1h-1zM3 28h1v1h-1zM0 30h1v1h-1zM30 33h1v1h-1zM35 39h1v1h-1z"/><path fill="#b84c7d" stroke="#b84c7d" d="M62 7h1v1h-1zM55 9h1v1h-1zM52 10h1v1h-1zM49 11h1v1h-1zM45 13h1v1h-1zM44 14h1v1h-1zM26 16h1v1h-1zM42 16h1v1h-1zM30 20h1v1h-1zM13 22h1v1h-1zM11 23h1v1h-1zM8 25h1v1h-1zM6 26h1v1h-1zM1 29h1v1h-1zM30 32h1v1h-1z"/><path fill="#bd4b76" stroke="#bd4b76" d="M69 5h1v1h-1zM65 6h1v1h-1zM58 8h1v1h-1zM30 13h1v1h-1zM31 16h1v1h-1zM23 17h1v1h-1zM30 21h1v1h-1zM9 24h1v1h-1zM4 27h1v1h-1zM2 28h1v1h-1zM31 35h1v1h-1zM40 39h1v1h-1z"/><path fill="#c34a6e" stroke="#c34a6e" d="M61 7h1v1h-1zM51 10h1v1h-1zM27 15h1v1h-1zM43 15h1v1h-1zM25 16h1v1h-1zM20 18h1v1h-1zM18 19h1v1h-1zM16 20h1v1h-1zM14 21h1v1h-1zM12 22h1v1h-1zM30 22h1v1h-1zM7 25h1v1h-1zM5 26h1v1h-1zM30 31h1v1h-1z"/><path fill="#c94867" stroke="#c94867" d="M68 5h1v1h-1zM64 6h1v1h-1zM57 8h1v1h-1zM54 9h1v1h-1zM41 16h1v1h-1zM22 17h1v1h-1zM10 23h1v1h-1zM30 23h1v1h-1zM8 24h1v1h-1zM30 24h1v1h-1zM30 25h1v1h-1zM30 26h1v1h-1zM3 27h1v1h-1zM30 27h1v1h-1zM30 28h1v1h-1zM0 29h1v1h-1zM30 29h1v1h-1zM30 30h1v1h-1zM34 38h1v1h-1z"/><path fill="#d0475f" stroke="#d0475f" d="M60 7h1v1h-1zM48 11h1v1h-1zM46 12h1v1h-1zM28 14h1v1h-1zM26 15h1v1h-1zM24 16h1v1h-1zM31 17h1v1h-1zM17 19h1v1h-1zM15 20h1v1h-1zM13 21h1v1h-1zM11 22h1v1h-1zM6 25h1v1h-1zM4 26h1v1h-1zM1 28h1v1h-1zM31 34h1v1h-1zM32 36h1v1h-1zM36 39h1v1h-1z"/><path fill="#d64657" stroke="#d64657" d="M71 4h1v1h-1zM67 5h1v1h-1zM53 9h1v1h-1zM50 10h1v1h-1zM21 17h1v1h-1zM19 18h1v1h-1zM9 23h1v1h-1zM7 24h1v1h-1zM2 27h1v1h-1zM31 33h1v1h-1zM33 37h1v1h-1z"/><path fill="#dc454f" stroke="#dc454f" d="M63 6h1v1h-1zM59 7h1v1h-1zM56 8h1v1h-1zM29 13h1v1h-1zM25 15h1v1h-1zM23 16h1v1h-1zM31 18h1v1h-1zM10 22h1v1h-1zM5 25h1v1h-1zM3 26h1v1h-1z"/><path fill="#e34447" stroke="#e34447" d="M70 4h1v1h-1zM31 12h1v1h-1zM27 14h1v1h-1zM18 18h1v1h-1zM16 19h1v1h-1zM31 19h1v1h-1zM14 20h1v1h-1zM12 21h1v1h-1zM8 23h1v1h-1zM6 24h1v1h-1zM0 28h1v1h-1zM31 32h1v1h-1zM40 38h1v1h-1z"/><path fill="#ea433f" stroke="#ea433f" d="M66 5h1v1h-1zM62 6h1v1h-1zM55 8h1v1h-1zM52 9h1v1h-1zM49 10h1v1h-1zM47 11h1v1h-1zM24 15h1v1h-1zM42 15h1v1h-1zM22 16h1v1h-1zM20 17h1v1h-1zM31 20h1v1h-1zM31 21h1v1h-1zM9 22h1v1h-1zM4 25h1v1h-1zM1 27h1v1h-1zM31 31h1v1h-1zM32 35h1v1h-1zM39 39h1v1h-1z"/><path fill="#f14237" stroke="#f14237" d="M69 4h1v1h-1zM58 7h1v1h-1zM45 12h1v1h-1zM28 13h1v1h-1zM44 13h1v1h-1zM26 14h1v1h-1zM13 20h1v1h-1zM11 21h1v1h-1zM31 22h1v1h-1zM7 23h1v1h-1zM31 23h1v1h-1zM5 24h1v1h-1zM31 24h1v1h-1zM31 25h1v1h-1zM2 26h1v1h-1zM31 26h1v1h-1zM31 27h1v1h-1zM31 28h1v1h-1zM31 29h1v1h-1zM31 30h1v1h-1zM40 37h1v1h-1zM35 38h1v1h-1zM37 39h1v1h-1z"/><path fill="#f8412f" stroke="#f8412f" d="M65 5h1v1h-1zM61 6h1v1h-1zM54 8h1v1h-1zM51 9h1v1h-1zM30 12h1v1h-1zM43 14h1v1h-1zM19 17h1v1h-1zM17 18h1v1h-1zM15 19h1v1h-1zM10 21h1v1h-1zM8 22h1v1h-1zM3 25h1v1h-1zM32 34h1v1h-1zM33 36h1v1h-1z"/><path fill="#ff4026" stroke="#ff4026" d="M71 3h1v1h-1zM68 4h1v1h-1zM64 5h1v1h-1zM60 6h1v1h-1zM57 7h1v1h-1zM48 10h1v1h-1zM46 11h1v1h-1zM27 13h1v1h-1zM25 14h1v1h-1zM23 15h1v1h-1zM21 16h1v1h-1zM14 19h1v1h-1zM12 20h1v1h-1zM6 23h1v1h-1zM4 24h1v1h-1zM1 26h1v1h-1zM0 27h1v1h-1zM40 36h1v1h-1zM34 37h1v1h-1zM38 39h1v1h-1z"/><path fill="#fd4523" stroke="#fd4523" d="M69 3h1v1h-1zM70 3h1v1h-1zM66 4h1v1h-1zM67 4h1v1h-1zM62 5h1v1h-1zM63 5h1v1h-1zM59 6h1v1h-1zM56 7h1v1h-1zM53 8h1v1h-1zM50 9h1v1h-1zM29 12h1v1h-1zM22 15h1v1h-1zM41 15h1v1h-1zM20 16h1v1h-1zM18 17h1v1h-1zM16 18h1v1h-1zM13 19h1v1h-1zM11 20h1v1h-1zM9 21h1v1h-1zM7 22h1v1h-1zM5 23h1v1h-1zM3 24h1v1h-1zM2 25h1v1h-1zM32 33h1v1h-1zM40 34h1v1h-1zM40 35h1v1h-1z"/><path fill="#fb4921" stroke="#fb4921" d="M71 2h1v1h-1zM68 3h1v1h-1zM64 4h1v1h-1zM65 4h1v1h-1zM61 5h1v1h-1zM58 6h1v1h-1zM55 7h1v1h-1zM52 8h1v1h-1zM49 9h1v1h-1zM47 10h1v1h-1zM31 11h1v1h-1zM32 11h1v1h-1zM32 12h1v1h-1zM26 13h1v1h-1zM32 13h1v1h-1zM24 14h1v1h-1zM32 14h1v1h-1zM19 16h1v1h-1zM40 16h1v1h-1zM17 17h1v1h-1zM40 17h1v1h-1zM15 18h1v1h-1zM40 18h1v1h-1zM12 19h1v1h-1zM40 19h1v1h-1zM10 20h1v1h-1zM40 20h1v1h-1zM7 21h1v1h-1zM8 21h1v1h-1zM40 21h1v1h-1zM6 22h1v1h-1zM40 22h1v1h-1zM4 23h1v1h-1zM40 23h1v1h-1zM2 24h1v1h-1zM40 24h1v1h-1zM1 25h1v1h-1zM40 25h1v1h-1zM0 26h1v1h-1zM40 26h1v1h-1zM40 27h1v1h-1zM40 28h1v1h-1zM40 29h1v1h-1zM40 30h1v1h-1zM40 31h1v1h-1zM32 32h1v1h-1zM40 32h1v1h-1zM40 33h1v1h-1zM36 38h1v1h-1z"/><path fill="#fa4e1e" stroke="#fa4e1e" d="M69 2h1v1h-1zM70 2h1v1h-1zM66 3h1v1h-1zM67 3h1v1h-1zM62 4h1v1h-1zM63 4h1v1h-1zM60 5h1v1h-1zM57 6h1v1h-1zM54 7h1v1h-1zM51 8h1v1h-1zM45 11h1v1h-1zM28 12h1v1h-1zM44 12h1v1h-1zM23 14h1v1h-1zM21 15h1v1h-1zM32 15h1v1h-1zM40 15h1v1h-1zM18 16h1v1h-1zM32 16h1v1h-1zM16 17h1v1h-1zM13 18h1v1h-1zM14 18h1v1h-1zM11 19h1v1h-1zM8 20h1v1h-1zM9 20h1v1h-1zM6 21h1v1h-1zM5 22h1v1h-1zM3 23h1v1h-1zM0 25h1v1h-1zM33 35h1v1h-1z"/><path fill="#f8521b" stroke="#f8521b" d="M71 1h1v1h-1zM67 2h1v1h-1zM68 2h1v1h-1zM64 3h1v1h-1zM65 3h1v1h-1zM61 4h1v1h-1zM59 5h1v1h-1zM56 6h1v1h-1zM53 7h1v1h-1zM48 9h1v1h-1zM46 10h1v1h-1zM30 11h1v1h-1zM27 12h1v1h-1zM25 13h1v1h-1zM42 14h1v1h-1zM20 15h1v1h-1zM17 16h1v1h-1zM15 17h1v1h-1zM32 17h1v1h-1zM12 18h1v1h-1zM9 19h1v1h-1zM10 19h1v1h-1zM7 20h1v1h-1zM5 21h1v1h-1zM4 22h1v1h-1zM2 23h1v1h-1zM1 24h1v1h-1zM32 31h1v1h-1zM34 36h1v1h-1zM35 37h1v1h-1z"/><path fill="#f65718" stroke="#f65718" d="M69 1h1v1h-1zM70 1h1v1h-1zM66 2h1v1h-1zM62 3h1v1h-1zM63 3h1v1h-1zM60 4h1v1h-1zM58 5h1v1h-1zM55 6h1v1h-1zM52 7h1v1h-1zM50 8h1v1h-1zM29 11h1v1h-1zM24 13h1v1h-1zM43 13h1v1h-1zM22 14h1v1h-1zM19 15h1v1h-1zM16 16h1v1h-1zM13 17h1v1h-1zM14 17h1v1h-1zM11 18h1v1h-1zM32 18h1v1h-1zM8 19h1v1h-1zM32 19h1v1h-1zM6 20h1v1h-1zM3 22h1v1h-1zM1 23h1v1h-1zM0 24h1v1h-1zM32 29h1v1h-1zM32 30h1v1h-1zM33 34h1v1h-1zM39 38h1v1h-1z"/><path fill="#f45b16" stroke="#f45b16" d="M70 0h1v1h-1zM71 0h1v1h-1zM67 1h1v1h-1zM68 1h1v1h-1zM64 2h1v1h-1zM65 2h1v1h-1zM59 4h1v1h-1zM57 5h1v1h-1zM54 6h1v1h-1zM49 8h1v1h-1zM47 9h1v1h-1zM32 10h1v1h-1zM26 12h1v1h-1zM21 14h1v1h-1zM41 14h1v1h-1zM18 15h1v1h-1zM15 16h1v1h-1zM12 17h1v1h-1zM9 18h1v1h-1zM10 18h1v1h-1zM7 19h1v1h-1zM5 20h1v1h-1zM32 20h1v1h-1zM4 21h1v1h-1zM32 21h1v1h-1zM2 22h1v1h-1zM32 22h1v1h-1zM32 23h1v1h-1zM32 24h1v1h-1zM32 25h1v1h-1zM32 26h1v1h-1zM32 27h1v1h-1zM32 28h1v1h-1zM37 38h1v1h-1z"/><path fill="#f26013" stroke="#f26013" d="M69 0h1v1h-1zM66 1h1v1h-1zM62 2h1v1h-1zM63 2h1v1h-1zM61 3h1v1h-1zM56 5h1v1h-1zM51 7h1v1h-1zM31 10h1v1h-1zM45 10h1v1h-1zM28 11h1v1h-1zM25 12h1v1h-1zM23 13h1v1h-1zM20 14h1v1h-1zM40 14h1v1h-1zM17 15h1v1h-1zM13 16h1v1h-1zM14 16h1v1h-1zM11 17h1v1h-1zM8 18h1v1h-1zM6 19h1v1h-1zM4 20h1v1h-1zM3 21h1v1h-1zM1 22h1v1h-1zM0 23h1v1h-1zM33 33h1v1h-1zM34 35h1v1h-1z"/><path fill="#f16510" stroke="#f16510" d="M67 0h1v1h-1zM68 0h1v1h-1zM65 1h1v1h-1zM60 3h1v1h-1zM58 4h1v1h-1zM53 6h1v1h-1zM50 7h1v1h-1zM48 8h1v1h-1zM46 9h1v1h-1zM30 10h1v1h-1zM27 11h1v1h-1zM44 11h1v1h-1zM22 13h1v1h-1zM19 14h1v1h-1zM15 15h1v1h-1zM16 15h1v1h-1zM12 16h1v1h-1zM9 17h1v1h-1zM10 17h1v1h-1zM7 18h1v1h-1zM5 19h1v1h-1zM3 20h1v1h-1zM2 21h1v1h-1zM35 36h1v1h-1zM36 37h1v1h-1zM38 38h1v1h-1z"/><path fill="#ef690e" stroke="#ef690e" d="M66 0h1v1h-1zM63 1h1v1h-1zM64 1h1v1h-1zM61 2h1v1h-1zM59 3h1v1h-1zM57 4h1v1h-1zM55 5h1v1h-1zM52 6h1v1h-1zM29 10h1v1h-1zM26 11h1v1h-1zM24 12h1v1h-1zM21 13h1v1h-1zM42 13h1v1h-1zM17 14h1v1h-1zM18 14h1v1h-1zM13 15h1v1h-1zM14 15h1v1h-1zM10 16h1v1h-1zM11 16h1v1h-1zM8 17h1v1h-1zM6 18h1v1h-1zM4 19h1v1h-1zM1 21h1v1h-1zM0 22h1v1h-1zM33 32h1v1h-1z"/><path fill="#ed6e0b" stroke="#ed6e0b" d="M65 0h1v1h-1zM62 1h1v1h-1zM60 2h1v1h-1zM58 3h1v1h-1zM56 4h1v1h-1zM54 5h1v1h-1zM51 6h1v1h-1zM49 7h1v1h-1zM47 8h1v1h-1zM32 9h1v1h-1zM23 12h1v1h-1zM43 12h1v1h-1zM20 13h1v1h-1zM15 14h1v1h-1zM16 14h1v1h-1zM12 15h1v1h-1zM9 16h1v1h-1zM7 17h1v1h-1zM5 18h1v1h-1zM3 19h1v1h-1zM2 20h1v1h-1zM0 21h1v1h-1z"/><path fill="#eb7208" stroke="#eb7208" d="M63 0h1v1h-1zM64 0h1v1h-1zM61 1h1v1h-1zM53 5h1v1h-1zM31 9h1v1h-1zM45 9h1v1h-1zM28 10h1v1h-1zM25 11h1v1h-1zM22 12h1v1h-1zM18 13h1v1h-1zM19 13h1v1h-1zM14 14h1v1h-1zM10 15h1v1h-1zM11 15h1v1h-1zM8 16h1v1h-1zM6 17h1v1h-1zM4 18h1v1h-1zM2 19h1v1h-1zM1 20h1v1h-1zM33 31h1v1h-1zM34 34h1v1h-1z"/><path fill="#ea7705" stroke="#ea7705" d="M62 0h1v1h-1zM59 2h1v1h-1zM57 3h1v1h-1zM55 4h1v1h-1zM50 6h1v1h-1zM48 7h1v1h-1zM46 8h1v1h-1zM27 10h1v1h-1zM24 11h1v1h-1zM21 12h1v1h-1zM16 13h1v1h-1zM17 13h1v1h-1zM41 13h1v1h-1zM12 14h1v1h-1zM13 14h1v1h-1zM9 15h1v1h-1zM7 16h1v1h-1zM5 17h1v1h-1zM3 18h1v1h-1zM1 19h1v1h-1zM0 20h1v1h-1zM35 35h1v1h-1zM36 36h1v1h-1zM37 37h1v1h-1z"/><path fill="#e87b03" stroke="#e87b03" d="M60 1h1v1h-1zM58 2h1v1h-1zM56 3h1v1h-1zM54 4h1v1h-1zM52 5h1v1h-1zM30 9h1v1h-1zM26 10h1v1h-1zM44 10h1v1h-1zM23 11h1v1h-1zM19 12h1v1h-1zM20 12h1v1h-1zM14 13h1v1h-1zM15 13h1v1h-1zM40 13h1v1h-1zM10 14h1v1h-1zM11 14h1v1h-1zM8 15h1v1h-1zM6 16h1v1h-1zM4 17h1v1h-1zM2 18h1v1h-1zM33 30h1v1h-1zM39 37h1v1h-1z"/><path fill="#e68000" stroke="#e68000" d="M58 0h1v1h-1zM59 0h1v1h-1zM60 0h1v1h-1zM61 0h1v1h-1zM56 1h1v1h-1zM57 1h1v1h-1zM58 1h1v1h-1zM59 1h1v1h-1zM54 2h1v1h-1zM55 2h1v1h-1zM56 2h1v1h-1zM57 2h1v1h-1zM50 3h1v1h-1zM51 3h1v1h-1zM52 3h1v1h-1zM53 3h1v1h-1zM54 3h1v1h-1zM55 3h1v1h-1zM48 4h1v1h-1zM49 4h1v1h-1zM50 4h1v1h-1zM51 4h1v1h-1zM52 4h1v1h-1zM53 4h1v1h-1zM46 5h1v1h-1zM47 5h1v1h-1zM48 5h1v1h-1zM49 5h1v1h-1zM50 5h1v1h-1zM51 5h1v1h-1zM33 6h1v1h-1zM44 6h1v1h-1zM45 6h1v1h-1zM46 6h1v1h-1zM47 6h1v1h-1zM48 6h1v1h-1zM49 6h1v1h-1zM33 7h1v1h-1zM44 7h1v1h-1zM45 7h1v1h-1zM46 7h1v1h-1zM47 7h1v1h-1zM32 8h1v1h-1zM33 8h1v1h-1zM42 8h1v1h-1zM43 8h1v1h-1zM44 8h1v1h-1zM45 8h1v1h-1zM28 9h1v1h-1zM29 9h1v1h-1zM33 9h1v1h-1zM40 9h1v1h-1zM41 9h1v1h-1zM42 9h1v1h-1zM43 9h1v1h-1zM44 9h1v1h-1zM25 10h1v1h-1zM33 10h1v1h-1zM40 10h1v1h-1zM41 10h1v1h-1zM42 10h1v1h-1zM43 10h1v1h-1zM22 11h1v1h-1zM33 11h1v1h-1zM40 11h1v1h-1zM41 11h1v1h-1zM42 11h1v1h-1zM43 11h1v1h-1zM17 12h1v1h-1zM18 12h1v1h-1zM33 12h1v1h-1zM40 12h1v1h-1zM41 12h1v1h-1zM42 12h1v1h-1zM12 13h1v1h-1zM13 13h1v1h-1zM33 13h1v1h-1zM9 14h1v1h-1zM33 14h1v1h-1zM7 15h1v1h-1zM33 15h1v1h-1zM5 16h1v1h-1zM33 16h1v1h-1zM3 17h1v1h-1zM33 17h1v1h-1zM1 18h1v1h-1zM33 18h1v1h-1zM0 19h1v1h-1zM33 19h1v1h-1zM33 20h1v1h-1zM33 21h1v1h-1zM33 22h1v1h-1zM33 23h1v1h-1zM33 24h1v1h-1zM33 25h1v1h-1zM33 26h1v1h-1zM33 27h1v1h-1zM33 28h1v1h-1zM33 29h1v1h-1zM34 33h1v1h-1zM38 37h1v1h-1z"/><path fill="#e68402" stroke="#e68402" d="M39 0h1v1h-1zM40 0h1v1h-1zM41 0h1v1h-1zM42 0h1v1h-1zM43 0h1v1h-1zM44 0h1v1h-1zM45 0h1v1h-1zM46 0h1v1h-1zM47 0h1v1h-1zM48 0h1v1h-1zM49 0h1v1h-1zM50 0h1v1h-1zM51 0h1v1h-1zM52 0h1v1h-1zM53 0h1v1h-1zM54 0h1v1h-1zM55 0h1v1h-1zM56 0h1v1h-1zM57 0h1v1h-1zM39 1h1v1h-1zM40 1h1v1h-1zM41 1h1v1h-1zM42 1h1v1h-1zM43 1h1v1h-1zM44 1h1v1h-1zM45 1h1v1h-1zM46 1h1v1h-1zM47 1h1v1h-1zM48 1h1v1h-1zM49 1h1v1h-1zM50 1h1v1h-1zM51 1h1v1h-1zM52 1h1v1h-1zM53 1h1v1h-1zM54 1h1v1h-1zM55 1h1v1h-1zM33 2h1v1h-1zM39 2h1v1h-1zM40 2h1v1h-1zM41 2h1v1h-1zM42 2h1v1h-1zM43 2h1v1h-1zM44 2h1v1h-1zM45 2h1v1h-1zM46 2h1v1h-1zM47 2h1v1h-1zM48 2h1v1h-1zM49 2h1v1h-1zM50 2h1v1h-1zM51 2h1v1h-1zM52 2h1v1h-1zM53 2h1v1h-1zM33 3h1v1h-1zM39 3h1v1h-1zM40 3h1v1h-1zM41 3h1v1h-1zM42 3h1v1h-1zM43 3h1v1h-1zM44 3h1v1h-1zM45 3h1v1h-1zM46 3h1v1h-1zM47 3h1v1h-1zM48 3h1v1h-1zM49 3h1v1h-1zM33 4h1v1h-1zM39 4h1v1h-1zM40 4h1v1h-1zM41 4h1v1h-1zM42 4h1v1h-1zM43 4h1v1h-1zM44 4h1v1h-1zM45 4h1v1h-1zM46 4h1v1h-1zM47 4h1v1h-1zM33 5h1v1h-1zM39 5h1v1h-1zM40 5h1v1h-1zM41 5h1v1h-1zM42 5h1v1h-1zM43 5h1v1h-1zM44 5h1v1h-1zM45 5h1v1h-1zM39 6h1v1h-1zM40 6h1v1h-1zM41 6h1v1h-1zM42 6h1v1h-1zM43 6h1v1h-1zM39 7h1v1h-1zM40 7h1v1h-1zM41 7h1v1h-1zM42 7h1v1h-1zM43 7h1v1h-1zM31 8h1v1h-1zM39 8h1v1h-1zM40 8h1v1h-1zM41 8h1v1h-1zM27 9h1v1h-1zM39 9h1v1h-1zM24 10h1v1h-1zM39 10h1v1h-1zM20 11h1v1h-1zM21 11h1v1h-1zM39 11h1v1h-1zM14 12h1v1h-1zM15 12h1v1h-1zM16 12h1v1h-1zM39 12h1v1h-1zM11 13h1v1h-1zM39 13h1v1h-1zM8 14h1v1h-1zM39 14h1v1h-1zM6 15h1v1h-1zM39 15h1v1h-1zM4 16h1v1h-1zM39 16h1v1h-1zM2 17h1v1h-1zM39 17h1v1h-1zM39 18h1v1h-1zM39 19h1v1h-1zM39 20h1v1h-1zM39 21h1v1h-1zM39 22h1v1h-1zM39 23h1v1h-1zM39 24h1v1h-1zM39 25h1v1h-1zM39 26h1v1h-1zM39 27h1v1h-1zM39 28h1v1h-1zM39 29h1v1h-1zM34 30h1v1h-1zM39 30h1v1h-1zM34 31h1v1h-1zM39 31h1v1h-1zM34 32h1v1h-1zM39 32h1v1h-1zM35 33h1v1h-1zM39 33h1v1h-1zM35 34h1v1h-1zM39 34h1v1h-1zM36 35h1v1h-1zM39 35h1v1h-1zM37 36h1v1h-1zM39 36h1v1h-1z"/><path fill="#e68904" stroke="#e68904" d="M33 0h1v1h-1zM34 0h1v1h-1zM38 0h1v1h-1zM33 1h1v1h-1zM34 1h1v1h-1zM38 1h1v1h-1zM34 2h1v1h-1zM38 2h1v1h-1zM34 3h1v1h-1zM38 3h1v1h-1zM34 4h1v1h-1zM38 4h1v1h-1zM34 5h1v1h-1zM38 5h1v1h-1zM34 6h1v1h-1zM38 6h1v1h-1zM34 7h1v1h-1zM38 7h1v1h-1zM29 8h1v1h-1zM30 8h1v1h-1zM34 8h1v1h-1zM38 8h1v1h-1zM25 9h1v1h-1zM26 9h1v1h-1zM34 9h1v1h-1zM38 9h1v1h-1zM22 10h1v1h-1zM23 10h1v1h-1zM34 10h1v1h-1zM38 10h1v1h-1zM17 11h1v1h-1zM18 11h1v1h-1zM19 11h1v1h-1zM34 11h1v1h-1zM38 11h1v1h-1zM12 12h1v1h-1zM13 12h1v1h-1zM34 12h1v1h-1zM38 12h1v1h-1zM9 13h1v1h-1zM10 13h1v1h-1zM34 13h1v1h-1zM38 13h1v1h-1zM7 14h1v1h-1zM34 14h1v1h-1zM38 14h1v1h-1zM5 15h1v1h-1zM34 15h1v1h-1zM38 15h1v1h-1zM3 16h1v1h-1zM34 16h1v1h-1zM38 16h1v1h-1zM1 17h1v1h-1zM34 17h1v1h-1zM38 17h1v1h-1zM0 18h1v1h-1zM34 18h1v1h-1zM38 18h1v1h-1zM34 19h1v1h-1zM38 19h1v1h-1zM34 20h1v1h-1zM38 20h1v1h-1zM34 21h1v1h-1zM38 21h1v1h-1zM34 22h1v1h-1zM38 22h1v1h-1zM34 23h1v1h-1zM38 23h1v1h-1zM34 24h1v1h-1zM38 24h1v1h-1zM34 25h1v1h-1zM38 25h1v1h-1zM34 26h1v1h-1zM38 26h1v1h-1zM34 27h1v1h-1zM38 27h1v1h-1zM34 28h1v1h-1zM38 28h1v1h-1zM34 29h1v1h-1zM38 29h1v1h-1zM38 30h1v1h-1zM38 31h1v1h-1zM35 32h1v1h-1zM38 32h1v1h-1zM38 33h1v1h-1zM36 34h1v1h-1zM38 34h1v1h-1zM37 35h1v1h-1zM38 35h1v1h-1zM38 36h1v1h-1z"/><path fill="#e68e06" stroke="#e68e06" d="M35 0h1v1h-1zM35 1h1v1h-1zM35 2h1v1h-1zM35 3h1v1h-1zM35 4h1v1h-1zM35 5h1v1h-1zM35 6h1v1h-1zM31 7h1v1h-1zM32 7h1v1h-1zM35 7h1v1h-1zM27 8h1v1h-1zM28 8h1v1h-1zM35 8h1v1h-1zM24 9h1v1h-1zM35 9h1v1h-1zM20 10h1v1h-1zM21 10h1v1h-1zM35 10h1v1h-1zM15 11h1v1h-1zM16 11h1v1h-1zM35 11h1v1h-1zM11 12h1v1h-1zM35 12h1v1h-1zM8 13h1v1h-1zM35 13h1v1h-1zM6 14h1v1h-1zM35 14h1v1h-1zM4 15h1v1h-1zM35 15h1v1h-1zM2 16h1v1h-1zM35 16h1v1h-1zM35 17h1v1h-1zM35 18h1v1h-1zM35 19h1v1h-1zM35 20h1v1h-1zM35 21h1v1h-1zM35 22h1v1h-1zM35 23h1v1h-1zM35 24h1v1h-1zM35 25h1v1h-1zM35 26h1v1h-1zM35 27h1v1h-1zM35 28h1v1h-1zM35 29h1v1h-1zM35 30h1v1h-1zM35 31h1v1h-1zM36 33h1v1h-1zM37 34h1v1h-1z"/><path fill="#e69207" stroke="#e69207" d="M36 0h1v1h-1zM37 0h1v1h-1zM36 1h1v1h-1zM37 1h1v1h-1zM36 2h1v1h-1zM37 2h1v1h-1zM36 3h1v1h-1zM37 3h1v1h-1zM36 4h1v1h-1zM37 4h1v1h-1zM36 5h1v1h-1zM37 5h1v1h-1zM36 6h1v1h-1zM37 6h1v1h-1zM30 7h1v1h-1zM36 7h1v1h-1zM37 7h1v1h-1zM26 8h1v1h-1zM36 8h1v1h-1zM37 8h1v1h-1zM22 9h1v1h-1zM23 9h1v1h-1zM36 9h1v1h-1zM37 9h1v1h-1zM18 10h1v1h-1zM19 10h1v1h-1zM36 10h1v1h-1zM37 10h1v1h-1zM13 11h1v1h-1zM14 11h1v1h-1zM36 11h1v1h-1zM37 11h1v1h-1zM10 12h1v1h-1zM36 12h1v1h-1zM37 12h1v1h-1zM7 13h1v1h-1zM36 13h1v1h-1zM37 13h1v1h-1zM5 14h1v1h-1zM36 14h1v1h-1zM37 14h1v1h-1zM3 15h1v1h-1zM36 15h1v1h-1zM37 15h1v1h-1zM1 16h1v1h-1zM36 16h1v1h-1zM37 16h1v1h-1zM0 17h1v1h-1zM36 17h1v1h-1zM37 17h1v1h-1zM36 18h1v1h-1zM37 18h1v1h-1zM36 19h1v1h-1zM37 19h1v1h-1zM36 20h1v1h-1zM37 20h1v1h-1zM36 21h1v1h-1zM37 21h1v1h-1zM36 22h1v1h-1zM37 22h1v1h-1zM36 23h1v1h-1zM37 23h1v1h-1zM36 24h1v1h-1zM37 24h1v1h-1zM36 25h1v1h-1zM37 25h1v1h-1zM36 26h1v1h-1zM37 26h1v1h-1zM36 27h1v1h-1zM37 27h1v1h-1zM36 28h1v1h-1zM37 28h1v1h-1zM36 29h1v1h-1zM37 29h1v1h-1zM36 30h1v1h-1zM37 30h1v1h-1zM36 31h1v1h-1zM37 31h1v1h-1zM36 32h1v1h-1zM37 32h1v1h-1zM37 33h1v1h-1z"/><path fill="#e69609" stroke="#e69609" d="M32 6h1v1h-1zM28 7h1v1h-1zM29 7h1v1h-1zM24 8h1v1h-1zM25 8h1v1h-1zM20 9h1v1h-1zM21 9h1v1h-1zM15 10h1v1h-1zM16 10h1v1h-1zM17 10h1v1h-1zM11 11h1v1h-1zM12 11h1v1h-1zM9 12h1v1h-1zM6 13h1v1h-1zM4 14h1v1h-1zM2 15h1v1h-1z"/><path fill="#e69b0b" stroke="#e69b0b" d="M31 6h1v1h-1zM26 7h1v1h-1zM27 7h1v1h-1zM22 8h1v1h-1zM23 8h1v1h-1zM18 9h1v1h-1zM19 9h1v1h-1zM13 10h1v1h-1zM14 10h1v1h-1zM10 11h1v1h-1zM7 12h1v1h-1zM8 12h1v1h-1zM5 13h1v1h-1zM3 14h1v1h-1zM1 15h1v1h-1zM0 16h1v1h-1z"/><path fill="#e6a00d" stroke="#e6a00d" d="M28 6h1v1h-1zM29 6h1v1h-1zM30 6h1v1h-1zM24 7h1v1h-1zM25 7h1v1h-1zM20 8h1v1h-1zM21 8h1v1h-1zM16 9h1v1h-1zM17 9h1v1h-1zM12 10h1v1h-1zM9 11h1v1h-1zM6 12h1v1h-1zM4 13h1v1h-1zM2 14h1v1h-1z"/><path fill="#e6a40f" stroke="#e6a40f" d="M31 5h1v1h-1zM32 5h1v1h-1zM26 6h1v1h-1zM27 6h1v1h-1zM22 7h1v1h-1zM23 7h1v1h-1zM18 8h1v1h-1zM19 8h1v1h-1zM14 9h1v1h-1zM15 9h1v1h-1zM11 10h1v1h-1zM8 11h1v1h-1zM5 12h1v1h-1zM3 13h1v1h-1zM1 14h1v1h-1zM0 15h1v1h-1z"/><path fill="#e6a811" stroke="#e6a811" d="M29 5h1v1h-1zM30 5h1v1h-1zM24 6h1v1h-1zM25 6h1v1h-1zM20 7h1v1h-1zM21 7h1v1h-1zM16 8h1v1h-1zM17 8h1v1h-1zM12 9h1v1h-1zM13 9h1v1h-1zM9 10h1v1h-1zM10 10h1v1h-1zM7 11h1v1h-1zM4 12h1v1h-1zM2 13h1v1h-1z"/><path fill="#e6ad13" stroke="#e6ad13" d="M32 4h1v1h-1zM27 5h1v1h-1zM28 5h1v1h-1zM23 6h1v1h-1zM18 7h1v1h-1zM19 7h1v1h-1zM14 8h1v1h-1zM15 8h1v1h-1zM11 9h1v1h-1zM8 10h1v1h-1zM6 11h1v1h-1zM3 12h1v1h-1zM1 13h1v1h-1zM0 14h1v1h-1z"/><path fill="#e6b214" stroke="#e6b214" d="M30 4h1v1h-1zM31 4h1v1h-1zM25 5h1v1h-1zM26 5h1v1h-1zM21 6h1v1h-1zM22 6h1v1h-1zM16 7h1v1h-1zM17 7h1v1h-1zM13 8h1v1h-1zM10 9h1v1h-1zM7 10h1v1h-1zM4 11h1v1h-1zM5 11h1v1h-1zM2 12h1v1h-1zM0 13h1v1h-1z"/><path fill="#e6b616" stroke="#e6b616" d="M32 3h1v1h-1zM27 4h1v1h-1zM28 4h1v1h-1zM29 4h1v1h-1zM23 5h1v1h-1zM24 5h1v1h-1zM19 6h1v1h-1zM20 6h1v1h-1zM15 7h1v1h-1zM12 8h1v1h-1zM9 9h1v1h-1zM6 10h1v1h-1zM3 11h1v1h-1zM1 12h1v1h-1z"/><path fill="#e6ba18" stroke="#e6ba18" d="M31 3h1v1h-1zM25 4h1v1h-1zM26 4h1v1h-1zM21 5h1v1h-1zM22 5h1v1h-1zM17 6h1v1h-1zM18 6h1v1h-1zM13 7h1v1h-1zM14 7h1v1h-1zM10 8h1v1h-1zM11 8h1v1h-1zM7 9h1v1h-1zM8 9h1v1h-1zM5 10h1v1h-1zM2 11h1v1h-1zM0 12h1v1h-1z"/><path fill="#e6bf1a" stroke="#e6bf1a" d="M23 0h1v1h-1zM24 0h1v1h-1zM25 0h1v1h-1zM26 0h1v1h-1zM27 0h1v1h-1zM28 0h1v1h-1zM29 0h1v1h-1zM30 0h1v1h-1zM31 0h1v1h-1zM32 0h1v1h-1zM19 1h1v1h-1zM20 1h1v1h-1zM21 1h1v1h-1zM22 1h1v1h-1zM23 1h1v1h-1zM24 1h1v1h-1zM25 1h1v1h-1zM26 1h1v1h-1zM27 1h1v1h-1zM28 1h1v1h-1zM29 1h1v1h-1zM30 1h1v1h-1zM31 1h1v1h-1zM32 1h1v1h-1zM15 2h1v1h-1zM16 2h1v1h-1zM17 2h1v1h-1zM18 2h1v1h-1zM19 2h1v1h-1zM20 2h1v1h-1zM21 2h1v1h-1zM22 2h1v1h-1zM23 2h1v1h-1zM24 2h1v1h-1zM25 2h1v1h-1zM26 2h1v1h-1zM27 2h1v1h-1zM28 2h1v1h-1zM29 2h1v1h-1zM30 2h1v1h-1zM31 2h1v1h-1zM32 2h1v1h-1zM12 3h1v1h-1zM13 3h1v1h-1zM14 3h1v1h-1zM15 3h1v1h-1zM16 3h1v1h-1zM17 3h1v1h-1zM18 3h1v1h-1zM19 3h1v1h-1zM20 3h1v1h-1zM21 3h1v1h-1zM22 3h1v1h-1zM23 3h1v1h-1zM24 3h1v1h-1zM25 3h1v1h-1zM26 3h1v1h-1zM27 3h1v1h-1zM28 3h1v1h-1zM29 3h1v1h-1zM30 3h1v1h-1zM10 4h1v1h-1zM11 4h1v1h-1zM12 4h1v1h-1zM13 4h1v1h-1zM14 4h1v1h-1zM15 4h1v1h-1zM16 4h1v1h-1zM17 4h1v1h-1zM18 4h1v1h-1zM19 4h1v1h-1zM20 4h1v1h-1zM21 4h1v1h-1zM22 4h1v1h-1zM23 4h1v1h-1zM24 4h1v1h-1zM8 5h1v1h-1zM9 5h1v1h-1zM10 5h1v1h-1zM11 5h1v1h-1zM12 5h1v1h-1zM13 5h1v1h-1zM14 5h1v1h-1zM15 5h1v1h-1zM16 5h1v1h-1zM17 5h1v1h-1zM18 5h1v1h-1zM19 5h1v1h-1zM20 5h1v1h-1zM7 6h1v1h-1zM8 6h1v1h-1zM9 6h1v1h-1zM10 6h1v1h-1zM11 6h1v1h-1zM12 6h1v1h-1zM13 6h1v1h-1zM14 6h1v1h-1zM15 6h1v1h-1zM16 6h1v1h-1zM5 7h1v1h-1zM6 7h1v1h-1zM7 7h1v1h-1zM8 7h1v1h-1zM9 7h1v1h-1zM10 7h1v1h-1zM11 7h1v1h-1zM12 7h1v1h-1zM4 8h1v1h-1zM5 8h1v1h-1zM6 8h1v1h-1zM7 8h1v1h-1zM8 8h1v1h-1zM9 8h1v1h-1zM2 9h1v1h-1zM3 9h1v1h-1zM4 9h1v1h-1zM5 9h1v1h-1zM6 9h1v1h-1zM1 10h1v1h-1zM2 10h1v1h-1zM3 10h1v1h-1zM4 10h1v1h-1zM0 11h1v1h-1zM1 11h1v1h-1z"/><path fill="#e6c221" stroke="#e6c221" d="M7 0h1v1h-1zM8 0h1v1h-1zM9 0h1v1h-1zM10 0h1v1h-1zM11 0h1v1h-1zM12 0h1v1h-1zM13 0h1v1h-1zM14 0h1v1h-1zM15 0h1v1h-1zM16 0h1v1h-1zM17 0h1v1h-1zM18 0h1v1h-1zM19 0h1v1h-1zM20 0h1v1h-1zM21 0h1v1h-1zM22 0h1v1h-1zM6 1h1v1h-1zM7 1h1v1h-1zM8 1h1v1h-1zM9 1h1v1h-1zM10 1h1v1h-1zM11 1h1v1h-1zM12 1h1v1h-1zM13 1h1v1h-1zM14 1h1v1h-1zM15 1h1v1h-1zM16 1h1v1h-1zM17 1h1v1h-1zM18 1h1v1h-1zM5 2h1v1h-1zM6 2h1v1h-1zM7 2h1v1h-1zM8 2h1v1h-1zM9 2h1v1h-1zM10 2h1v1h-1zM11 2h1v1h-1zM12 2h1v1h-1zM13 2h1v1h-1zM14 2h1v1h-1zM5 3h1v1h-1zM6 3h1v1h-1zM7 3h1v1h-1zM8 3h1v1h-1zM9 3h1v1h-1zM10 3h1v1h-1zM11 3h1v1h-1zM4 4h1v1h-1zM5 4h1v1h-1zM6 4h1v1h-1zM7 4h1v1h-1zM8 4h1v1h-1zM9 4h1v1h-1zM3 5h1v1h-1zM4 5h1v1h-1zM5 5h1v1h-1zM6 5h1v1h-1zM7 5h1v1h-1zM2 6h1v1h-1zM3 6h1v1h-1zM4 6h1v1h-1zM5 6h1v1h-1zM6 6h1v1h-1zM1 7h1v1h-1zM2 7h1v1h-1zM3 7h1v1h-1zM4 7h1v1h-1zM0 8h1v1h-1zM1 8h1v1h-1zM2 8h1v1h-1zM3 8h1v1h-1zM0 9h1v1h-1zM1 9h1v1h-1zM0 10h1v1h-1z"/><path fill="#e6c529" stroke="#e6c529" d="M4 0h1v1h-1zM5 0h1v1h-1zM6 0h1v1h-1zM3 1h1v1h-1zM4 1h1v1h-1zM5 1h1v1h-1zM2 2h1v1h-1zM3 2h1v1h-1zM4 2h1v1h-1zM1 3h1v1h-1zM2 3h1v1h-1zM3 3h1v1h-1zM4 3h1v1h-1zM0 4h1v1h-1zM1 4h1v1h-1zM2 4h1v1h-1zM3 4h1v1h-1zM0 5h1v1h-1zM1 5h1v1h-1zM2 5h1v1h-1zM0 6h1v1h-1zM1 6h1v1h-1zM0 7h1v1h-1z"/><path fill="#e6c730" stroke="#e6c730" d="M1 0h1v1h-1zM2 0h1v1h-1zM3 0h1v1h-1zM0 1h1v1h-1zM1 1h1v1h-1zM2 1h1v1h-1zM0 2h1v1h-1zM1 2h1v1h-1zM0 3h1v1h-1z"/><path fill="#e6ca37" stroke="#e6ca37" d="M0 0h1v1h-1z"/></g><path d="M146.31 1446.7V1790.7M150.08 1446.7V1790.7M153.84 1446.7V1790.7M157.61 1446.7V1790.7M161.38 1446.7V1790.7M165.14 1446.7V1790.7M168.91 1446.7V1790.7M172.68 1446.7V1790.7M176.45 1446.7V1790.7M180.21 1446.7V1790.7M183.98 1446.7V1790.7M187.75 1446.7V1790.7M191.52 1446.7V1790.7M195.28 1446.7V1790.7M199.05 1446.7V1790.7M202.82 1446.7V1790.7M206.59 1446.7V1790.7M210.35 1446.7V1790.7M214.12 1446.7V1790.7M217.89 1446.7V1790.7M222.72 1446.7V1790.7M227.56 1446.7V1790.7M232.39 1446.7V1790.7M237.23 1446.7V1790.7M242.06 1446.7V1790.7M246.90 1446.7V1790.7M251.73 1446.7V1790.7M256.57 1446.7V1790.7M261.40 1446.7V1790.7M266.24 1446.7V1790.7M271.07 1446.7V1790.7M275.91 1446.7V1790.7M280.74 1446.7V1790.7M285.58 1446.7V1790.7M290.41 1446.7V1790.7M295.25 1446.7V1790.7M300.09 1446.7V1790.7M304.92 1446.7V1790.7M309.76 1446.7V1790.7M314.59 1446.7V1790.7M319.43 1446.7V1790.7M324.26 1446.7V1790.7M329.10 1446.7V1790.7M333.93 1446.7V1790.7M338.77 1446.7V1790.7M343.60 1446.7V1790.7M348.44 1446.7V1790.7M353.27 1446.7V1790.7M358.11 1446.7V1790.7M362.94 1446.7V1790.7M367.78 1446.7V1790.7M372.61 1446.7V1790.7M377.45 1446.7V1790.7M382.28 1446.7V1790.7M387.12 1446.7V1790.7M391.95 1446.7V1790.7M396.79 1446.7V1790.7M401.62 1446.7V1790.7M406.46 1446.7V1790.7M411.29 1446.7V1790.7M416.13 1446.7V1790.7M420.96 1446.7V1790.7M425.80 1446.7V1790.7M430.63 1446.7V1790.7M435.47 1446.7V1790.7M440.30 1446.7V1790.7M445.14 1446.7V1790.7M449.98 1446.7V1790.7M454.81 1446.7V1790.7M459.65 1446.7V1790.7M464.48 1446.7V1790.7M469.32 1446.7V1790.7M474.15 1446.7V1790.7M478.99 1446.7V1790.7M483.82 1446.7V1790.7M488.66 1446.7V1790.7M493.49 1446.7V1790.7M498.33 1446.7V1790.7M503.16 1446.7V1790.7M508.00 1446.7V1790.7M512.83 1446.7V1790.7M517.67 1446.7V1790.7M522.50 1446.7V1790.7M527.34 1446.7V1790.7M532.17 1446.7V1790.7M537.01 1446.7V1790.7M541.84 1446.7V1790.7M546.68 1446.7V1790.7M551.51 1446.7V1790.7M556.35 1446.7V1790.7M561.18 1446.7V1790.7M142.4 1785.88H565.3M142.4 1779.13H565.3M142.4 1772.38H565.3M142.4 1765.62H565.3M142.4 1758.87H565.3M142.4 1752.11H565.3M142.4 1745.36H565.3M142.4 1738.60H565.3M142.4 1731.85H565.3M142.4 1725.09H565.3M142.4 1718.34H565.3M142.4 1711.59H565.3M142.4 1704.83H565.3M142.4 1698.08H565.3M142.4 1691.32H565.3M142.4 1684.57H565.3M142.4 1677.81H565.3M142.4 1671.06H565.3M142.4 1664.30H565.3M142.4 1657.55H565.3M142.4 1650.80H565.3M142.4 1644.04H565.3M142.4 1637.29H565.3M142.4 1630.53H565.3M142.4 1623.78H565.3M142.4 1617.02H565.3M142.4 1610.27H565.3M142.4 1603.51H565.3M142.4 1596.76H565.3M142.4 1590.01H565.3M142.4 1583.25H565.3M142.4 1576.50H565.3M142.4 1569.74H565.3M142.4 1562.99H565.3M142.4 1556.23H565.3M142.4 1549.48H565.3M142.4 1542.72H565.3M142.4 1535.97H565.3M142.4 1529.22H565.3M142.4 1522.46H565.3M142.4 1515.71H565.3M142.4 1508.95H565.3M142.4 1502.20H565.3M142.4 1495.44H565.3M142.4 1488.69H565.3M142.4 1481.93H565.3M142.4 1475.18H565.3M142.4 1468.43H565.3M142.4 1461.67H565.3M142.4 1454.92H565.3M142.4 1448.16H565.3" stroke="#fff" stroke-opacity=".07" stroke-width=".9" fill="none"/></g>
<g fill="none" stroke="#000" stroke-width="2" stroke-linejoin="round" stroke-linecap="round"><path d="M410.5 1502.1L403.5 1503.5L390.7 1517.7L376.6 1537.4L369.5 1560.0L368.1 1588.3L372.4 1613.8L382.3 1630.7L396.4 1650.5L403.5 1653.3L409.1 1639.2L413.4 1616.6L416.2 1588.3L417.6 1560.0L417.6 1531.8L415.6 1512.0L413.4 1505.0Z"/><path d="M404.9 1516.2L396.4 1520.5L385.1 1540.3L379.4 1565.7L380.9 1585.5L386.5 1599.6L396.4 1613.8L403.5 1616.6L407.7 1599.6L411.4 1571.4L412.5 1543.1L412.0 1523.3L409.1 1517.7Z"/><path d="M403.5 1529.0L397.8 1537.4L392.2 1551.6L392.2 1565.7L396.4 1575.0L403.5 1575.6L406.3 1562.9L407.7 1545.9L406.3 1533.2Z"/></g>
<rect x="142.40" y="1446.70" width="422.90" height="344.00" fill="none" stroke="#000" stroke-width="1.35"/>
<path d="M142.40 1790.70v4.9M212.88 1790.70v4.9M283.37 1790.70v4.9M353.85 1790.70v4.9M424.33 1790.70v4.9M494.82 1790.70v4.9M565.30 1790.70v4.9M142.40 1790.70h-4.9M142.40 1747.70h-4.9M142.40 1704.70h-4.9M142.40 1661.70h-4.9M142.40 1618.70h-4.9M142.40 1575.70h-4.9M142.40 1532.70h-4.9M142.40 1489.70h-4.9M142.40 1446.70h-4.9" stroke="#000" stroke-width="1.25" fill="none"/>
<text x="134.71" y="1821.00" font-size="27.51" textLength="15.36" lengthAdjust="spacingAndGlyphs">0</text>
<text x="196.90" y="1821.00" font-size="27.51" textLength="32.04" lengthAdjust="spacingAndGlyphs">10</text>
<text x="267.16" y="1821.00" font-size="27.51" textLength="32.27" lengthAdjust="spacingAndGlyphs">20</text>
<text x="338.09" y="1821.00" font-size="27.51" textLength="31.81" lengthAdjust="spacingAndGlyphs">30</text>
<text x="408.28" y="1821.00" font-size="27.51" textLength="32.11" lengthAdjust="spacingAndGlyphs">40</text>
<text x="479.02" y="1821.00" font-size="27.51" textLength="31.84" lengthAdjust="spacingAndGlyphs">50</text>
<text x="548.98" y="1821.00" font-size="27.51" textLength="32.39" lengthAdjust="spacingAndGlyphs">60</text>
<text x="91.67" y="1800.80" font-size="27.51" textLength="40.47" lengthAdjust="spacingAndGlyphs">0.0</text>
<text x="91.68" y="1757.80" font-size="27.51" textLength="40.05" lengthAdjust="spacingAndGlyphs">0.1</text>
<text x="91.69" y="1714.80" font-size="27.51" textLength="39.88" lengthAdjust="spacingAndGlyphs">0.2</text>
<text x="91.68" y="1671.80" font-size="27.51" textLength="40.24" lengthAdjust="spacingAndGlyphs">0.3</text>
<text x="91.67" y="1628.80" font-size="27.51" textLength="40.46" lengthAdjust="spacingAndGlyphs">0.4</text>
<text x="91.69" y="1585.80" font-size="27.51" textLength="39.98" lengthAdjust="spacingAndGlyphs">0.5</text>
<text x="91.67" y="1542.80" font-size="27.51" textLength="40.72" lengthAdjust="spacingAndGlyphs">0.6</text>
<text x="91.68" y="1499.80" font-size="27.51" textLength="40.29" lengthAdjust="spacingAndGlyphs">0.7</text>
<text x="91.67" y="1456.80" font-size="27.51" textLength="40.56" lengthAdjust="spacingAndGlyphs">0.8</text>
<text x="305.35" y="1850.90" font-size="27.51" textLength="16.82" lengthAdjust="spacingAndGlyphs" font-style="italic">p</text>
<text x="325.40" y="1852.90" font-size="30.26" textLength="8.80" lengthAdjust="spacingAndGlyphs">/</text>
<text x="332.28" y="1850.90" font-size="27.51" textLength="8.16" lengthAdjust="spacingAndGlyphs">(</text>
<text x="341.11" y="1850.90" font-size="27.51" textLength="24.67" lengthAdjust="spacingAndGlyphs" font-style="italic">m</text>
<text x="365.77" y="1856.50" font-size="19.26" textLength="12.03" lengthAdjust="spacingAndGlyphs" font-style="italic">e</text>
<text x="378.48" y="1850.90" font-size="27.51" textLength="12.61" lengthAdjust="spacingAndGlyphs" font-style="italic">c</text>
<text x="394.04" y="1850.90" font-size="27.51" textLength="9.29" lengthAdjust="spacingAndGlyphs">)</text>
<text x="224.07" y="1436.90" font-size="27.51" textLength="8.11" lengthAdjust="spacingAndGlyphs" font-style="italic">t</text>
<text x="235.40" y="1436.90" font-size="27.51" textLength="82.67" lengthAdjust="spacingAndGlyphs">=1.80</text>
<text x="319.65" y="1436.90" font-size="27.51" textLength="20.97" lengthAdjust="spacingAndGlyphs">s,</text>
<text x="349.40" y="1436.90" font-size="27.51" textLength="17.28" lengthAdjust="spacingAndGlyphs" font-style="italic">B</text>
<text x="376.67" y="1436.90" font-size="27.51" textLength="18.27" lengthAdjust="spacingAndGlyphs">=</text>
<text x="406.53" y="1436.90" font-size="27.51" textLength="60.54" lengthAdjust="spacingAndGlyphs">1.06</text>
<text x="466.96" y="1436.90" font-size="27.51" textLength="17.50" lengthAdjust="spacingAndGlyphs">T</text>
<text x="47.90" y="1419.20" font-size="27.20" textLength="39.40" lengthAdjust="spacingAndGlyphs">(d)</text>
<g transform="translate(75.80 1668.60) rotate(-90)"><text x="-1.44" y="0.00" font-size="27.51" textLength="15.79" lengthAdjust="spacingAndGlyphs" font-style="italic">θ</text></g>
<g transform="translate(80.00 1653.90) rotate(-90)"><text x="0.45" y="0.00" font-size="19.26" textLength="10.13" lengthAdjust="spacingAndGlyphs" font-style="italic">p</text></g>
<g transform="translate(75.80 1629.60) rotate(-90)"><text x="-2.27" y="0.00" font-size="27.51" textLength="63.63" lengthAdjust="spacingAndGlyphs">[rad]</text></g>
<rect x="592.30" y="1446.70" width="17.90" height="344.00" fill="url(#cbv)"/>
<rect x="592.30" y="1446.70" width="17.90" height="344.00" fill="url(#cbh)" stroke="#222" stroke-width="1.1"/>
<text x="620.55" y="1456.80" font-size="27.51" textLength="15.36" lengthAdjust="spacingAndGlyphs">0</text>
<text x="621.09" y="1505.94" font-size="27.51" textLength="36.58" lengthAdjust="spacingAndGlyphs">−1</text>
<text x="621.10" y="1555.09" font-size="27.51" textLength="36.40" lengthAdjust="spacingAndGlyphs">−2</text>
<text x="621.09" y="1604.23" font-size="27.51" textLength="36.75" lengthAdjust="spacingAndGlyphs">−3</text>
<text x="621.08" y="1653.37" font-size="27.51" textLength="36.92" lengthAdjust="spacingAndGlyphs">−4</text>
<text x="621.10" y="1702.51" font-size="27.51" textLength="36.48" lengthAdjust="spacingAndGlyphs">−5</text>
<text x="621.07" y="1751.66" font-size="27.51" textLength="37.24" lengthAdjust="spacingAndGlyphs">−6</text>
<text x="621.08" y="1800.80" font-size="27.51" textLength="36.82" lengthAdjust="spacingAndGlyphs">−7</text>
<path d="M610.20 1446.70h4.8M610.20 1495.84h4.8M610.20 1544.99h4.8M610.20 1594.13h4.8M610.20 1643.27h4.8M610.20 1692.41h4.8M610.20 1741.56h4.8M610.20 1790.70h4.8" stroke="#222" stroke-width="1.2" fill="none"/>
<g transform="translate(684.80 1731.60) rotate(-90)"><text x="-1.97" y="0.00" font-size="27.51" textLength="38.95" lengthAdjust="spacingAndGlyphs">log</text></g>
<g transform="translate(689.30 1691.30) rotate(-90)"><text x="-1.41" y="0.00" font-size="19.26" textLength="20.53" lengthAdjust="spacingAndGlyphs">10</text></g>
<g transform="translate(684.80 1666.90) rotate(-90)"><text x="-1.73" y="0.00" font-size="27.51" textLength="9.29" lengthAdjust="spacingAndGlyphs">(</text></g>
<g transform="translate(684.80 1658.30) rotate(-90)"><text x="-1.20" y="0.00" font-size="27.51" textLength="9.92" lengthAdjust="spacingAndGlyphs" font-style="italic">f</text></g>
<g transform="translate(689.60 1648.90) rotate(-90)"><text x="-0.33" y="0.00" font-size="19.26" textLength="17.45" lengthAdjust="spacingAndGlyphs" font-style="italic">re</text></g>
<g transform="translate(686.80 1630.10) rotate(-90)"><text x="0.00" y="0.00" font-size="30.26" textLength="10.40" lengthAdjust="spacingAndGlyphs">/</text></g>
<g transform="translate(684.80 1618.60) rotate(-90)"><text x="-1.98" y="0.00" font-size="27.51" textLength="66.25" lengthAdjust="spacingAndGlyphs">max(</text></g>
<g transform="translate(684.80 1553.30) rotate(-90)"><text x="-1.23" y="0.00" font-size="27.51" textLength="10.17" lengthAdjust="spacingAndGlyphs" font-style="italic">f</text></g>
<g transform="translate(689.60 1543.90) rotate(-90)"><text x="-0.35" y="0.00" font-size="19.26" textLength="18.52" lengthAdjust="spacingAndGlyphs" font-style="italic">re</text></g>
<g transform="translate(684.80 1522.90) rotate(-90)"><text x="-0.17" y="0.00" font-size="27.51" textLength="19.37" lengthAdjust="spacingAndGlyphs">))</text></g>
<path d="M27.8 95.6V1404" stroke="#000" stroke-width="3.6" fill="none"/>
<path d="M27.9 1421.9L19.4 1399.3L27.9 1402.3L36.4 1399.3Z" fill="#000" stroke="#000" stroke-width=".6" stroke-linejoin="miter"/>
<g transform="translate(20.60 918.00) rotate(-90)"><text x="-1.26" y="0.00" font-size="27.51" textLength="324.99" lengthAdjust="spacingAndGlyphs">electric field acceleration</text></g>
<path d="M716.7 995.8L718.4 1783" stroke="#00f" stroke-width="3.0" fill="none"/>
<path d="M718.45 1797.6L711.3 1779.3L718.4 1782L725.5 1779.3Z" fill="#00f" stroke="#00f" stroke-width=".5"/>
<g transform="translate(741.00 1577.60) rotate(-90)"><text x="-2.00" y="0.00" font-size="27.51" textLength="344.75" lengthAdjust="spacingAndGlyphs" fill="#00f">magnetic field ramp-down</text></g>
</g></svg></body></html>
